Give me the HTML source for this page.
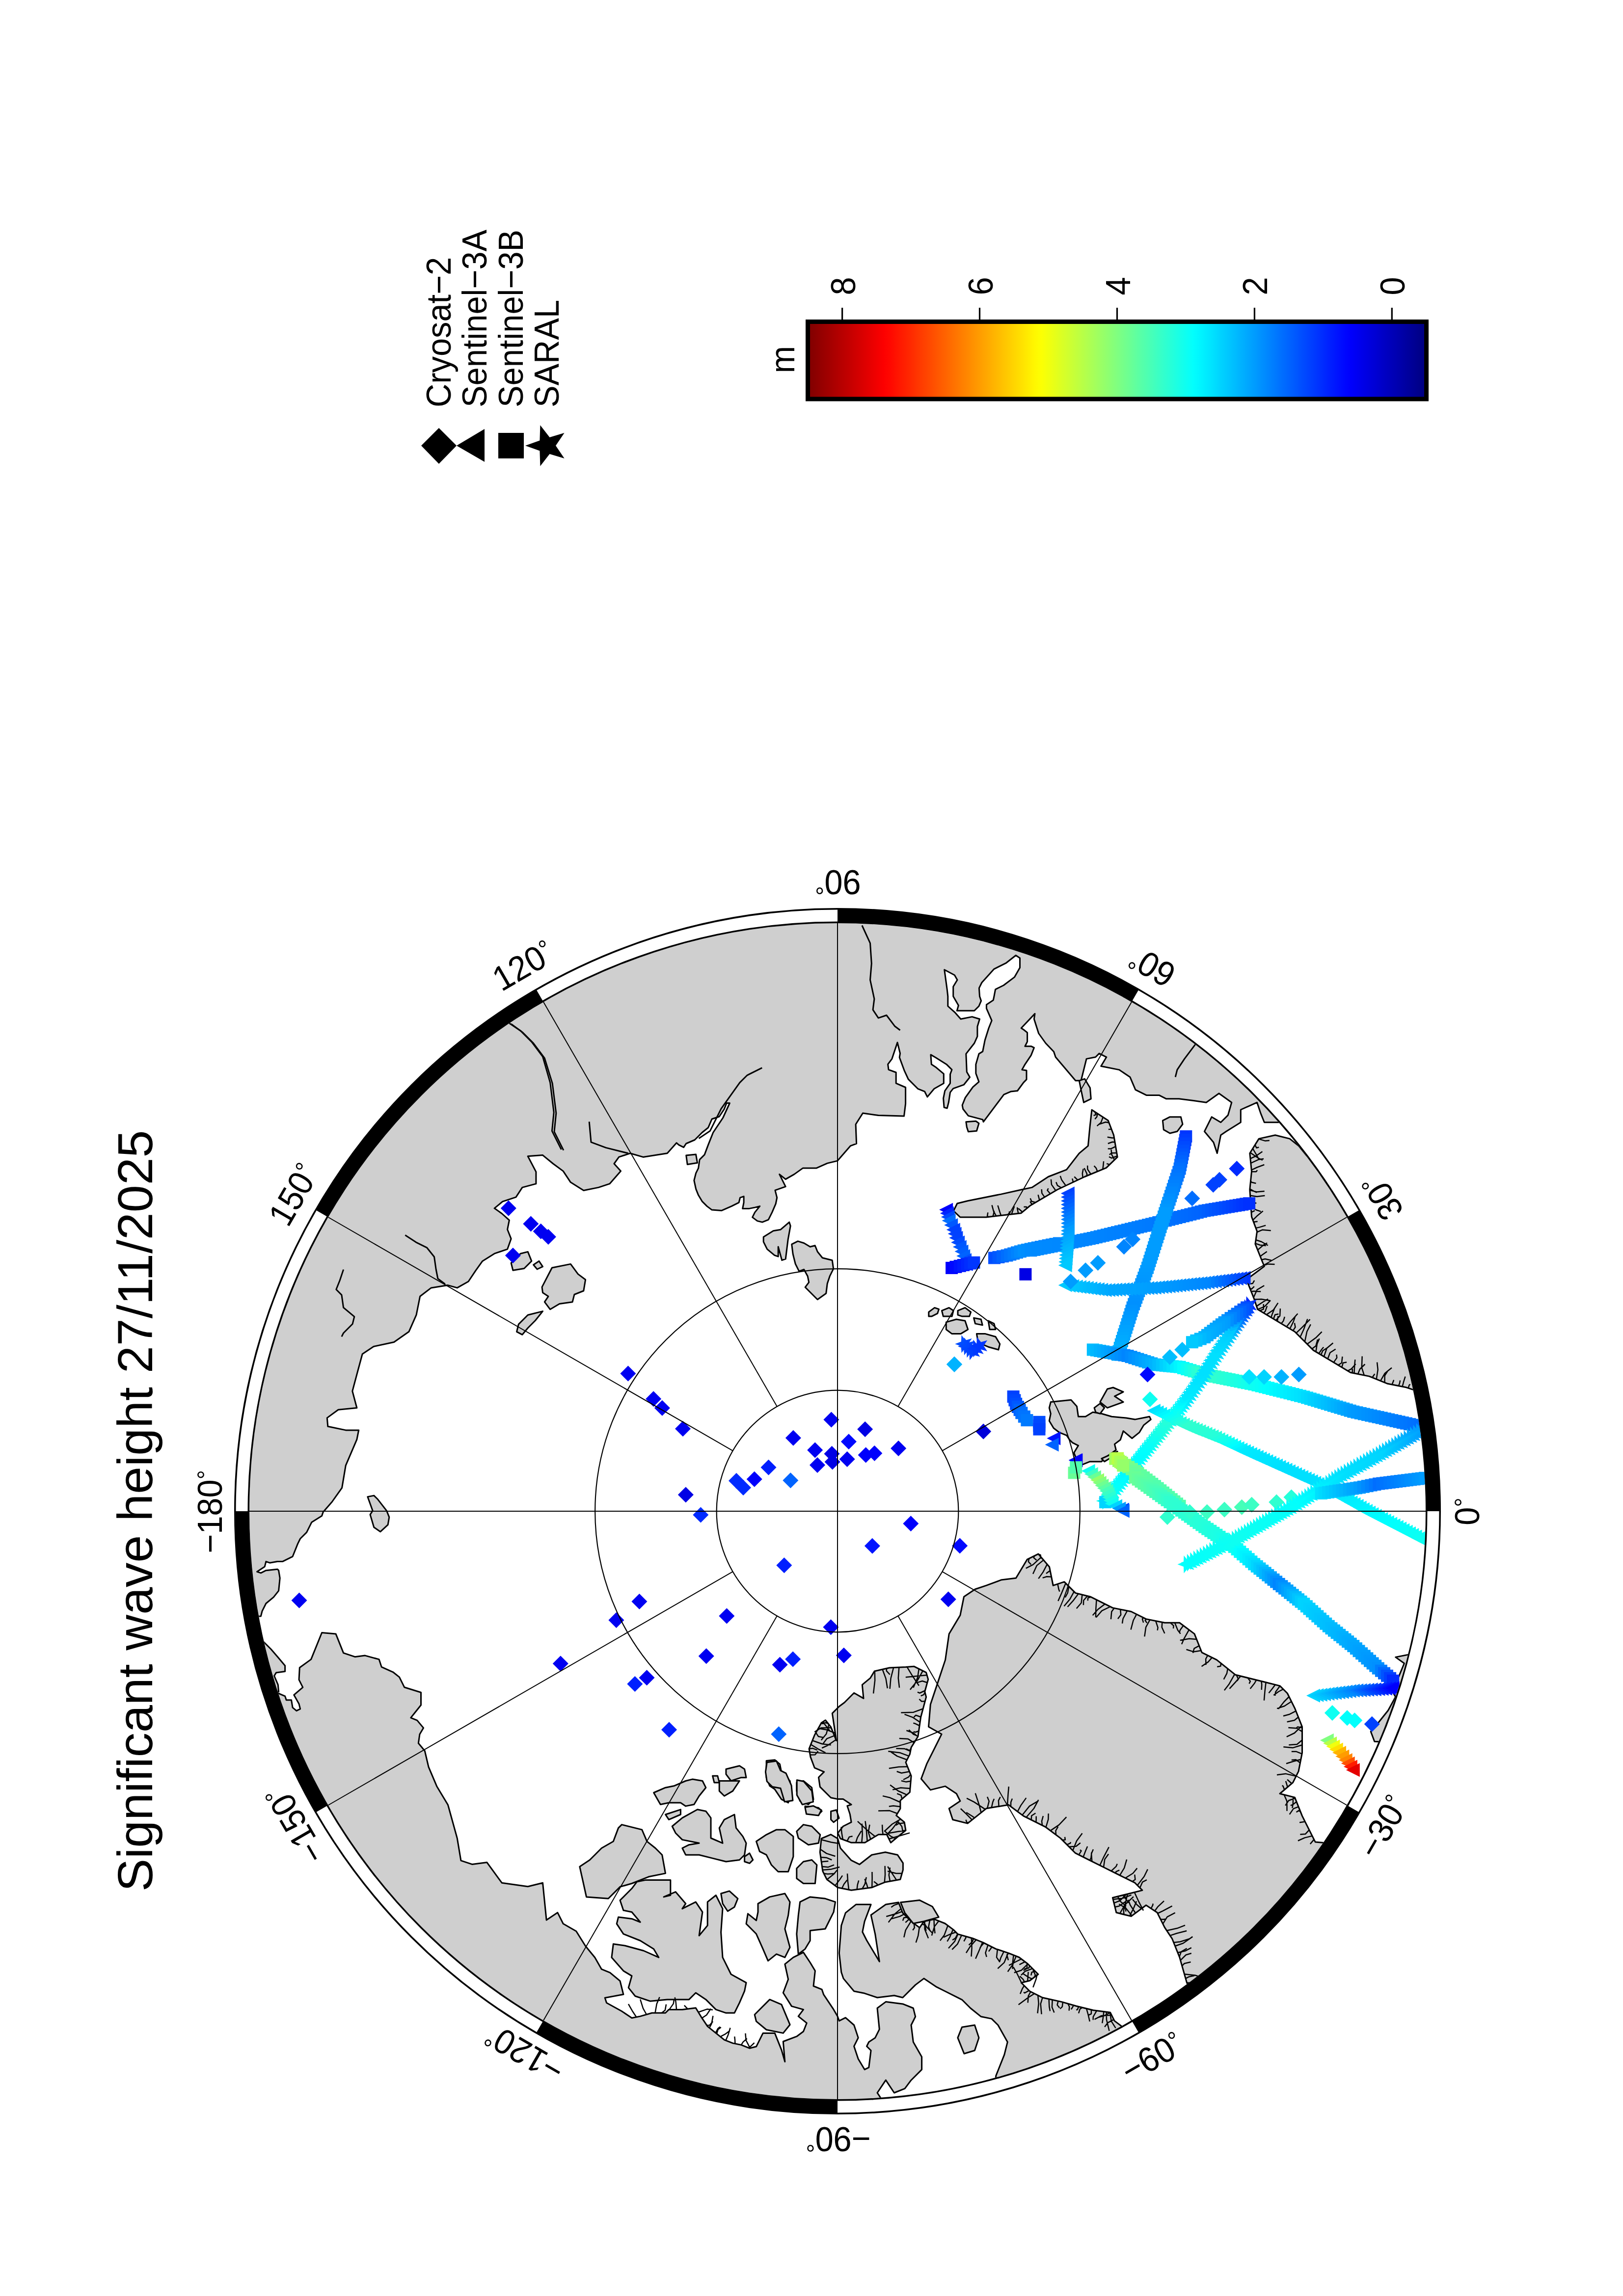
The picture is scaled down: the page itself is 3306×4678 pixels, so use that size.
<!DOCTYPE html><html><head><meta charset="utf-8"><style>html,body{margin:0;padding:0;background:#fff;}svg{display:block}</style></head><body>
<svg xmlns="http://www.w3.org/2000/svg" width="3306" height="4678" viewBox="0 0 3306 4678" font-family='"Liberation Sans", sans-serif'>
<rect width="3306" height="4678" fill="#fff"/>
<defs>
<clipPath id="mapclip"><circle cx="1706.0" cy="3079.0" r="1198.0"/></clipPath>
<linearGradient id="cb" x1="0" y1="0" x2="1" y2="0"><stop offset="0.0000" stop-color="#7f0000"/><stop offset="0.0111" stop-color="#8a0000"/><stop offset="0.0222" stop-color="#960000"/><stop offset="0.0333" stop-color="#a10000"/><stop offset="0.0444" stop-color="#ad0000"/><stop offset="0.0556" stop-color="#b80000"/><stop offset="0.0667" stop-color="#c30000"/><stop offset="0.0778" stop-color="#cf0000"/><stop offset="0.0889" stop-color="#da0000"/><stop offset="0.1000" stop-color="#e50000"/><stop offset="0.1111" stop-color="#f10000"/><stop offset="0.1222" stop-color="#fc0000"/><stop offset="0.1333" stop-color="#ff0800"/><stop offset="0.1444" stop-color="#ff1400"/><stop offset="0.1556" stop-color="#ff1f00"/><stop offset="0.1667" stop-color="#ff2a00"/><stop offset="0.1778" stop-color="#ff3600"/><stop offset="0.1889" stop-color="#ff4100"/><stop offset="0.2000" stop-color="#ff4c00"/><stop offset="0.2111" stop-color="#ff5800"/><stop offset="0.2222" stop-color="#ff6300"/><stop offset="0.2333" stop-color="#ff6e00"/><stop offset="0.2444" stop-color="#ff7a00"/><stop offset="0.2556" stop-color="#ff8500"/><stop offset="0.2667" stop-color="#ff9100"/><stop offset="0.2778" stop-color="#ff9c00"/><stop offset="0.2889" stop-color="#ffa700"/><stop offset="0.3000" stop-color="#ffb300"/><stop offset="0.3111" stop-color="#ffbe00"/><stop offset="0.3222" stop-color="#ffc900"/><stop offset="0.3333" stop-color="#ffd500"/><stop offset="0.3444" stop-color="#ffe000"/><stop offset="0.3556" stop-color="#ffeb00"/><stop offset="0.3667" stop-color="#fff700"/><stop offset="0.3778" stop-color="#fcff03"/><stop offset="0.3889" stop-color="#f1ff0e"/><stop offset="0.4000" stop-color="#e6ff19"/><stop offset="0.4111" stop-color="#daff25"/><stop offset="0.4222" stop-color="#cfff30"/><stop offset="0.4333" stop-color="#c3ff3c"/><stop offset="0.4444" stop-color="#b8ff47"/><stop offset="0.4556" stop-color="#adff52"/><stop offset="0.4667" stop-color="#a2ff5e"/><stop offset="0.4778" stop-color="#96ff69"/><stop offset="0.4889" stop-color="#8bff74"/><stop offset="0.5000" stop-color="#80ff80"/><stop offset="0.5111" stop-color="#74ff8b"/><stop offset="0.5222" stop-color="#69ff96"/><stop offset="0.5333" stop-color="#5dffa2"/><stop offset="0.5444" stop-color="#52ffad"/><stop offset="0.5556" stop-color="#47ffb8"/><stop offset="0.5667" stop-color="#3bffc4"/><stop offset="0.5778" stop-color="#30ffcf"/><stop offset="0.5889" stop-color="#25ffda"/><stop offset="0.6000" stop-color="#19ffe6"/><stop offset="0.6111" stop-color="#0efff1"/><stop offset="0.6222" stop-color="#03fffc"/><stop offset="0.6333" stop-color="#00f6ff"/><stop offset="0.6444" stop-color="#00ebff"/><stop offset="0.6556" stop-color="#00e0ff"/><stop offset="0.6667" stop-color="#00d4ff"/><stop offset="0.6778" stop-color="#00c9ff"/><stop offset="0.6889" stop-color="#00beff"/><stop offset="0.7000" stop-color="#00b2ff"/><stop offset="0.7111" stop-color="#00a7ff"/><stop offset="0.7222" stop-color="#009cff"/><stop offset="0.7333" stop-color="#0090ff"/><stop offset="0.7444" stop-color="#0085ff"/><stop offset="0.7556" stop-color="#007aff"/><stop offset="0.7667" stop-color="#006eff"/><stop offset="0.7778" stop-color="#0063ff"/><stop offset="0.7889" stop-color="#0058ff"/><stop offset="0.8000" stop-color="#004cff"/><stop offset="0.8111" stop-color="#0041ff"/><stop offset="0.8222" stop-color="#0036ff"/><stop offset="0.8333" stop-color="#002aff"/><stop offset="0.8444" stop-color="#001fff"/><stop offset="0.8556" stop-color="#0014ff"/><stop offset="0.8667" stop-color="#0008ff"/><stop offset="0.8778" stop-color="#0000fc"/><stop offset="0.8889" stop-color="#0000f1"/><stop offset="0.9000" stop-color="#0000e5"/><stop offset="0.9111" stop-color="#0000da"/><stop offset="0.9222" stop-color="#0000cf"/><stop offset="0.9333" stop-color="#0000c3"/><stop offset="0.9444" stop-color="#0000b8"/><stop offset="0.9556" stop-color="#0000ad"/><stop offset="0.9667" stop-color="#0000a1"/><stop offset="0.9778" stop-color="#000096"/><stop offset="0.9889" stop-color="#00008a"/><stop offset="1.0000" stop-color="#00007f"/></linearGradient>
</defs>
<g clip-path="url(#mapclip)">
<path d="M531.4,3292.9L534.0,3282.6L541.8,3267.0L557.3,3254.1L567.6,3241.1L570.2,3215.3L567.6,3199.7L565.0,3197.2L541.8,3199.7L531.4,3204.9L523.6,3202.3L539.2,3192.0L541.8,3181.6L549.5,3184.2L565.0,3181.6L575.4,3181.6L596.1,3171.3L606.5,3145.4L611.6,3135.0L624.6,3122.1L634.9,3101.4L655.6,3088.5L658.2,3080.7L676.3,3060.0L696.6,3031.3L704.2,2985.9L726.9,2932.9L730.7,2913.9L704.2,2913.9L667.8,2906.3L666.3,2888.9L689.0,2872.3L726.9,2868.5L717.8,2834.4L726.9,2800.3L738.2,2758.7L761.0,2743.5L802.6,2734.5L832.9,2713.3L848.0,2679.2L855.6,2641.3L878.3,2623.9L912.4,2618.6L931.3,2623.9L954.1,2611.0L969.2,2588.3L982.8,2569.4L1007.1,2554.2L1033.6,2545.1L1041.1,2523.9L1033.6,2505.0L1037.4,2486.1L1022.2,2472.5L1007.1,2461.8L1023.7,2448.2L1051.0,2439.1L1063.9,2419.4L1091.9,2411.9L1091.9,2387.6L1075.2,2355.8L1105.5,2353.6L1126.7,2371.0L1147.2,2386.1L1162.3,2408.8L1188.8,2425.5L1219.1,2419.4L1241.8,2411.9L1264.5,2386.1L1250.9,2371.0L1260.7,2357.4L1283.5,2349.8L1310.0,2357.4L1359.2,2349.8L1378.1,2328.6L1382.6,2332.6L1392.6,2337.6L1397.6,2330.0L1415.1,2322.5L1430.1,2307.5L1442.6,2297.5L1450.1,2280.0L1465.1,2275.0L1475.1,2260.0L1480.1,2247.5L1486.4,2247.5L1472.6,2277.5L1462.6,2292.5L1452.6,2307.5L1442.6,2332.6L1435.1,2352.6L1425.1,2362.6L1422.6,2380.1L1417.6,2390.1L1413.8,2405.1L1417.6,2422.6L1422.6,2435.1L1430.1,2447.6L1440.1,2457.6L1450.1,2465.1L1470.1,2466.4L1490.1,2457.6L1505.1,2450.1L1507.6,2440.1L1515.1,2437.6L1515.1,2450.1L1512.6,2462.6L1525.1,2462.6L1537.6,2460.1L1547.7,2457.6L1537.6,2470.1L1532.6,2480.1L1542.6,2487.6L1552.7,2490.1L1565.2,2485.1L1572.7,2470.1L1580.2,2452.6L1582.7,2440.1L1578.9,2425.1L1600.2,2417.6L1587.7,2392.6L1600.2,2402.6L1617.7,2392.6L1635.2,2380.1L1662.7,2380.1L1685.2,2370.1L1706.0,2365.1L1732.5,2334.6L1744.6,2330.1L1743.1,2290.7L1757.5,2268.0L1789.3,2272.5L1841.5,2274.1L1844.6,2248.8L1844.6,2215.5L1825.2,2207.2L1825.2,2185.0L1810.0,2179.4L1808.6,2168.4L1816.9,2157.3L1822.5,2140.6L1828.0,2124.0L1833.5,2146.2L1832.2,2154.5L1841.9,2180.8L1850.2,2198.9L1869.6,2218.3L1883.4,2223.8L1889.0,2234.9L1902.9,2218.3L1922.3,2207.2L1922.3,2187.8L1905.6,2173.9L1897.3,2168.4L1895.9,2148.9L1905.6,2154.5L1927.8,2168.4L1938.9,2179.4L1935.5,2188.7L1935.5,2207.1L1924.7,2222.5L1921.6,2237.9L1923.1,2256.4L1929.3,2258.0L1932.4,2245.7L1935.5,2225.6L1941.6,2217.9L1963.2,2210.2L1975.5,2194.8L1969.3,2184.0L1967.8,2147.1L1984.7,2125.5L1990.9,2111.6L1990.9,2091.6L1995.5,2076.2L1980.1,2071.6L1957.0,2076.2L1944.7,2062.3L1930.8,2050.0L1930.8,2030.0L1929.2,2015.9L1923.7,1975.7L1944.4,1986.7L1950.0,1996.5L1941.7,2010.3L1941.7,2030.0L1952.4,2048.5L1949.3,2059.3L1984.7,2059.3L1994.0,2050.0L1998.6,2039.2L1995.5,2030.0L1994.4,2013.1L1999.9,2002.0L2024.9,1974.3L2049.8,1961.8L2069.2,1946.5L2077.5,1952.1L2077.5,1971.5L2066.4,1990.9L2044.3,2007.5L2027.6,2015.9L2024.9,2030.0L2023.3,2037.7L2009.4,2046.9L2009.4,2054.6L2020.2,2079.3L2014.0,2094.7L2006.3,2119.3L2001.7,2142.4L1994.0,2147.1L1987.8,2168.6L1987.8,2187.1L1994.0,2204.1L1981.7,2214.8L1966.3,2236.4L1960.1,2251.8L1961.6,2259.5L1972.4,2273.4L2001.7,2281.1L2003.2,2285.7L2044.8,2230.2L2058.7,2224.1L2072.5,2222.5L2084.9,2205.6L2091.0,2199.4L2091.0,2181.0L2081.8,2179.4L2087.9,2168.6L2100.3,2150.1L2106.4,2134.7L2100.3,2131.7L2087.9,2131.7L2092.6,2122.4L2092.6,2103.9L2084.9,2097.8L2080.2,2094.7L2108.0,2065.4L2106.4,2076.2L2115.7,2105.5L2130.0,2125.5L2146.5,2142.7L2150.2,2153.8L2190.9,2201.8L2202.0,2201.8L2213.1,2157.4L2231.6,2153.8L2239.0,2146.4L2253.8,2153.8L2242.7,2172.2L2279.6,2179.6L2301.8,2194.4L2312.9,2220.3L2335.1,2231.4L2361.0,2231.4L2375.7,2238.8L2401.6,2238.8L2431.2,2242.5L2457.1,2246.2L2483.0,2227.7L2508.8,2246.2L2501.4,2272.1L2486.7,2286.8L2468.2,2275.7L2453.4,2305.3L2471.9,2327.5L2479.3,2349.7L2486.7,2312.7L2497.7,2305.3L2527.3,2286.8L2527.3,2261.0L2560.6,2246.2L2568.0,2268.4L2575.4,2286.8L2605.0,2286.8L2745.4,2201.8L2782.4,2349.7L2680.0,2371.9L2660.4,2353.4L2645.6,2334.9L2627.1,2320.1L2597.6,2312.7L2564.3,2320.1L2545.8,2349.7L2549.5,2386.7L2545.8,2423.6L2549.5,2479.1L2560.6,2508.7L2556.9,2534.5L2571.7,2571.5L2575.4,2580.0L2539.0,2607.2L2554.1,2645.1L2561.7,2667.8L2599.5,2690.5L2637.4,2713.3L2675.3,2751.1L2713.1,2773.8L2751.0,2796.5L2788.9,2804.1L2826.7,2819.3L2864.6,2826.8L2887.3,2834.4L3069.0,2910.1L3200.0,2900.0L3200.0,1600.0L300.0,1600.0L300.0,3300.0Z" fill="#cfcfcf" stroke="#000" stroke-width="3" stroke-linejoin="round"/>
<path d="M1555.2,2520.2L1575.2,2507.7L1590.2,2505.2L1607.7,2490.1L1610.2,2497.7L1605.2,2525.2L1602.7,2545.2L1600.2,2565.2L1592.7,2567.7L1585.2,2540.2L1585.2,2560.2L1577.7,2557.7L1562.7,2545.2L1555.2,2530.2Z" fill="#cfcfcf" stroke="#000" stroke-width="3" stroke-linejoin="round"/>
<path d="M1612.7,2535.2L1625.2,2528.9L1637.7,2532.7L1650.2,2540.2L1660.2,2537.7L1665.2,2550.2L1675.2,2562.7L1695.2,2567.7L1697.7,2585.2L1690.2,2600.2L1685.2,2615.2L1682.7,2635.2L1665.2,2647.7L1660.2,2642.7L1640.2,2622.7L1647.7,2612.7L1645.2,2600.2L1637.7,2586.5L1627.7,2590.2L1620.2,2575.2L1615.2,2555.2Z" fill="#cfcfcf" stroke="#000" stroke-width="3" stroke-linejoin="round"/>
<path d="M1104.0,2622.4L1124.4,2583.0L1162.3,2575.4L1177.4,2595.9L1192.6,2607.2L1188.8,2630.0L1169.9,2637.5L1166.1,2652.7L1139.6,2656.5L1120.7,2667.8L1109.3,2652.7L1116.9,2641.3L1105.5,2633.7Z" fill="#cfcfcf" stroke="#000" stroke-width="3" stroke-linejoin="round"/>
<path d="M1056.3,2698.1L1075.2,2679.2L1105.5,2671.6L1090.4,2690.5L1075.2,2705.7L1063.9,2719.3L1052.5,2713.3Z" fill="#cfcfcf" stroke="#000" stroke-width="3" stroke-linejoin="round"/>
<path d="M1041.1,2573.2L1060.1,2554.2L1075.2,2550.4L1082.8,2569.4L1067.6,2584.5L1044.9,2588.3Z" fill="#cfcfcf" stroke="#000" stroke-width="3" stroke-linejoin="round"/>
<path d="M1086.6,2577.0L1097.9,2569.4L1105.5,2580.7L1094.2,2586.0Z" fill="#cfcfcf" stroke="#000" stroke-width="3" stroke-linejoin="round"/>
<path d="M748.8,3049.6L759.1,3078.1L754.0,3085.9L761.7,3111.8L774.7,3120.8L790.2,3106.6L792.8,3091.1L787.6,3078.1L769.5,3054.8L761.7,3047.1Z" fill="#cfcfcf" stroke="#000" stroke-width="3" stroke-linejoin="round"/>
<path d="M2224.0,2261.2L2257.3,2283.1L2268.6,2312.7L2276.2,2357.4L2253.5,2379.3L2209.6,2397.5L2153.5,2424.0L2098.3,2456.5L2080.1,2471.7L2008.9,2480.0L1955.9,2480.0L1942.3,2467.2L1949.8,2452.0L1971.0,2446.7L2039.2,2433.1L2080.1,2424.0L2102.0,2419.4L2135.4,2397.5L2172.5,2383.1L2198.2,2349.8L2216.4,2334.6L2220.2,2294.5Z" fill="#cfcfcf" stroke="#000" stroke-width="3" stroke-linejoin="round"/>
<path d="M2198.3,2201.8L2209.4,2198.1L2220.5,2216.6L2222.3,2238.8L2207.5,2246.2L2202.0,2220.3Z" fill="#cfcfcf" stroke="#000" stroke-width="3" stroke-linejoin="round"/>
<path d="M2368.4,2283.1L2383.1,2275.7L2405.3,2275.7L2409.0,2290.5L2397.9,2305.3L2383.1,2309.0L2370.2,2301.6Z" fill="#cfcfcf" stroke="#000" stroke-width="3" stroke-linejoin="round"/>
<path d="M2140.3,2856.6L2181.7,2852.2L2193.5,2865.5L2196.5,2886.2L2211.2,2886.2L2226.0,2877.3L2243.8,2880.3L2264.5,2886.2L2294.0,2889.1L2311.8,2892.1L2341.4,2886.2L2344.3,2892.1L2329.5,2903.9L2320.7,2918.7L2305.9,2930.5L2288.1,2915.7L2282.2,2933.5L2270.4,2942.4L2273.3,2954.2L2252.6,2969.0L2243.8,2977.9L2220.1,2977.9L2205.3,2983.8L2193.5,2974.9L2187.6,2960.1L2196.5,2945.3L2184.6,2939.4L2178.7,2933.5L2172.8,2924.6L2158.0,2918.7L2146.2,2909.8L2137.3,2895.0L2140.3,2880.3L2137.3,2868.4Z" fill="#cfcfcf" stroke="#000" stroke-width="3" stroke-linejoin="round"/>
<path d="M2255.6,2830.0L2267.4,2827.0L2288.1,2835.9L2270.4,2844.8L2288.1,2856.6L2255.6,2868.4L2240.8,2856.6Z" fill="#cfcfcf" stroke="#000" stroke-width="3" stroke-linejoin="round"/>
<path d="M2229.0,2868.4L2240.8,2859.6L2249.7,2868.4L2240.8,2880.3L2231.9,2877.3Z" fill="#cfcfcf" stroke="#000" stroke-width="3" stroke-linejoin="round"/>
<path d="M2243.8,2971.9L2276.3,2957.2L2264.5,2969.0L2249.7,2977.9Z" fill="#cfcfcf" stroke="#000" stroke-width="3" stroke-linejoin="round"/>
<path d="M1891.8,2673.2L1903.7,2664.4L1912.5,2667.3L1909.6,2676.2L1897.7,2682.1L1891.8,2682.1Z" fill="#cfcfcf" stroke="#000" stroke-width="3" stroke-linejoin="round"/>
<path d="M1918.4,2670.3L1933.2,2664.4L1942.1,2670.3L1939.1,2682.1L1921.4,2682.1Z" fill="#cfcfcf" stroke="#000" stroke-width="3" stroke-linejoin="round"/>
<path d="M1951.0,2670.3L1965.8,2664.4L1977.6,2673.2L1974.6,2682.1L1959.9,2682.1L1951.0,2679.1Z" fill="#cfcfcf" stroke="#000" stroke-width="3" stroke-linejoin="round"/>
<path d="M1927.3,2693.9L1948.0,2688.0L1965.8,2691.0L1971.7,2708.7L1956.9,2717.6L1939.1,2717.6L1927.3,2708.7Z" fill="#cfcfcf" stroke="#000" stroke-width="3" stroke-linejoin="round"/>
<path d="M1989.4,2717.6L2007.2,2717.6L2027.9,2723.5L2036.7,2738.3L2033.8,2750.1L2013.1,2744.2L1992.4,2735.3Z" fill="#cfcfcf" stroke="#000" stroke-width="3" stroke-linejoin="round"/>
<path d="M1983.5,2685.1L1998.3,2688.0L2001.3,2699.9L1986.5,2696.9Z" fill="#cfcfcf" stroke="#000" stroke-width="3" stroke-linejoin="round"/>
<path d="M2013.1,2691.0L2024.9,2696.9L2027.9,2708.7L2016.0,2708.7Z" fill="#cfcfcf" stroke="#000" stroke-width="3" stroke-linejoin="round"/>
<path d="M515.9,3331.7L536.6,3344.7L552.1,3360.2L567.6,3378.3L580.6,3393.8L580.6,3405.5L562.5,3408.1L558.6,3414.5L566.3,3432.6L567.6,3446.9L515.9,3448.2Z" fill="#cfcfcf" stroke="#000" stroke-width="3" stroke-linejoin="round"/>
<path d="M568.9,3450.8L580.6,3455.9L583.2,3463.7L593.5,3463.7L596.1,3479.2L603.9,3485.7L611.6,3481.8L609.0,3471.5L598.7,3453.3L616.8,3437.8L609.0,3422.3L610.3,3397.7L633.6,3380.9L655.6,3326.5L684.1,3329.1L699.6,3367.9L722.9,3375.7L743.6,3373.1L772.1,3380.9L777.2,3396.4L800.5,3406.8L813.5,3417.1L823.8,3437.8L857.5,3448.2L857.5,3474.0L847.1,3487.0L836.8,3499.9L849.7,3505.1L862.6,3520.6L854.9,3533.6L852.3,3551.7L865.2,3567.2L873.0,3600.1L889.7,3639.4L912.4,3677.2L931.3,3745.4L938.9,3790.8L961.6,3798.4L991.9,3794.6L1022.2,3836.2L1075.2,3843.8L1105.5,3836.2L1109.3,3874.1L1113.1,3912.0L1135.8,3896.8L1147.2,3919.5L1173.7,3934.7L1192.6,3965.0L1211.7,3988.2L1225.4,4012.2L1242.5,4019.1L1263.0,4036.2L1269.9,4063.6L1232.2,4070.4L1235.6,4080.7L1266.5,4097.8L1287.0,4111.5L1304.2,4108.1L1328.1,4101.3L1355.5,4101.3L1362.4,4094.4L1389.8,4094.4L1417.2,4091.0L1427.5,4108.1L1441.2,4128.7L1458.3,4142.4L1475.4,4156.1L1492.6,4162.9L1509.7,4166.4L1526.8,4173.2L1540.5,4169.8L1554.2,4142.4L1578.2,4142.4L1591.9,4176.6L1598.8,4200.6L1595.3,4159.5L1622.8,4149.2L1636.5,4139.0L1643.3,4121.8L1626.2,4108.1L1636.5,4094.4L1612.5,4087.6L1595.3,4060.2L1605.6,4032.8L1598.8,4001.9L1615.9,3988.2L1636.5,3977.9L1650.2,3998.5L1660.4,4015.6L1657.0,4046.5L1674.1,4053.3L1677.6,4063.6L1698.1,4094.4L1706.0,4108.1L1709.4,4117.4L1722.3,4110.9L1739.6,4126.0L1748.2,4151.9L1739.6,4169.2L1748.2,4195.0L1761.1,4216.6L1769.8,4212.3L1774.1,4177.8L1765.5,4169.2L1769.8,4160.5L1782.7,4151.9L1791.3,4134.7L1787.0,4091.5L1804.3,4078.6L1838.8,4082.9L1860.3,4091.5L1864.7,4108.8L1856.0,4126.0L1860.3,4160.5L1877.6,4190.7L1877.6,4216.6L1856.0,4238.2L1843.1,4255.4L1821.5,4264.0L1804.3,4238.2L1787.0,4264.0L1795.7,4277.0L1795.7,4410.7L1700.0,4500.0L300.0,4500.0L300.0,3400.0Z" fill="#cfcfcf" stroke="#000" stroke-width="3" stroke-linejoin="round"/>
<path d="M1180.8,3803.2L1201.4,3789.5L1211.7,3779.2L1225.4,3765.5L1249.3,3751.8L1259.6,3724.4L1266.5,3717.6L1307.6,3727.9L1317.9,3751.8L1335.0,3765.5L1348.7,3779.2L1355.5,3816.9L1321.3,3823.8L1287.0,3837.5L1263.0,3844.3L1252.8,3854.6L1239.1,3868.3L1194.5,3864.9L1187.7,3834.1Z" fill="#cfcfcf" stroke="#000" stroke-width="3" stroke-linejoin="round"/>
<path d="M1263.0,3871.7L1273.3,3861.5L1287.0,3847.8L1297.3,3834.1L1314.4,3830.6L1365.8,3830.6L1365.8,3861.5L1352.1,3864.9L1376.1,3854.6L1396.7,3878.6L1389.8,3888.9L1417.2,3875.2L1430.9,3895.7L1424.1,3943.7L1441.2,3923.1L1441.2,3875.2L1458.3,3861.5L1472.0,3888.9L1468.6,3936.8L1472.0,3988.2L1489.1,4022.5L1520.0,4039.6L1516.6,4056.7L1506.3,4080.7L1496.0,4101.3L1478.9,4101.3L1458.3,4094.4L1437.8,4073.9L1417.2,4060.2L1403.5,4073.9L1359.0,4073.9L1324.7,4077.3L1293.9,4067.0L1280.2,4049.9L1287.0,4025.9L1269.9,4015.6L1245.9,3988.2L1249.3,3960.8L1273.3,3964.2L1311.0,3974.5L1341.8,3988.2L1331.6,3971.1L1304.2,3954.0L1269.9,3940.3L1256.2,3919.7L1259.6,3906.0L1287.0,3909.4L1304.2,3916.3L1287.0,3895.7L1269.9,3892.3Z" fill="#cfcfcf" stroke="#000" stroke-width="3" stroke-linejoin="round"/>
<path d="M1331.6,3652.5L1355.5,3642.2L1372.7,3638.8L1396.7,3628.5L1410.4,3625.1L1430.9,3628.5L1437.8,3642.2L1424.1,3659.3L1413.8,3676.5L1396.7,3679.9L1386.4,3673.0L1362.4,3673.0L1345.3,3676.5Z" fill="#cfcfcf" stroke="#000" stroke-width="3" stroke-linejoin="round"/>
<path d="M1355.5,3697.0L1386.4,3686.8L1386.4,3697.0L1362.4,3707.3Z" fill="#cfcfcf" stroke="#000" stroke-width="3" stroke-linejoin="round"/>
<path d="M1369.2,3721.0L1389.8,3703.9L1420.6,3686.8L1437.8,3690.2L1448.0,3703.9L1448.0,3745.0L1472.0,3755.3L1465.2,3724.4L1475.4,3707.3L1496.0,3697.0L1499.4,3724.4L1513.1,3741.6L1520.0,3755.3L1516.6,3779.2L1506.3,3789.5L1478.9,3793.0L1451.5,3786.1L1424.1,3779.2L1396.7,3779.2L1389.8,3765.5L1403.5,3758.7L1424.1,3755.3L1389.8,3748.4L1376.1,3734.7Z" fill="#cfcfcf" stroke="#000" stroke-width="3" stroke-linejoin="round"/>
<path d="M1478.9,3604.5L1506.3,3597.7L1516.6,3604.5L1520.0,3621.7L1509.7,3621.7L1489.1,3628.5L1478.9,3614.8Z" fill="#cfcfcf" stroke="#000" stroke-width="3" stroke-linejoin="round"/>
<path d="M1465.2,3628.5L1506.3,3628.5L1492.6,3649.1L1475.4,3659.3L1465.2,3649.1Z" fill="#cfcfcf" stroke="#000" stroke-width="3" stroke-linejoin="round"/>
<path d="M1451.5,3618.2L1461.7,3618.2L1465.2,3631.9L1454.9,3631.9Z" fill="#cfcfcf" stroke="#000" stroke-width="3" stroke-linejoin="round"/>
<path d="M1516.6,3782.7L1526.8,3775.8L1533.7,3789.5L1526.8,3796.4L1516.6,3793.0Z" fill="#cfcfcf" stroke="#000" stroke-width="3" stroke-linejoin="round"/>
<path d="M1561.1,3587.4L1578.2,3585.7L1588.5,3594.3L1591.9,3611.4L1609.1,3628.5L1612.5,3655.9L1605.6,3673.0L1591.9,3666.2L1578.2,3645.6L1567.9,3638.8L1561.1,3621.7Z" fill="#cfcfcf" stroke="#000" stroke-width="3" stroke-linejoin="round"/>
<path d="M1622.8,3631.9L1636.5,3628.5L1653.6,3642.2L1657.0,3666.2L1646.7,3676.5L1629.6,3669.6L1622.8,3649.1Z" fill="#cfcfcf" stroke="#000" stroke-width="3" stroke-linejoin="round"/>
<path d="M1540.5,3751.8L1561.1,3738.1L1581.6,3727.9L1598.8,3727.9L1615.9,3741.6L1615.9,3782.7L1605.6,3813.5L1585.1,3813.5L1571.4,3799.8L1561.1,3779.2L1547.4,3772.4Z" fill="#cfcfcf" stroke="#000" stroke-width="3" stroke-linejoin="round"/>
<path d="M1622.8,3731.3L1636.5,3717.6L1653.6,3721.0L1670.7,3738.1L1667.3,3755.3L1646.7,3758.7L1626.2,3745.0Z" fill="#cfcfcf" stroke="#000" stroke-width="3" stroke-linejoin="round"/>
<path d="M1622.8,3806.7L1636.5,3793.0L1653.6,3789.5L1663.9,3799.8L1660.4,3837.5L1636.5,3837.5L1622.8,3827.2Z" fill="#cfcfcf" stroke="#000" stroke-width="3" stroke-linejoin="round"/>
<path d="M1639.9,3679.9L1667.3,3683.3L1674.1,3690.2L1667.3,3697.0L1643.3,3693.6Z" fill="#cfcfcf" stroke="#000" stroke-width="3" stroke-linejoin="round"/>
<path d="M1544.0,3878.6L1567.9,3864.9L1598.8,3858.0L1609.1,3875.2L1605.6,3902.6L1598.8,3930.0L1609.1,3967.7L1598.8,3988.2L1581.6,3981.4L1564.5,3995.1L1554.2,3971.1L1540.5,3940.3L1520.0,3919.7L1523.4,3899.1L1540.5,3912.9L1544.0,3895.7Z" fill="#cfcfcf" stroke="#000" stroke-width="3" stroke-linejoin="round"/>
<path d="M1629.6,3875.2L1650.2,3864.9L1681.0,3868.3L1701.5,3875.2L1698.1,3895.7L1681.0,3930.0L1650.2,3933.4L1650.2,3954.0L1639.9,3971.1L1626.2,3981.4L1622.8,3940.3L1626.2,3902.6Z" fill="#cfcfcf" stroke="#000" stroke-width="3" stroke-linejoin="round"/>
<path d="M1468.6,3858.0L1485.7,3852.9L1502.9,3868.3L1496.0,3885.4L1482.3,3894.0L1472.0,3878.6Z" fill="#cfcfcf" stroke="#000" stroke-width="3" stroke-linejoin="round"/>
<path d="M1537.1,4104.7L1567.9,4073.9L1591.9,4084.1L1609.1,4125.2L1595.3,4142.4L1561.1,4135.5L1540.5,4118.4Z" fill="#cfcfcf" stroke="#000" stroke-width="3" stroke-linejoin="round"/>
<path d="M1781.2,3405.0L1811.7,3398.0L1845.0,3396.6L1861.6,3395.2L1886.6,3407.7L1890.7,3421.6L1883.8,3446.5L1886.6,3457.6L1875.5,3499.2L1869.9,3538.0L1856.1,3560.2L1853.3,3574.1L1845.0,3590.7L1856.1,3618.4L1853.3,3651.7L1833.9,3668.4L1833.9,3685.0L1825.6,3698.9L1842.2,3712.7L1845.0,3729.4L1831.1,3740.4L1814.5,3754.3L1806.2,3737.7L1789.5,3737.7L1761.8,3754.3L1734.1,3754.3L1711.9,3746.0L1706.4,3734.9L1717.4,3721.0L1734.1,3712.7L1731.3,3696.1L1725.8,3679.4L1734.1,3676.7L1717.4,3665.6L1706.4,3665.6L1692.5,3662.8L1670.3,3640.6L1667.5,3621.2L1678.6,3610.1L1659.2,3601.8L1650.9,3579.6L1648.1,3563.0L1659.2,3535.3L1673.1,3510.3L1681.4,3504.8L1692.5,3518.6L1703.6,3546.4L1695.3,3490.9L1709.1,3477.0L1720.2,3468.7L1739.6,3449.3L1759.0,3460.4L1756.3,3432.7L1772.9,3418.8Z" fill="#cfcfcf" stroke="#000" stroke-width="3" stroke-linejoin="round"/>
<path d="M1673.1,3746.0L1692.5,3737.7L1706.4,3746.0L1711.9,3765.4L1734.1,3790.4L1750.7,3798.7L1775.7,3779.3L1803.4,3773.7L1828.4,3779.3L1839.4,3795.9L1839.4,3809.8L1833.9,3829.2L1803.4,3834.7L1775.7,3845.8L1734.1,3851.3L1706.4,3845.8L1684.2,3829.2L1675.9,3812.5L1670.3,3773.7Z" fill="#cfcfcf" stroke="#000" stroke-width="3" stroke-linejoin="round"/>
<path d="M1562.2,3590.7L1581.6,3587.9L1589.9,3607.4L1601.0,3612.9L1612.1,3637.9L1614.9,3668.4L1598.2,3671.1L1589.9,3643.4L1573.3,3640.6L1562.2,3629.5L1559.4,3610.1Z" fill="#cfcfcf" stroke="#000" stroke-width="3" stroke-linejoin="round"/>
<path d="M1623.2,3626.8L1637.0,3629.5L1653.7,3648.9L1656.5,3671.1L1634.3,3676.7L1623.2,3657.3Z" fill="#cfcfcf" stroke="#000" stroke-width="3" stroke-linejoin="round"/>
<path d="M1639.8,3682.2L1656.5,3679.4L1673.1,3687.8L1667.5,3698.9L1642.6,3696.1Z" fill="#cfcfcf" stroke="#000" stroke-width="3" stroke-linejoin="round"/>
<path d="M1692.5,3690.5L1703.6,3687.8L1709.1,3704.4L1698.0,3712.7L1692.5,3707.2Z" fill="#cfcfcf" stroke="#000" stroke-width="3" stroke-linejoin="round"/>
<path d="M2092.2,3177.4L2114.9,3166.1L2137.6,3192.6L2145.2,3230.4L2167.9,3222.9L2190.6,3245.6L2220.9,3253.2L2266.4,3275.9L2304.2,3283.5L2334.5,3298.6L2372.4,3306.2L2402.7,3306.2L2433.0,3328.9L2448.1,3366.8L2478.4,3381.9L2516.2,3412.2L2546.5,3419.8L2576.8,3427.3L2607.1,3434.9L2622.3,3450.0L2637.4,3480.3L2652.5,3518.2L2652.5,3571.2L2645.0,3609.1L2633.6,3631.8L2607.1,3654.5L2637.4,3662.1L2652.5,3699.9L2667.7,3730.2L2679.1,3752.9L2766.1,3760.5L2539.0,4139.1L2417.8,4040.7L2402.7,3987.7L2387.5,3949.8L2372.4,3927.1L2357.2,3896.8L2334.5,3881.7L2304.2,3904.4L2273.9,3896.8L2266.4,3866.5L2296.6,3859.0L2326.9,3851.4L2311.8,3836.2L2281.5,3821.1L2251.2,3806.0L2220.9,3790.8L2190.6,3775.7L2160.3,3745.4L2130.1,3722.7L2084.6,3699.9L2054.3,3677.2L2008.9,3684.8L1971.0,3715.1L1940.7,3707.5L1933.2,3684.8L1955.9,3669.6L1948.3,3654.5L1925.6,3639.4L1895.3,3646.9L1876.4,3624.2L1887.7,3593.9L1902.9,3563.6L1918.0,3533.3L1891.5,3518.2L1895.3,3472.8L1910.5,3427.3L1925.6,3381.9L1933.2,3328.9L1955.9,3291.0L1963.5,3253.2L1986.2,3238.0L2008.9,3230.4L2039.2,3219.1L2069.5,3215.3Z" fill="#cfcfcf" stroke="#000" stroke-width="3" stroke-linejoin="round"/>
<path d="M2028.6,4229.5L2045.8,4186.4L2052.3,4160.5L2032.9,4126.0L2019.9,4113.1L1998.4,4108.8L1976.8,4091.5L1959.5,4074.3L1925.0,4057.0L1907.8,4048.4L1881.9,4031.1L1864.7,4044.1L1838.8,4070.0L1821.5,4065.7L1787.0,4070.0L1761.1,4061.3L1739.6,4057.0L1718.0,4031.1L1713.7,4018.2L1709.4,3979.4L1713.7,3923.3L1722.3,3897.4L1743.9,3880.2L1774.1,3880.2L1761.1,3914.7L1756.8,3936.3L1765.5,3953.5L1778.4,3975.1L1791.3,3996.6L1782.7,3940.6L1774.1,3901.8L1804.3,3880.2L1830.2,3875.9L1838.8,3897.4L1856.0,3914.7L1873.3,3927.6L1881.9,3914.7L1903.5,3910.4L1925.0,3919.0L1942.3,3931.9L1950.9,3940.6L1981.1,3949.2L2002.7,3957.8L2028.6,3970.8L2054.4,3979.4L2076.0,3988.0L2093.2,4001.0L2114.8,4022.5L2097.6,4035.5L2080.3,4039.8L2097.6,4057.0L2123.4,4070.0L2162.3,4078.6L2192.4,4087.2L2227.0,4095.8L2261.5,4100.2L2270.1,4117.4L2287.3,4130.3L2287.3,4195.0L2140.7,4238.2L2028.6,4281.3Z" fill="#cfcfcf" stroke="#000" stroke-width="3" stroke-linejoin="round"/>
<path d="M1834.5,3875.9L1873.3,3871.6L1899.2,3884.5L1912.1,3906.1L1881.9,3914.7L1860.3,3919.0L1843.1,3897.4Z" fill="#cfcfcf" stroke="#000" stroke-width="3" stroke-linejoin="round"/>
<path d="M1950.9,4151.9L1959.5,4130.3L1985.4,4126.0L1994.0,4151.9L1985.4,4177.8L1963.9,4184.3Z" fill="#cfcfcf" stroke="#000" stroke-width="3" stroke-linejoin="round"/>
<path d="M2842.7,3376.4L2860.4,3389.0L2847.8,3419.3L2835.1,3444.6L2842.7,3457.2L2827.5,3485.0L2807.3,3510.3L2792.2,3528.0L2799.8,3548.2L2958.9,3555.8L2958.9,3353.7Z" fill="#cfcfcf" stroke="#000" stroke-width="3" stroke-linejoin="round"/>
<path d="M1967.8,2285.7L1987.8,2284.2L1994.0,2288.8L1989.4,2304.2L1972.4,2305.7L1969.3,2296.5Z" fill="#cfcfcf" stroke="#000" stroke-width="3" stroke-linejoin="round"/>
<path d="M1037.4,2084.7L1060.1,2099.9L1082.8,2122.6L1105.5,2152.9L1120.7,2205.9L1128.2,2266.5L1124.4,2304.3L1143.4,2342.2" fill="none" stroke="#000" stroke-width="3" stroke-linejoin="round"/>
<path d="M1041.1,2086.3L1063.9,2102.9L1086.6,2125.6L1109.3,2155.9L1125.2,2207.4L1132.8,2268.0L1129.0,2305.9L1147.9,2343.7" fill="none" stroke="#000" stroke-width="3" stroke-linejoin="round"/>
<path d="M1200.2,2285.4L1204.0,2327.1L1234.2,2338.4L1279.7,2349.8" fill="none" stroke="#000" stroke-width="3" stroke-linejoin="round"/>
<path d="M1423.5,2319.5L1446.3,2304.3L1469.0,2258.9L1506.8,2205.9L1522.0,2190.8L1552.3,2175.6" fill="none" stroke="#000" stroke-width="3" stroke-linejoin="round"/>
<path d="M1755.9,1885.5L1772.5,1921.6L1775.3,1963.2L1772.5,1996.5L1780.9,2035.3L1778.1,2057.4L1789.2,2074.1L1805.8,2068.5L1822.5,2090.7L1833.5,2099.0" fill="none" stroke="#000" stroke-width="3" stroke-linejoin="round"/>
<path d="M2434.9,2127.9L2412.7,2157.4L2397.9,2179.6L2394.2,2194.4" fill="none" stroke="#000" stroke-width="3" stroke-linejoin="round"/>
<path d="M2096.2,3175.4L2094.8,3181.8L2100.2,3187.6M2107.1,3170.0L2105.6,3173.9L2111.4,3178.8M2114.2,3166.4L2119.6,3168.1L2119.8,3175.8M2120.6,3172.8L2104.3,3187.9L2089.7,3195.4M2125.6,3178.6L2112.0,3189.6L2104.1,3206.8M2133.0,3187.2L2124.8,3202.9L2115.3,3216.4M2139.1,3200.1L2132.8,3204.5L2131.1,3206.1M2141.7,3212.8L2132.3,3212.2L2123.7,3214.9M2154.5,3227.4L2156.6,3238.0L2158.4,3242.7M2170.8,3225.7L2162.4,3245.9L2155.3,3261.9M2177.2,3232.2L2174.8,3245.5L2169.7,3254.6M2187.8,3242.8L2179.3,3258.4L2167.5,3272.5M2196.8,3247.1L2185.5,3261.9L2174.6,3274.0M2204.4,3249.0L2202.6,3265.7L2192.8,3277.2M2215.1,3251.7L2207.2,3260.7L2206.9,3270.3M2222.4,3253.9L2216.1,3255.6L2215.8,3261.3M2233.5,3259.5L2232.3,3277.8L2232.0,3295.3M2250.9,3268.1L2236.5,3279.0L2225.7,3291.3M2261.6,3273.5L2244.4,3281.9L2232.7,3295.5M2269.6,3276.5L2264.3,3283.8L2262.9,3299.1M2282.2,3279.0L2283.2,3290.1L2277.0,3298.2M2296.1,3281.8L2287.5,3298.0L2286.0,3307.7M2315.2,3288.9L2308.5,3301.5L2303.5,3320.4M2329.4,3296.0L2326.9,3298.3L2329.1,3306.0M2335.2,3298.7L2332.6,3301.6L2336.4,3306.7M2342.4,3300.2L2334.1,3315.3L2331.4,3334.4M2354.1,3302.5L2358.6,3316.1L2357.6,3321.8M2367.3,3305.2L2366.7,3315.4L2372.4,3328.1M2384.0,3306.2L2390.6,3312.2L2390.0,3317.9M2393.0,3306.2L2399.0,3321.3L2404.6,3328.8M2410.5,3312.0L2403.8,3321.3L2402.5,3326.3M2422.0,3320.7L2412.3,3337.8L2407.0,3350.0M2437.4,3340.0L2422.4,3338.8L2403.7,3342.1M2442.7,3353.2L2432.5,3358.7L2429.9,3367.8M2446.6,3363.1L2431.2,3365.4L2416.5,3360.8M2460.1,3372.7L2456.1,3380.0L2456.5,3392.1M2468.9,3377.1L2461.0,3386.1L2447.6,3395.3M2487.1,3388.9L2486.4,3394.7L2479.2,3396.1M2500.8,3399.8L2499.1,3409.4L2492.7,3421.7M2515.0,3411.2L2503.7,3431.2L2493.9,3444.1M2518.6,3412.8L2522.4,3421.2L2519.8,3424.8M2527.3,3415.0L2517.2,3426.6L2504.5,3440.7M2541.6,3418.5L2546.8,3425.6L2544.5,3430.4M2559.2,3422.9L2555.5,3429.5L2546.6,3440.8M2569.4,3425.5L2570.2,3432.2L2569.7,3442.9M2578.6,3427.8L2576.4,3446.9L2574.9,3464.7M2597.7,3432.5L2591.1,3441.3L2584.5,3449.5M2607.3,3435.1L2598.3,3447.3L2597.3,3454.8M2614.0,3441.7L2604.6,3446.5L2594.3,3454.0M2625.7,3457.0L2615.4,3467.5L2604.1,3482.0M2630.6,3466.7L2616.4,3476.0L2601.2,3481.1M2639.7,3486.1L2627.0,3492.7L2614.0,3496.2M2644.7,3498.5L2636.7,3505.0L2621.6,3508.3M2651.8,3516.4L2636.8,3531.0L2620.8,3538.6M2652.5,3520.1L2643.2,3518.4L2640.7,3520.8M2652.5,3528.1L2641.6,3521.3L2624.3,3519.9M2652.5,3545.2L2642.0,3554.0L2625.3,3555.3M2652.5,3555.2L2633.3,3561.1L2614.3,3559.2M2652.1,3573.4L2640.2,3568.7L2630.8,3568.8M2649.9,3584.7L2635.4,3588.5L2620.0,3593.3M2648.4,3591.8L2639.7,3585.3L2630.8,3585.9M2640.0,3618.9L2618.7,3613.9L2601.0,3616.3M2630.7,3634.2L2629.7,3632.5L2622.1,3625.7M2622.7,3641.2L2621.4,3636.6L2619.0,3628.9M2616.4,3646.5L2613.4,3638.8L2611.5,3638.0M2615.7,3656.7L2621.4,3669.8L2621.5,3689.8M2634.2,3661.3L2633.7,3675.9L2632.3,3683.7M2638.1,3663.8L2625.0,3668.5L2618.2,3678.6M2640.9,3670.9L2633.3,3676.9L2628.8,3678.7M2645.0,3681.2L2634.7,3685.1L2626.7,3696.7M2648.9,3690.9L2645.2,3689.1L2640.5,3692.2M2658.4,3711.6L2652.2,3712.4L2647.1,3713.3M2666.8,3728.4L2659.0,3736.8L2648.3,3737.4M2672.9,3740.6L2657.6,3744.4L2643.9,3750.5M2676.4,3747.6L2674.5,3750.4L2668.8,3757.1" fill="none" stroke="#000" stroke-width="2.5" stroke-linejoin="round"/>
<path d="M2417.5,4039.7L2438.4,4039.8L2456.5,4043.3M2415.1,4031.2L2421.3,4027.8L2433.0,4025.2M2412.6,4022.3L2434.3,4024.5L2455.3,4030.8M2407.7,4005.4L2412.6,4000.5L2425.5,3997.5M2404.5,3994.2L2415.7,3983.0L2426.8,3979.7M2402.3,3986.7L2406.1,3976.6L2417.5,3969.7M2399.0,3978.5L2414.9,3974.7L2426.8,3968.3M2393.6,3965.0L2410.1,3959.3L2429.3,3945.9M2390.7,3957.7L2403.9,3956.3L2424.5,3949.6M2383.3,3943.6L2397.4,3939.0L2417.2,3934.0M2376.7,3933.5L2397.9,3928.8L2414.0,3922.7M2368.7,3919.8L2377.5,3905.6L2393.7,3897.2M2364.1,3910.5L2370.4,3910.8L2375.9,3909.0M2358.0,3898.5L2368.8,3893.3L2387.6,3883.3M2352.2,3893.5L2358.2,3885.2L2371.1,3873.1M2344.7,3888.5L2348.4,3881.1L2348.4,3878.4M2325.1,3888.7L2315.9,3880.7L2307.0,3869.7M2313.0,3897.8L2302.2,3881.5L2298.2,3870.8M2305.7,3903.2L2293.1,3887.5L2279.3,3879.5M2301.1,3903.6L2309.5,3887.0L2315.0,3873.8M2289.3,3900.7L2288.8,3891.5L2294.5,3876.0M2281.1,3898.6L2291.2,3881.1L2308.9,3864.3M2271.1,3885.5L2279.7,3883.5L2293.0,3874.3M2269.0,3877.3L2281.4,3872.5L2293.3,3860.5M2267.2,3869.9L2288.9,3867.0L2304.5,3860.9M2276.8,3863.9L2281.4,3873.6L2293.9,3883.5M2287.9,3861.1L2292.1,3867.6L2298.8,3876.9M2296.7,3859.0L2291.9,3880.2L2293.3,3894.6M2310.8,3855.4L2318.9,3873.1L2329.0,3892.6M2321.9,3846.4L2327.1,3834.7L2335.9,3830.2M2316.8,3841.3L2330.8,3822.9L2337.8,3808.6M2306.3,3833.5L2312.4,3829.5L2311.3,3819.3M2292.2,3826.5L2307.8,3816.8L2316.3,3806.4M2281.0,3820.8L2290.1,3805.9L2295.1,3788.7M2272.5,3816.6L2273.4,3813.3L2280.2,3810.4M2263.5,3812.1L2273.4,3802.9L2275.8,3797.6M2248.0,3804.3L2250.3,3788.2L2258.0,3777.5M2240.4,3800.5L2247.4,3785.2L2258.8,3763.3M2224.3,3792.5L2223.1,3777.0L2226.9,3768.0M2219.9,3790.3L2222.4,3785.2L2223.7,3773.9M2206.5,3783.6L2211.0,3771.8L2215.1,3762.0M2197.5,3779.1L2202.5,3771.1L2200.0,3769.1M2185.3,3770.3L2193.1,3750.8L2204.5,3735.3M2177.7,3762.7L2192.0,3761.7L2200.8,3754.7M2173.2,3758.3L2180.2,3755.5L2180.9,3753.2M2164.0,3749.0L2169.9,3748.5L2169.0,3742.8M2151.0,3738.4L2150.4,3730.2L2155.3,3721.7M2139.7,3729.9L2157.1,3718.1L2172.3,3702.1M2130.5,3723.0L2135.3,3706.9L2135.6,3695.0M2123.1,3719.2L2122.0,3710.7L2124.9,3700.0M2110.3,3712.8L2110.7,3707.3L2110.7,3700.6M2100.7,3708.0L2101.2,3699.5L2109.4,3694.2M2090.4,3702.8L2105.9,3684.8L2115.3,3667.2M2082.2,3698.2L2097.0,3679.9L2114.9,3669.4M2072.7,3691.0L2079.5,3678.4L2090.3,3663.1M2059.0,3680.7L2059.1,3672.0L2061.9,3664.6M2052.0,3677.6L2053.4,3656.6L2054.8,3640.2M2034.6,3680.5L2033.9,3668.6L2037.6,3661.2M2019.7,3683.0L2022.3,3671.4L2025.0,3664.9M2011.1,3684.4L2014.7,3669.9L2011.1,3661.0M2006.9,3686.4L1984.4,3671.6L1969.1,3663.8M1998.5,3693.1L1994.5,3677.3L1986.7,3653.6M1985.1,3703.8L1980.2,3700.2L1968.3,3692.7M1980.1,3707.8L1967.5,3695.1L1956.8,3685.0M1973.9,3712.8L1969.5,3713.9L1967.5,3707.7" fill="none" stroke="#000" stroke-width="2.5" stroke-linejoin="round"/>
<path d="M2542.5,2616.2L2551.5,2615.1L2555.2,2608.9M2546.0,2624.9L2549.4,2626.3L2554.8,2621.1M2548.6,2631.3L2554.7,2630.7L2568.2,2631.6M2553.5,2643.5L2560.6,2627.9L2575.2,2619.2M2554.9,2647.5L2569.5,2646.9L2586.7,2650.0M2559.5,2661.4L2573.0,2652.5L2583.0,2646.6M2561.7,2667.8L2575.9,2662.1L2588.0,2649.3M2566.2,2670.5L2573.7,2667.4L2573.8,2657.1M2573.8,2675.1L2577.4,2671.4L2581.1,2660.8M2579.7,2678.6L2594.1,2668.8L2603.3,2654.6M2589.2,2684.3L2591.3,2677.9L2595.7,2667.0M2594.1,2687.3L2597.2,2678.8L2604.3,2677.2M2598.7,2690.0L2607.1,2681.1L2607.9,2666.1M2601.8,2691.9L2602.5,2688.3L2603.3,2681.3M2609.9,2696.8L2614.3,2691.2L2616.8,2682.9M2620.6,2703.2L2629.0,2692.5L2643.4,2676.5M2627.4,2707.3L2634.6,2692.9L2637.9,2683.3M2633.9,2711.1L2638.5,2704.0L2636.9,2695.6M2640.2,2716.1L2652.2,2704.6L2668.5,2688.1M2648.4,2724.2L2655.7,2708.4L2663.4,2687.4M2657.8,2733.7L2662.2,2713.0L2669.8,2698.4M2662.7,2738.6L2681.1,2724.9L2692.6,2713.3M2672.4,2748.2L2680.4,2742.2L2684.0,2729.1M2680.4,2754.2L2682.9,2737.9L2687.5,2727.3M2686.4,2757.8L2692.5,2749.0L2696.1,2744.8M2690.8,2760.4L2694.4,2752.0L2703.0,2746.5M2696.8,2764.1L2702.6,2747.0L2715.4,2736.2M2704.5,2768.7L2709.3,2756.0L2720.6,2748.7M2716.6,2775.9L2723.2,2766.4L2722.5,2759.9M2725.8,2781.4L2733.0,2776.7L2734.4,2764.0M2733.2,2785.9L2735.8,2776.8L2743.1,2775.6M2745.2,2793.1L2752.6,2789.1L2761.6,2779.0M2752.6,2796.9L2754.8,2796.0L2754.7,2788.7M2758.4,2798.0L2759.3,2781.3L2760.3,2770.2M2766.0,2799.6L2770.1,2789.5L2780.4,2779.5M2778.8,2802.1L2773.8,2786.3L2774.7,2763.4M2793.3,2805.9L2795.9,2805.8L2800.3,2799.2M2803.7,2810.1L2806.7,2790.7L2805.1,2775.7M2812.1,2813.4L2821.0,2797.9L2835.0,2786.8M2820.5,2816.8L2820.7,2802.9L2826.9,2793.1M2835.5,2821.0L2838.8,2812.8L2837.9,2812.0M2848.6,2823.7L2850.8,2819.0L2852.1,2812.4M2856.5,2825.2L2858.9,2816.2L2862.5,2804.6M2868.7,2828.2L2870.5,2822.2L2872.5,2820.3M2880.7,2832.2L2882.7,2816.2L2889.8,2800.5M2886.5,2834.1L2884.7,2827.8L2889.5,2822.4" fill="none" stroke="#000" stroke-width="2.5" stroke-linejoin="round"/>
<path d="M2564.0,2320.6L2576.7,2324.4L2585.8,2323.7M2556.5,2332.6L2559.4,2338.7L2564.3,2337.5M2551.8,2340.2L2560.2,2354.4L2565.0,2363.5M2546.6,2348.4L2562.9,2359.5L2571.8,2363.9M2546.9,2360.7L2558.0,2355.5L2571.4,2346.2M2547.8,2369.8L2563.5,2362.6L2574.1,2361.0M2549.2,2383.8L2560.4,2378.5L2575.3,2373.0M2549.4,2387.2L2558.8,2387.2L2561.1,2384.3M2547.5,2406.6L2549.9,2409.0L2558.4,2411.0M2545.9,2422.4L2553.4,2426.7L2560.1,2429.7M2545.9,2425.1L2559.9,2428.4L2575.7,2427.0M2546.6,2435.8L2560.4,2438.0L2576.4,2436.1M2547.5,2448.9L2549.7,2452.5L2559.2,2451.0M2548.2,2459.5L2559.0,2465.2L2568.4,2468.4M2548.9,2470.8L2549.6,2469.7L2555.9,2466.7M2552.0,2485.8L2560.2,2477.8L2572.7,2467.4M2554.6,2492.6L2555.0,2489.6L2561.6,2488.8M2558.1,2502.1L2565.8,2500.4L2578.2,2496.6M2560.3,2510.5L2571.7,2505.7L2588.7,2507.2M2558.1,2526.3L2569.7,2530.0L2582.8,2537.5M2557.1,2533.4L2566.7,2536.8L2578.8,2537.9M2561.8,2546.7L2574.7,2535.9L2581.2,2532.5M2567.1,2560.1L2570.4,2557.3L2580.7,2550.0M2569.8,2566.8L2577.0,2565.0L2589.9,2568.0M2574.5,2578.0L2582.9,2575.4L2596.5,2575.9" fill="none" stroke="#000" stroke-width="2.5" stroke-linejoin="round"/>
<path d="M1781.8,3404.8L1782.2,3423.6L1779.1,3450.3M1797.5,3401.2L1804.5,3420.1L1807.7,3439.7M1806.0,3399.3L1805.7,3404.3L1812.7,3411.8M1820.1,3397.7L1814.5,3419.7L1812.6,3440.9M1831.3,3397.2L1829.8,3419.1L1832.0,3438.7M1847.6,3396.4L1857.8,3413.4L1871.9,3434.5M1871.8,3400.3L1869.1,3418.0L1860.4,3438.5M1879.7,3404.3L1868.3,3424.8L1853.8,3442.6M1888.2,3413.1L1869.4,3414.7L1844.8,3417.2M1888.9,3428.2L1878.7,3425.0L1866.6,3428.6M1884.4,3444.5L1873.5,3449.5L1868.9,3447.7M1884.2,3448.2L1881.5,3452.9L1875.7,3455.4M1884.3,3466.2L1877.3,3466.5L1872.4,3461.8M1880.2,3481.5L1860.7,3488.7L1835.3,3489.4M1875.8,3498.2L1865.5,3494.7L1861.5,3498.7M1874.1,3508.9L1859.4,3499.2L1842.5,3492.9M1873.1,3516.0L1864.3,3511.8L1860.3,3510.6M1871.5,3527.0L1864.4,3529.2L1860.7,3528.1M1870.1,3537.3L1860.7,3533.6L1851.3,3524.3M1869.7,3538.4L1860.3,3530.8L1846.4,3525.8M1862.1,3550.6L1849.8,3543.1L1831.8,3542.1M1855.7,3562.2L1852.8,3566.6L1845.7,3563.2M1854.5,3568.2L1842.3,3562.9L1825.4,3562.6M1851.4,3577.8L1833.9,3571.3L1809.3,3568.2M1847.6,3585.5L1827.5,3578.1L1813.6,3568.6M1848.5,3599.5L1830.7,3600.1L1810.8,3603.0M1852.5,3609.5L1836.3,3612.5L1826.7,3609.3M1854.9,3615.4L1850.6,3620.7L1840.0,3626.0M1855.2,3629.0L1845.8,3630.6L1835.9,3628.2M1854.0,3644.0L1834.7,3642.5L1818.2,3646.5M1847.3,3656.9L1829.7,3649.0L1813.1,3636.8M1837.4,3665.3L1835.4,3657.7L1827.2,3654.3M1833.9,3672.0L1813.2,3662.8L1798.0,3659.1M1833.9,3680.9L1819.7,3679.3L1810.8,3680.4M1827.9,3695.0L1812.2,3689.1L1789.1,3689.5M1834.7,3706.4L1817.4,3716.5L1801.2,3731.5M1842.4,3714.0L1829.9,3715.7L1824.9,3719.0M1845.0,3729.3L1827.4,3732.1L1807.7,3735.4M1839.3,3733.9L1837.1,3721.4L1828.3,3710.1M1824.2,3746.2L1815.0,3741.6L1802.1,3730.9M1810.7,3746.8L1833.0,3740.2L1853.1,3734.4M1806.4,3738.1L1817.1,3726.9L1829.1,3711.3M1798.6,3737.7L1797.5,3728.7L1797.1,3717.7M1782.6,3741.8L1766.0,3728.6L1746.9,3710.9M1773.4,3747.3L1768.8,3732.9L1771.5,3717.8M1766.6,3751.4L1764.7,3727.7L1762.5,3710.3M1755.3,3754.3L1756.7,3737.6L1755.8,3715.6M1743.1,3754.3L1746.5,3743.9L1754.5,3730.5M1725.5,3751.1L1729.9,3742.6L1736.6,3741.2M1716.8,3747.8L1714.5,3734.3L1713.5,3722.1" fill="none" stroke="#000" stroke-width="2.5" stroke-linejoin="round"/>
<path d="M1650.2,3575.5L1660.3,3575.2L1666.5,3567.8M1648.2,3563.3L1655.5,3562.1L1664.6,3565.6M1651.6,3554.3L1666.3,3563.3L1681.4,3571.2M1654.8,3546.3L1674.9,3553.3L1692.7,3555.3M1662.0,3530.4L1667.0,3538.0L1678.0,3540.3M1666.9,3521.4L1683.0,3524.2L1701.1,3531.0M1672.3,3511.7L1681.9,3510.0L1687.9,3511.8M1676.1,3508.3L1684.7,3519.2L1691.0,3527.6M1688.4,3513.5L1683.2,3532.7L1672.8,3545.5M1693.1,3520.2L1672.3,3520.6L1659.2,3528.8M1699.6,3536.4L1684.4,3542.3L1675.6,3553.9M1702.9,3544.5L1685.8,3556.3L1674.2,3561.5" fill="none" stroke="#000" stroke-width="2.5" stroke-linejoin="round"/>
<path d="M1672.9,3748.3L1693.1,3753.5L1708.8,3755.9M1670.9,3767.7L1683.7,3776.4L1701.4,3782.0M1671.8,3784.0L1683.5,3784.9L1694.3,3789.5M1673.2,3794.2L1676.7,3792.9L1687.3,3792.1M1674.5,3803.1L1687.1,3804.2L1699.0,3799.6M1675.5,3810.1L1693.4,3808.4L1710.2,3804.0M1678.2,3817.2L1686.1,3818.3L1700.8,3817.2M1684.5,3829.4L1698.3,3818.5L1705.3,3810.2M1701.1,3841.9L1711.7,3827.9L1716.0,3821.4M1714.9,3847.5L1719.2,3838.8L1725.6,3830.4M1729.0,3850.3L1727.0,3833.2L1726.0,3817.4M1745.6,3849.8L1746.6,3840.6L1749.2,3831.4M1756.3,3848.4L1761.7,3838.9L1764.7,3824.7M1767.8,3846.9L1765.3,3838.7L1761.4,3828.4M1776.2,3845.6L1776.6,3826.2L1776.4,3813.9M1786.6,3841.4L1786.7,3838.4L1780.1,3833.6M1801.7,3835.4L1803.0,3819.5L1802.6,3801.8M1813.0,3833.0L1810.7,3820.4L1813.0,3805.1M1826.2,3830.6L1814.6,3813.1L1808.2,3803.0M1837.4,3816.9L1825.3,3817.0L1808.1,3812.5" fill="none" stroke="#000" stroke-width="2.5" stroke-linejoin="round"/>
<path d="M1831.1,3878.3L1821.7,3881.6L1815.3,3886.1M1835.4,3888.9L1823.1,3899.1L1809.7,3916.7M1837.7,3894.6L1824.8,3899.3L1805.3,3904.8M1841.5,3900.2L1832.7,3904.6L1816.2,3909.4M1848.0,3906.6L1841.2,3907.2L1838.9,3913.4M1851.6,3910.3L1845.2,3916.3L1844.9,3914.9M1855.8,3914.4L1844.7,3932.6L1841.3,3947.2M1861.9,3919.1L1862.7,3927.7L1859.2,3932.8M1872.7,3927.2L1870.2,3944.2L1865.7,3957.8M1878.5,3919.9L1884.2,3923.0L1886.4,3933.9M1881.3,3915.6L1886.8,3925.4L1899.1,3938.3M1883.5,3914.4L1883.7,3930.7L1891.0,3949.1M1894.1,3912.3L1891.5,3925.7L1894.5,3934.3M1902.5,3910.6L1902.9,3923.9L1904.5,3939.1M1912.2,3913.9L1903.4,3925.3L1897.9,3943.7M1930.7,3923.2L1923.6,3942.4L1914.9,3953.9M1941.3,3931.2L1934.8,3946.6L1929.4,3955.7M1947.1,3936.8L1937.0,3940.2L1921.9,3947.1M1950.7,3940.3L1946.0,3949.1L1940.0,3952.8M1951.3,3940.7L1944.6,3955.7L1932.0,3969.5M1958.8,3942.8L1950.5,3960.8L1939.3,3972.2M1966.9,3945.1L1967.5,3947.8L1963.4,3955.3M1978.9,3948.6L1979.6,3968.9L1978.5,3986.4M1983.0,3950.0L1980.6,3956.2L1973.5,3963.0M1988.5,3952.1L1976.1,3966.2L1968.0,3979.0M2001.5,3957.3L1994.2,3974.8L1987.2,3990.8M2004.4,3958.7L1999.0,3964.6L1995.9,3969.5M2012.5,3962.7L2007.4,3978.9L2009.7,3987.1M2020.3,3966.6L2019.4,3968.6L2013.9,3976.1M2031.8,3971.9L2030.0,3987.9L2035.7,3996.2M2044.8,3976.2L2038.4,3989.3L2035.8,3998.0M2053.6,3979.1L2045.5,3998.7L2032.3,4010.9M2054.8,3979.5L2051.0,3983.1L2053.9,3993.9M2064.6,3983.5L2062.2,4003.6L2052.7,4017.3M2069.8,3985.6L2063.1,4002.3L2062.4,4011.6M2080.5,3991.4L2069.2,3997.0L2055.1,4004.3M2088.1,3997.1L2086.2,3997.8L2076.4,4002.9M2092.4,4000.3L2091.8,4010.7L2084.7,4014.6M2093.6,4001.3L2080.8,4014.2L2065.8,4019.3M2097.5,4005.2L2095.6,4009.8L2086.6,4011.6M2103.2,4010.9L2088.4,4016.2L2079.9,4024.4M2108.5,4016.2L2101.7,4018.4L2100.2,4024.8M2113.1,4020.8L2110.4,4032.5L2104.3,4049.1M2107.4,4028.1L2108.8,4023.8L2104.3,4013.4M2102.3,4031.9L2096.0,4029.1L2083.0,4020.8M2093.2,4036.6L2093.7,4028.2L2094.6,4017.7M2086.9,4038.1L2083.9,4032.7L2077.3,4026.5M2080.7,4039.7L2071.7,4021.0L2064.2,4007.8M2086.2,4045.7L2082.1,4052.7L2078.1,4062.5M2096.2,4055.6L2087.1,4060.6L2085.1,4059.1M2099.4,4058.0L2094.6,4066.9L2093.7,4080.5M2107.2,4061.8L2094.3,4070.0L2074.6,4084.6M2114.2,4065.4L2115.7,4082.0L2113.5,4102.0M2123.6,4070.0L2119.7,4082.9L2121.6,4103.8M2136.6,4072.9L2137.3,4088.6L2139.0,4097.6M2143.6,4074.4L2142.9,4089.6L2147.4,4100.5M2155.4,4077.1L2153.6,4084.9L2158.3,4091.1M2164.9,4079.3L2163.8,4088.6L2159.3,4092.8M2175.3,4082.3L2178.3,4088.7L2177.6,4096.6M2187.0,4085.7L2183.0,4092.5L2181.6,4093.8M2197.2,4088.4L2194.5,4094.8L2192.1,4095.1M2204.7,4090.3L2199.8,4093.4L2197.1,4102.0M2213.1,4092.4L2216.6,4105.0L2219.8,4118.6M2223.0,4094.8L2222.9,4103.1L2217.7,4105.5M2234.0,4096.7L2226.8,4109.1L2226.6,4115.5M2248.4,4098.5L2247.0,4110.6L2245.2,4122.1M2253.6,4099.2L2254.0,4115.2L2259.5,4137.7M2261.0,4100.1L2263.6,4117.8L2272.6,4132.2M2261.5,4100.3L2249.1,4107.1L2236.4,4110.6M2264.2,4105.7L2243.2,4107.1L2229.5,4114.4M2268.7,4114.6L2256.3,4121.4L2250.1,4129.8" fill="none" stroke="#000" stroke-width="2.5" stroke-linejoin="round"/>
<path d="M1296.3,4109.7L1288.7,4098.3L1280.0,4083.1M1316.9,4104.5L1309.9,4091.8L1304.2,4073.7M1334.5,4101.3L1337.7,4083.1L1343.6,4069.1M1347.8,4101.3L1354.8,4095.8L1357.0,4083.8M1363.3,4094.4L1371.6,4082.6L1373.0,4074.7M1378.0,4094.4L1376.6,4078.5L1374.6,4069.6M1397.8,4093.4L1399.6,4091.8L1393.8,4085.8M1422.4,4099.7L1440.2,4093.6L1451.9,4095.0M1429.8,4111.7L1439.2,4105.5L1447.9,4092.5M1439.8,4126.6L1445.5,4126.2L1452.2,4118.6M1445.0,4131.7L1449.5,4123.2L1452.4,4107.3M1457.7,4141.9L1462.5,4132.9L1466.8,4129.6M1460.0,4143.7L1462.6,4135.0L1468.7,4130.4M1467.3,4149.6L1477.8,4144.1L1486.6,4137.6M1478.4,4157.3L1483.4,4145.4L1487.5,4131.7M1497.4,4163.9L1497.0,4155.7L1496.3,4149.4M1509.9,4166.4L1513.7,4160.4L1521.7,4153.5M1524.6,4172.3L1529.0,4169.4L1536.6,4162.2M1527.9,4173.0L1519.6,4157.0L1518.4,4142.9" fill="none" stroke="#000" stroke-width="2.5" stroke-linejoin="round"/>
<path d="M2230.1,2265.2L2232.5,2271.0L2227.6,2272.9M2235.6,2268.8L2234.3,2275.4L2230.3,2280.1M2246.8,2276.3L2242.6,2287.1L2234.6,2294.1M2259.0,2287.6L2252.0,2286.2L2238.3,2290.9M2263.9,2300.4L2261.6,2300.7L2257.8,2301.0M2269.6,2318.3L2265.6,2318.4L2255.7,2316.7M2271.1,2327.0L2265.7,2326.8L2256.8,2330.0M2272.5,2335.8L2263.2,2340.4L2256.7,2340.4M2274.8,2349.1L2264.7,2349.2L2259.7,2352.5M2275.9,2355.4L2264.1,2359.5L2259.0,2356.9M2270.1,2363.2L2264.4,2352.2L2263.5,2342.3M2260.0,2373.0L2257.6,2371.9L2254.2,2370.9M2246.3,2382.3L2247.3,2374.3L2248.1,2366.1M2235.4,2386.8L2232.7,2379.8L2228.6,2375.3M2222.0,2392.3L2215.4,2382.5L2215.2,2374.7M2213.7,2395.8L2214.1,2391.6L2208.5,2380.0M2205.6,2399.4L2204.8,2390.7L2206.6,2381.5M2193.7,2405.0L2194.8,2403.8L2188.3,2397.5M2184.5,2409.3L2185.9,2407.8L2184.2,2401.2M2171.1,2415.7L2162.6,2404.1L2159.7,2395.9M2161.9,2420.0L2154.0,2415.4L2151.2,2408.6M2150.5,2425.8L2142.0,2413.6L2140.9,2402.8M2139.4,2432.3L2133.4,2425.2L2135.4,2421.2M2127.8,2439.1L2122.3,2431.1L2121.7,2423.1M2118.8,2444.5L2116.9,2443.3L2114.6,2434.2M2109.5,2449.9L2101.3,2447.8L2098.6,2441.5M2104.3,2453.0L2101.4,2453.0L2098.3,2447.9M2092.1,2461.7L2090.9,2458.9L2085.4,2459.0M2082.7,2469.5L2075.4,2463.0L2071.8,2462.9M2074.3,2472.4L2072.3,2462.6L2072.2,2459.9M2060.5,2474.0L2062.9,2466.9L2066.2,2457.9M2053.0,2474.9L2056.9,2470.1L2055.2,2468.4M2039.1,2476.5L2036.7,2469.9L2032.5,2456.0M2029.3,2477.6L2024.0,2468.2L2020.5,2455.3M2022.1,2478.5L2023.5,2475.1L2025.1,2467.0M2014.7,2479.3L2011.0,2478.6L2012.3,2470.4" fill="none" stroke="#000" stroke-width="2.5" stroke-linejoin="round"/>
<path d="M825.3,2516.4L847.5,2531.1L869.7,2542.2L884.5,2560.7L888.2,2586.6L891.9,2605.1L906.7,2616.2" fill="none" stroke="#000" stroke-width="3" stroke-linejoin="round"/>
<path d="M699.6,2586.6L692.2,2608.8L684.8,2627.3L695.9,2638.4L699.6,2664.2L721.8,2682.7L718.1,2697.5L699.6,2716.0L695.9,2723.4" fill="none" stroke="#000" stroke-width="3" stroke-linejoin="round"/>
<path d="M1397.7,2354.1L1417.5,2351.9L1420.5,2369.2L1400.2,2372.6Z" fill="#cfcfcf" stroke="#000" stroke-width="3" stroke-linejoin="round"/>
<g><path d="M1913.1,2464.7L1941.1,2450.7L1941.1,2478.7Z" fill="#0000fc"/><path d="M1914.9,2472.1L1942.9,2458.1L1942.9,2486.1Z" fill="#0023ff"/><path d="M1916.8,2479.5L1944.8,2465.5L1944.8,2493.5Z" fill="#0049ff"/><path d="M1918.6,2486.9L1946.6,2472.9L1946.6,2500.9Z" fill="#006eff"/><path d="M1923.2,2496.1L1951.2,2482.1L1951.2,2510.1Z" fill="#0058ff"/><path d="M1927.8,2505.4L1955.8,2491.4L1955.8,2519.4Z" fill="#0041ff"/><path d="M1930.6,2513.7L1958.6,2499.7L1958.6,2527.7Z" fill="#0041ff"/><path d="M1933.4,2522.0L1961.4,2508.0L1961.4,2536.0Z" fill="#0041ff"/><path d="M1937.1,2531.2L1965.1,2517.2L1965.1,2545.2Z" fill="#004cff"/><path d="M1940.8,2540.5L1968.8,2526.5L1968.8,2554.5Z" fill="#0058ff"/><path d="M1944.5,2549.7L1972.5,2535.7L1972.5,2563.7Z" fill="#005eff"/><path d="M1948.2,2559.0L1976.2,2545.0L1976.2,2573.0Z" fill="#0063ff"/><path d="M1951.0,2567.3L1979.0,2553.3L1979.0,2581.3Z" fill="#0052ff"/><path d="M1953.7,2575.6L1981.7,2561.6L1981.7,2589.6Z" fill="#0041ff"/><rect x="1926.1" y="2570.9" width="25.0" height="25.0" fill="#0000fc"/><rect x="1934.4" y="2568.8" width="25.0" height="25.0" fill="#0008ff"/><rect x="1942.7" y="2566.8" width="25.0" height="25.0" fill="#0014ff"/><rect x="1949.9" y="2565.0" width="25.0" height="25.0" fill="#001cff"/><rect x="1957.1" y="2563.3" width="25.0" height="25.0" fill="#0025ff"/><rect x="1964.2" y="2561.5" width="25.0" height="25.0" fill="#002dff"/><rect x="1971.4" y="2559.8" width="25.0" height="25.0" fill="#0036ff"/><rect x="2013.0" y="2550.5" width="25.0" height="25.0" fill="#004dff"/><rect x="2021.5" y="2548.9" width="25.0" height="25.0" fill="#0058ff"/><rect x="2030.0" y="2547.2" width="25.0" height="25.0" fill="#0063ff"/><rect x="2038.5" y="2545.5" width="25.0" height="25.0" fill="#006eff"/><rect x="2045.3" y="2543.5" width="25.0" height="25.0" fill="#0075ff"/><rect x="2052.2" y="2541.5" width="25.0" height="25.0" fill="#007cff"/><rect x="2059.0" y="2539.4" width="25.0" height="25.0" fill="#0083ff"/><rect x="2065.8" y="2537.4" width="25.0" height="25.0" fill="#008aff"/><rect x="2072.7" y="2535.4" width="25.0" height="25.0" fill="#0090ff"/><rect x="2079.7" y="2533.9" width="25.0" height="25.0" fill="#008eff"/><rect x="2086.7" y="2532.4" width="25.0" height="25.0" fill="#008cff"/><rect x="2093.7" y="2530.9" width="25.0" height="25.0" fill="#008aff"/><rect x="2100.8" y="2529.5" width="25.0" height="25.0" fill="#0087ff"/><rect x="2107.8" y="2528.0" width="25.0" height="25.0" fill="#0085ff"/><rect x="2115.2" y="2526.5" width="25.0" height="25.0" fill="#0085ff"/><rect x="2122.6" y="2525.0" width="25.0" height="25.0" fill="#0085ff"/><rect x="2130.0" y="2523.5" width="25.0" height="25.0" fill="#0085ff"/><rect x="2137.4" y="2522.1" width="25.0" height="25.0" fill="#0085ff"/><rect x="2144.8" y="2520.6" width="25.0" height="25.0" fill="#0085ff"/><rect x="2076.4" y="2583.8" width="25.0" height="25.0" fill="#0000e5"/><rect x="2087.5" y="2535.3" width="25.0" height="25.0" fill="#008bff"/><rect x="2094.5" y="2533.9" width="25.0" height="25.0" fill="#008bff"/><rect x="2101.5" y="2532.5" width="25.0" height="25.0" fill="#008aff"/><rect x="2108.6" y="2531.1" width="25.0" height="25.0" fill="#008aff"/><rect x="2115.6" y="2529.7" width="25.0" height="25.0" fill="#008aff"/><rect x="2122.6" y="2528.3" width="25.0" height="25.0" fill="#0089ff"/><rect x="2129.6" y="2526.9" width="25.0" height="25.0" fill="#0089ff"/><rect x="2136.6" y="2525.5" width="25.0" height="25.0" fill="#0089ff"/><rect x="2143.6" y="2524.0" width="25.0" height="25.0" fill="#0088ff"/><rect x="2150.7" y="2522.6" width="25.0" height="25.0" fill="#0088ff"/><rect x="2157.7" y="2521.2" width="25.0" height="25.0" fill="#0088ff"/><rect x="2164.7" y="2519.8" width="25.0" height="25.0" fill="#0087ff"/><rect x="2171.7" y="2518.4" width="25.0" height="25.0" fill="#0087ff"/><rect x="2178.7" y="2517.0" width="25.0" height="25.0" fill="#0087ff"/><rect x="2185.7" y="2515.6" width="25.0" height="25.0" fill="#0086ff"/><rect x="2192.8" y="2514.2" width="25.0" height="25.0" fill="#0086ff"/><rect x="2199.8" y="2512.8" width="25.0" height="25.0" fill="#0086ff"/><rect x="2206.8" y="2511.4" width="25.0" height="25.0" fill="#0085ff"/><rect x="2213.8" y="2510.0" width="25.0" height="25.0" fill="#0085ff"/><rect x="2220.8" y="2508.3" width="25.0" height="25.0" fill="#0085ff"/><rect x="2227.8" y="2506.6" width="25.0" height="25.0" fill="#0084ff"/><rect x="2234.9" y="2505.0" width="25.0" height="25.0" fill="#0083ff"/><rect x="2241.9" y="2503.3" width="25.0" height="25.0" fill="#0083ff"/><rect x="2248.9" y="2501.6" width="25.0" height="25.0" fill="#0082ff"/><rect x="2255.9" y="2499.9" width="25.0" height="25.0" fill="#0081ff"/><rect x="2262.9" y="2498.2" width="25.0" height="25.0" fill="#0081ff"/><rect x="2269.9" y="2496.5" width="25.0" height="25.0" fill="#0080ff"/><rect x="2277.0" y="2494.9" width="25.0" height="25.0" fill="#0080ff"/><rect x="2284.0" y="2493.2" width="25.0" height="25.0" fill="#007fff"/><rect x="2291.0" y="2491.5" width="25.0" height="25.0" fill="#007eff"/><rect x="2298.0" y="2489.8" width="25.0" height="25.0" fill="#007eff"/><rect x="2305.0" y="2488.1" width="25.0" height="25.0" fill="#007dff"/><rect x="2312.0" y="2486.4" width="25.0" height="25.0" fill="#007cff"/><rect x="2319.1" y="2484.8" width="25.0" height="25.0" fill="#007cff"/><rect x="2326.1" y="2483.1" width="25.0" height="25.0" fill="#007bff"/><rect x="2333.1" y="2481.4" width="25.0" height="25.0" fill="#007aff"/><rect x="2340.1" y="2479.7" width="25.0" height="25.0" fill="#007aff"/><rect x="2347.3" y="2477.9" width="25.0" height="25.0" fill="#0078ff"/><rect x="2354.6" y="2476.1" width="25.0" height="25.0" fill="#0077ff"/><rect x="2361.8" y="2474.3" width="25.0" height="25.0" fill="#0075ff"/><rect x="2369.0" y="2472.5" width="25.0" height="25.0" fill="#0073ff"/><rect x="2376.2" y="2470.7" width="25.0" height="25.0" fill="#0072ff"/><rect x="2383.4" y="2468.9" width="25.0" height="25.0" fill="#0070ff"/><rect x="2390.6" y="2467.1" width="25.0" height="25.0" fill="#006eff"/><rect x="2397.9" y="2465.3" width="25.0" height="25.0" fill="#006dff"/><rect x="2405.1" y="2463.5" width="25.0" height="25.0" fill="#006bff"/><rect x="2412.3" y="2461.7" width="25.0" height="25.0" fill="#006aff"/><rect x="2419.5" y="2459.9" width="25.0" height="25.0" fill="#0068ff"/><rect x="2426.7" y="2458.0" width="25.0" height="25.0" fill="#0066ff"/><rect x="2433.9" y="2456.2" width="25.0" height="25.0" fill="#0065ff"/><rect x="2441.2" y="2454.4" width="25.0" height="25.0" fill="#0063ff"/><rect x="2448.2" y="2453.3" width="25.0" height="25.0" fill="#005fff"/><rect x="2455.2" y="2452.1" width="25.0" height="25.0" fill="#005bff"/><rect x="2462.2" y="2450.9" width="25.0" height="25.0" fill="#0057ff"/><rect x="2469.1" y="2449.8" width="25.0" height="25.0" fill="#0053ff"/><rect x="2476.1" y="2448.6" width="25.0" height="25.0" fill="#0050ff"/><rect x="2483.1" y="2447.4" width="25.0" height="25.0" fill="#004cff"/><rect x="2490.1" y="2446.3" width="25.0" height="25.0" fill="#0048ff"/><rect x="2497.1" y="2445.1" width="25.0" height="25.0" fill="#0044ff"/><rect x="2504.1" y="2443.9" width="25.0" height="25.0" fill="#0040ff"/><rect x="2511.1" y="2442.8" width="25.0" height="25.0" fill="#003cff"/><rect x="2518.1" y="2441.6" width="25.0" height="25.0" fill="#0038ff"/><rect x="2525.1" y="2440.4" width="25.0" height="25.0" fill="#0034ff"/><rect x="2532.1" y="2439.3" width="25.0" height="25.0" fill="#0030ff"/><rect x="2403.3" y="2302.9" width="25.0" height="25.0" fill="#0036ff"/><rect x="2401.9" y="2310.2" width="25.0" height="25.0" fill="#003cff"/><rect x="2400.5" y="2317.5" width="25.0" height="25.0" fill="#0042ff"/><rect x="2399.1" y="2324.8" width="25.0" height="25.0" fill="#0049ff"/><rect x="2397.7" y="2332.1" width="25.0" height="25.0" fill="#004fff"/><rect x="2396.3" y="2339.4" width="25.0" height="25.0" fill="#0055ff"/><rect x="2394.9" y="2346.7" width="25.0" height="25.0" fill="#005cff"/><rect x="2393.4" y="2354.0" width="25.0" height="25.0" fill="#0062ff"/><rect x="2392.0" y="2361.2" width="25.0" height="25.0" fill="#0068ff"/><rect x="2390.6" y="2368.5" width="25.0" height="25.0" fill="#006eff"/><rect x="2388.3" y="2375.5" width="25.0" height="25.0" fill="#0072ff"/><rect x="2386.0" y="2382.5" width="25.0" height="25.0" fill="#0075ff"/><rect x="2383.6" y="2389.5" width="25.0" height="25.0" fill="#0079ff"/><rect x="2381.3" y="2396.5" width="25.0" height="25.0" fill="#007cff"/><rect x="2379.0" y="2403.5" width="25.0" height="25.0" fill="#0080ff"/><rect x="2376.7" y="2410.5" width="25.0" height="25.0" fill="#0083ff"/><rect x="2374.3" y="2417.5" width="25.0" height="25.0" fill="#0087ff"/><rect x="2372.0" y="2424.5" width="25.0" height="25.0" fill="#008aff"/><rect x="2369.7" y="2431.5" width="25.0" height="25.0" fill="#008eff"/><rect x="2367.3" y="2438.5" width="25.0" height="25.0" fill="#0091ff"/><rect x="2365.0" y="2445.5" width="25.0" height="25.0" fill="#0095ff"/><rect x="2362.7" y="2452.5" width="25.0" height="25.0" fill="#0098ff"/><rect x="2360.3" y="2459.5" width="25.0" height="25.0" fill="#009cff"/><rect x="2358.1" y="2466.4" width="25.0" height="25.0" fill="#009cff"/><rect x="2355.9" y="2473.4" width="25.0" height="25.0" fill="#009cff"/><rect x="2353.7" y="2480.3" width="25.0" height="25.0" fill="#009cff"/><rect x="2351.5" y="2487.3" width="25.0" height="25.0" fill="#009cff"/><rect x="2349.3" y="2494.2" width="25.0" height="25.0" fill="#009cff"/><rect x="2347.1" y="2501.2" width="25.0" height="25.0" fill="#009cff"/><rect x="2344.9" y="2508.1" width="25.0" height="25.0" fill="#009cff"/><rect x="2342.6" y="2515.1" width="25.0" height="25.0" fill="#009cff"/><rect x="2340.4" y="2522.0" width="25.0" height="25.0" fill="#009cff"/><rect x="2338.2" y="2529.0" width="25.0" height="25.0" fill="#009cff"/><rect x="2336.0" y="2535.9" width="25.0" height="25.0" fill="#009cff"/><rect x="2333.8" y="2542.9" width="25.0" height="25.0" fill="#009cff"/><rect x="2331.6" y="2549.8" width="25.0" height="25.0" fill="#009cff"/><rect x="2329.4" y="2556.7" width="25.0" height="25.0" fill="#009cff"/><rect x="2327.2" y="2563.7" width="25.0" height="25.0" fill="#009cff"/><rect x="2325.0" y="2570.6" width="25.0" height="25.0" fill="#009cff"/><rect x="2322.4" y="2577.4" width="25.0" height="25.0" fill="#009bff"/><rect x="2319.9" y="2584.1" width="25.0" height="25.0" fill="#009aff"/><rect x="2317.4" y="2590.9" width="25.0" height="25.0" fill="#0099ff"/><rect x="2314.9" y="2597.6" width="25.0" height="25.0" fill="#0098ff"/><rect x="2312.3" y="2604.3" width="25.0" height="25.0" fill="#0097ff"/><rect x="2309.8" y="2611.1" width="25.0" height="25.0" fill="#0096ff"/><rect x="2307.3" y="2617.8" width="25.0" height="25.0" fill="#0095ff"/><rect x="2304.8" y="2624.5" width="25.0" height="25.0" fill="#0094ff"/><rect x="2302.2" y="2631.3" width="25.0" height="25.0" fill="#0093ff"/><rect x="2299.7" y="2638.0" width="25.0" height="25.0" fill="#0092ff"/><rect x="2297.2" y="2644.7" width="25.0" height="25.0" fill="#0091ff"/><rect x="2294.6" y="2651.5" width="25.0" height="25.0" fill="#0090ff"/><rect x="2292.5" y="2658.3" width="25.0" height="25.0" fill="#0093ff"/><rect x="2290.3" y="2665.2" width="25.0" height="25.0" fill="#0095ff"/><rect x="2288.2" y="2672.1" width="25.0" height="25.0" fill="#0098ff"/><rect x="2286.0" y="2678.9" width="25.0" height="25.0" fill="#009aff"/><rect x="2283.8" y="2685.8" width="25.0" height="25.0" fill="#009dff"/><rect x="2281.7" y="2692.6" width="25.0" height="25.0" fill="#009fff"/><rect x="2279.5" y="2699.5" width="25.0" height="25.0" fill="#00a2ff"/><rect x="2277.3" y="2706.3" width="25.0" height="25.0" fill="#00a4ff"/><rect x="2275.2" y="2713.2" width="25.0" height="25.0" fill="#00a6ff"/><rect x="2273.0" y="2720.0" width="25.0" height="25.0" fill="#00a9ff"/><rect x="2270.8" y="2726.9" width="25.0" height="25.0" fill="#00abff"/><rect x="2268.7" y="2733.8" width="25.0" height="25.0" fill="#00aeff"/><rect x="2266.5" y="2740.6" width="25.0" height="25.0" fill="#00b0ff"/><rect x="2264.3" y="2747.5" width="25.0" height="25.0" fill="#00b3ff"/><path d="M2519.5,2603.4L2547.5,2589.4L2547.5,2617.4Z" fill="#0036ff"/><path d="M2512.2,2604.3L2540.2,2590.3L2540.2,2618.3Z" fill="#003dff"/><path d="M2504.8,2605.2L2532.8,2591.2L2532.8,2619.2Z" fill="#0044ff"/><path d="M2497.5,2606.1L2525.5,2592.1L2525.5,2620.1Z" fill="#004bff"/><path d="M2490.1,2607.0L2518.1,2593.0L2518.1,2621.0Z" fill="#0053ff"/><path d="M2482.8,2607.9L2510.8,2593.9L2510.8,2621.9Z" fill="#005aff"/><path d="M2475.4,2608.9L2503.4,2594.9L2503.4,2622.9Z" fill="#0061ff"/><path d="M2468.1,2609.8L2496.1,2595.8L2496.1,2623.8Z" fill="#0068ff"/><path d="M2460.7,2610.7L2488.7,2596.7L2488.7,2624.7Z" fill="#0070ff"/><path d="M2453.4,2611.6L2481.4,2597.6L2481.4,2625.6Z" fill="#0077ff"/><path d="M2446.0,2612.5L2474.0,2598.5L2474.0,2626.5Z" fill="#007eff"/><path d="M2438.7,2613.5L2466.7,2599.5L2466.7,2627.5Z" fill="#0085ff"/><path d="M2431.4,2614.2L2459.4,2600.2L2459.4,2628.2Z" fill="#0087ff"/><path d="M2424.2,2614.9L2452.2,2600.9L2452.2,2628.9Z" fill="#0088ff"/><path d="M2417.0,2615.6L2445.0,2601.6L2445.0,2629.6Z" fill="#008aff"/><path d="M2409.8,2616.3L2437.8,2602.3L2437.8,2630.3Z" fill="#008cff"/><path d="M2402.6,2617.1L2430.6,2603.1L2430.6,2631.1Z" fill="#008dff"/><path d="M2395.4,2617.8L2423.4,2603.8L2423.4,2631.8Z" fill="#008fff"/><path d="M2388.1,2618.5L2416.1,2604.5L2416.1,2632.5Z" fill="#0090ff"/><path d="M2380.9,2619.2L2408.9,2605.2L2408.9,2633.2Z" fill="#0092ff"/><path d="M2373.7,2620.0L2401.7,2606.0L2401.7,2634.0Z" fill="#0094ff"/><path d="M2366.5,2620.7L2394.5,2606.7L2394.5,2634.7Z" fill="#0095ff"/><path d="M2359.3,2621.4L2387.3,2607.4L2387.3,2635.4Z" fill="#0097ff"/><path d="M2352.1,2622.1L2380.1,2608.1L2380.1,2636.1Z" fill="#0099ff"/><path d="M2344.8,2622.8L2372.8,2608.8L2372.8,2636.8Z" fill="#009aff"/><path d="M2337.6,2623.6L2365.6,2609.6L2365.6,2637.6Z" fill="#009cff"/><path d="M2330.4,2623.9L2358.4,2609.9L2358.4,2637.9Z" fill="#009dff"/><path d="M2323.2,2624.3L2351.2,2610.3L2351.2,2638.3Z" fill="#009dff"/><path d="M2316.0,2624.6L2344.0,2610.6L2344.0,2638.6Z" fill="#009eff"/><path d="M2308.7,2625.0L2336.7,2611.0L2336.7,2639.0Z" fill="#009fff"/><path d="M2301.5,2625.4L2329.5,2611.4L2329.5,2639.4Z" fill="#00a0ff"/><path d="M2294.3,2625.7L2322.3,2611.7L2322.3,2639.7Z" fill="#00a1ff"/><path d="M2287.1,2626.1L2315.1,2612.1L2315.1,2640.1Z" fill="#00a2ff"/><path d="M2279.9,2626.4L2307.9,2612.4L2307.9,2640.4Z" fill="#00a2ff"/><path d="M2272.7,2626.8L2300.7,2612.8L2300.7,2640.8Z" fill="#00a3ff"/><path d="M2265.4,2627.2L2293.4,2613.2L2293.4,2641.2Z" fill="#00a4ff"/><path d="M2258.2,2627.5L2286.2,2613.5L2286.2,2641.5Z" fill="#00a5ff"/><path d="M2251.0,2627.9L2279.0,2613.9L2279.0,2641.9Z" fill="#00a6ff"/><path d="M2243.8,2628.3L2271.8,2614.3L2271.8,2642.3Z" fill="#00a6ff"/><path d="M2236.6,2628.6L2264.6,2614.6L2264.6,2642.6Z" fill="#00a7ff"/><path d="M2229.2,2627.7L2257.2,2613.7L2257.2,2641.7Z" fill="#00aaff"/><path d="M2221.9,2626.8L2249.9,2612.8L2249.9,2640.8Z" fill="#00adff"/><path d="M2214.5,2625.9L2242.5,2611.9L2242.5,2639.9Z" fill="#00b0ff"/><path d="M2207.2,2624.9L2235.2,2610.9L2235.2,2638.9Z" fill="#00b4ff"/><path d="M2199.8,2624.0L2227.8,2610.0L2227.8,2638.0Z" fill="#00b7ff"/><path d="M2192.5,2623.1L2220.5,2609.1L2220.5,2637.1Z" fill="#00baff"/><path d="M2185.1,2622.2L2213.1,2608.2L2213.1,2636.2Z" fill="#00bdff"/><path d="M2177.8,2621.3L2205.8,2607.3L2205.8,2635.3Z" fill="#00c0ff"/><path d="M2170.4,2620.3L2198.4,2606.3L2198.4,2634.3Z" fill="#00c3ff"/><path d="M2163.1,2619.4L2191.1,2605.4L2191.1,2633.4Z" fill="#00c6ff"/><path d="M2155.7,2618.5L2183.7,2604.5L2183.7,2632.5Z" fill="#00c9ff"/><path d="M2160.8,2431.6L2188.8,2417.6L2188.8,2445.6Z" fill="#0041ff"/><path d="M2160.8,2439.1L2188.8,2425.1L2188.8,2453.1Z" fill="#004aff"/><path d="M2160.8,2446.7L2188.8,2432.7L2188.8,2460.7Z" fill="#0053ff"/><path d="M2160.8,2454.3L2188.8,2440.3L2188.8,2468.3Z" fill="#005cff"/><path d="M2160.8,2461.9L2188.8,2447.9L2188.8,2475.9Z" fill="#0065ff"/><path d="M2160.8,2469.5L2188.8,2455.5L2188.8,2483.5Z" fill="#006eff"/><path d="M2160.8,2477.0L2188.8,2463.0L2188.8,2491.0Z" fill="#0078ff"/><path d="M2160.8,2484.6L2188.8,2470.6L2188.8,2498.6Z" fill="#0081ff"/><path d="M2160.8,2492.2L2188.8,2478.2L2188.8,2506.2Z" fill="#008aff"/><path d="M2160.8,2499.8L2188.8,2485.8L2188.8,2513.8Z" fill="#0093ff"/><path d="M2160.8,2507.4L2188.8,2493.4L2188.8,2521.4Z" fill="#009cff"/><path d="M2160.3,2514.4L2188.3,2500.4L2188.3,2528.4Z" fill="#00a0ff"/><path d="M2159.8,2521.5L2187.8,2507.5L2187.8,2535.5Z" fill="#00a5ff"/><path d="M2159.3,2528.6L2187.3,2514.6L2187.3,2542.6Z" fill="#00a9ff"/><path d="M2158.8,2535.7L2186.8,2521.7L2186.8,2549.7Z" fill="#00aeff"/><path d="M2158.3,2542.7L2186.3,2528.7L2186.3,2556.7Z" fill="#00b3ff"/><path d="M2157.8,2549.8L2185.8,2535.8L2185.8,2563.8Z" fill="#00b7ff"/><path d="M2157.2,2556.9L2185.2,2542.9L2185.2,2570.9Z" fill="#00bcff"/><path d="M2156.7,2563.9L2184.7,2549.9L2184.7,2577.9Z" fill="#00c0ff"/><path d="M2156.2,2571.0L2184.2,2557.0L2184.2,2585.0Z" fill="#00c5ff"/><path d="M2155.7,2578.1L2183.7,2564.1L2183.7,2592.1Z" fill="#00c9ff"/><path d="M2503.3,2381.0L2519.3,2365.0L2535.3,2381.0L2519.3,2397.0Z" fill="#002aff"/><path d="M2468.0,2403.8L2484.0,2387.8L2500.0,2403.8L2484.0,2419.8Z" fill="#0041ff"/><path d="M2455.3,2413.9L2471.3,2397.9L2487.3,2413.9L2471.3,2429.9Z" fill="#0041ff"/><path d="M2412.4,2441.7L2428.4,2425.7L2444.4,2441.7L2428.4,2457.7Z" fill="#006eff"/><path d="M2291.1,2525.0L2307.1,2509.0L2323.1,2525.0L2307.1,2541.0Z" fill="#0085ff"/><path d="M2273.5,2540.2L2289.5,2524.2L2305.5,2540.2L2289.5,2556.2Z" fill="#0085ff"/><path d="M2220.4,2573.0L2236.4,2557.0L2252.4,2573.0L2236.4,2589.0Z" fill="#009cff"/><path d="M2195.2,2588.2L2211.2,2572.2L2227.2,2588.2L2211.2,2604.2Z" fill="#009cff"/><path d="M2164.8,2610.9L2180.8,2594.9L2196.8,2610.9L2180.8,2626.9Z" fill="#009cff"/><rect x="2213.8" y="2737.4" width="25.0" height="25.0" fill="#00beff"/><rect x="2220.9" y="2738.6" width="25.0" height="25.0" fill="#00b8ff"/><rect x="2228.0" y="2739.9" width="25.0" height="25.0" fill="#00b2ff"/><rect x="2235.0" y="2741.2" width="25.0" height="25.0" fill="#00adff"/><rect x="2242.1" y="2742.4" width="25.0" height="25.0" fill="#00a7ff"/><rect x="2249.2" y="2743.7" width="25.0" height="25.0" fill="#00a2ff"/><rect x="2256.2" y="2744.9" width="25.0" height="25.0" fill="#009cff"/><rect x="2263.3" y="2746.2" width="25.0" height="25.0" fill="#0096ff"/><rect x="2270.4" y="2747.5" width="25.0" height="25.0" fill="#0090ff"/><rect x="2277.5" y="2748.7" width="25.0" height="25.0" fill="#008bff"/><rect x="2284.5" y="2750.0" width="25.0" height="25.0" fill="#0085ff"/><rect x="2291.5" y="2752.2" width="25.0" height="25.0" fill="#008bff"/><rect x="2298.4" y="2754.4" width="25.0" height="25.0" fill="#0091ff"/><rect x="2305.4" y="2756.6" width="25.0" height="25.0" fill="#0096ff"/><rect x="2312.3" y="2758.8" width="25.0" height="25.0" fill="#009cff"/><rect x="2319.3" y="2761.1" width="25.0" height="25.0" fill="#00a2ff"/><rect x="2326.2" y="2763.3" width="25.0" height="25.0" fill="#00a7ff"/><rect x="2333.2" y="2765.5" width="25.0" height="25.0" fill="#00adff"/><rect x="2340.1" y="2767.7" width="25.0" height="25.0" fill="#00b3ff"/><rect x="2347.3" y="2768.4" width="25.0" height="25.0" fill="#00bcff"/><rect x="2354.6" y="2769.1" width="25.0" height="25.0" fill="#00c6ff"/><rect x="2361.8" y="2769.9" width="25.0" height="25.0" fill="#00d0ff"/><rect x="2369.0" y="2770.6" width="25.0" height="25.0" fill="#00d9ff"/><rect x="2376.2" y="2771.3" width="25.0" height="25.0" fill="#00e3ff"/><rect x="2383.4" y="2772.0" width="25.0" height="25.0" fill="#00edff"/><rect x="2390.6" y="2772.7" width="25.0" height="25.0" fill="#00f6ff"/><rect x="2397.9" y="2774.9" width="25.0" height="25.0" fill="#01fffe"/><rect x="2405.1" y="2777.1" width="25.0" height="25.0" fill="#0bfff4"/><rect x="2412.3" y="2779.2" width="25.0" height="25.0" fill="#15ffea"/><rect x="2419.5" y="2781.4" width="25.0" height="25.0" fill="#1effe1"/><rect x="2426.7" y="2783.6" width="25.0" height="25.0" fill="#28ffd7"/><rect x="2433.9" y="2785.7" width="25.0" height="25.0" fill="#32ffcd"/><rect x="2441.2" y="2787.9" width="25.0" height="25.0" fill="#3cffc4"/><rect x="2448.4" y="2789.3" width="25.0" height="25.0" fill="#38ffc7"/><rect x="2455.6" y="2790.8" width="25.0" height="25.0" fill="#35ffca"/><rect x="2462.8" y="2792.2" width="25.0" height="25.0" fill="#32ffcd"/><rect x="2470.0" y="2793.7" width="25.0" height="25.0" fill="#2fffd0"/><rect x="2477.3" y="2795.1" width="25.0" height="25.0" fill="#2bffd4"/><rect x="2484.5" y="2796.6" width="25.0" height="25.0" fill="#28ffd7"/><rect x="2491.7" y="2798.0" width="25.0" height="25.0" fill="#25ffda"/><rect x="2498.9" y="2799.4" width="25.0" height="25.0" fill="#22ffdd"/><rect x="2506.1" y="2800.9" width="25.0" height="25.0" fill="#1effe1"/><rect x="2513.3" y="2802.3" width="25.0" height="25.0" fill="#1bffe4"/><rect x="2520.6" y="2803.8" width="25.0" height="25.0" fill="#18ffe7"/><rect x="2527.8" y="2805.2" width="25.0" height="25.0" fill="#15ffea"/><rect x="2535.0" y="2806.7" width="25.0" height="25.0" fill="#11ffee"/><rect x="2542.2" y="2808.1" width="25.0" height="25.0" fill="#0efff1"/><rect x="2549.4" y="2809.9" width="25.0" height="25.0" fill="#0bfff4"/><rect x="2556.6" y="2811.7" width="25.0" height="25.0" fill="#08fff7"/><rect x="2563.9" y="2813.5" width="25.0" height="25.0" fill="#04fffb"/><rect x="2571.1" y="2815.3" width="25.0" height="25.0" fill="#01fffe"/><rect x="2578.3" y="2817.1" width="25.0" height="25.0" fill="#00fdff"/><rect x="2585.5" y="2818.9" width="25.0" height="25.0" fill="#00faff"/><rect x="2592.7" y="2820.7" width="25.0" height="25.0" fill="#00f6ff"/><rect x="2600.0" y="2822.5" width="25.0" height="25.0" fill="#00f3ff"/><rect x="2607.2" y="2824.3" width="25.0" height="25.0" fill="#00f0ff"/><rect x="2614.4" y="2826.1" width="25.0" height="25.0" fill="#00edff"/><rect x="2621.6" y="2828.0" width="25.0" height="25.0" fill="#00eaff"/><rect x="2628.8" y="2829.8" width="25.0" height="25.0" fill="#00e6ff"/><rect x="2636.0" y="2831.6" width="25.0" height="25.0" fill="#00e3ff"/><rect x="2643.3" y="2833.4" width="25.0" height="25.0" fill="#00e0ff"/><rect x="2650.0" y="2835.4" width="25.0" height="25.0" fill="#00dbff"/><rect x="2656.7" y="2837.4" width="25.0" height="25.0" fill="#00d7ff"/><rect x="2663.5" y="2839.4" width="25.0" height="25.0" fill="#00d2ff"/><rect x="2670.2" y="2841.4" width="25.0" height="25.0" fill="#00ceff"/><rect x="2676.9" y="2843.5" width="25.0" height="25.0" fill="#00c9ff"/><rect x="2683.7" y="2845.5" width="25.0" height="25.0" fill="#00c5ff"/><rect x="2690.4" y="2847.5" width="25.0" height="25.0" fill="#00c0ff"/><rect x="2697.2" y="2849.5" width="25.0" height="25.0" fill="#00bcff"/><rect x="2703.9" y="2851.6" width="25.0" height="25.0" fill="#00b7ff"/><rect x="2710.6" y="2853.6" width="25.0" height="25.0" fill="#00b3ff"/><rect x="2717.4" y="2855.6" width="25.0" height="25.0" fill="#00aeff"/><rect x="2724.1" y="2857.6" width="25.0" height="25.0" fill="#00a9ff"/><rect x="2730.8" y="2859.6" width="25.0" height="25.0" fill="#00a5ff"/><rect x="2737.6" y="2861.7" width="25.0" height="25.0" fill="#00a0ff"/><rect x="2744.3" y="2863.7" width="25.0" height="25.0" fill="#009cff"/><rect x="2751.5" y="2865.3" width="25.0" height="25.0" fill="#0099ff"/><rect x="2758.7" y="2866.9" width="25.0" height="25.0" fill="#0097ff"/><rect x="2765.8" y="2868.5" width="25.0" height="25.0" fill="#0095ff"/><rect x="2773.0" y="2870.1" width="25.0" height="25.0" fill="#0092ff"/><rect x="2780.2" y="2871.7" width="25.0" height="25.0" fill="#0090ff"/><rect x="2787.4" y="2873.3" width="25.0" height="25.0" fill="#008eff"/><rect x="2794.6" y="2874.8" width="25.0" height="25.0" fill="#008bff"/><rect x="2801.7" y="2876.4" width="25.0" height="25.0" fill="#0089ff"/><rect x="2808.9" y="2878.0" width="25.0" height="25.0" fill="#0086ff"/><rect x="2816.1" y="2879.6" width="25.0" height="25.0" fill="#0084ff"/><rect x="2823.3" y="2881.2" width="25.0" height="25.0" fill="#0082ff"/><rect x="2830.5" y="2882.8" width="25.0" height="25.0" fill="#007fff"/><rect x="2837.6" y="2884.4" width="25.0" height="25.0" fill="#007dff"/><rect x="2844.8" y="2886.0" width="25.0" height="25.0" fill="#007aff"/><rect x="2852.0" y="2887.6" width="25.0" height="25.0" fill="#0078ff"/><rect x="2859.2" y="2889.2" width="25.0" height="25.0" fill="#0076ff"/><rect x="2866.4" y="2890.8" width="25.0" height="25.0" fill="#0073ff"/><rect x="2873.5" y="2892.4" width="25.0" height="25.0" fill="#0071ff"/><rect x="2880.7" y="2894.0" width="25.0" height="25.0" fill="#006eff"/><path d="M2525.6,2658.9L2538.1,2654.2L2538.7,2640.9L2547.1,2651.3L2560.0,2647.8L2552.6,2658.9L2560.0,2670.1L2547.1,2666.5L2538.7,2677.0L2538.1,2663.6Z" fill="#002aff"/><path d="M2521.6,2665.0L2534.1,2660.3L2534.7,2646.9L2543.0,2657.4L2555.9,2653.8L2548.6,2665.0L2555.9,2676.2L2543.0,2672.6L2534.7,2683.1L2534.1,2669.7Z" fill="#003aff"/><path d="M2517.5,2671.1L2530.1,2666.4L2530.7,2653.0L2539.0,2663.4L2551.9,2659.9L2544.5,2671.1L2551.9,2682.2L2539.0,2678.7L2530.7,2689.1L2530.1,2675.8Z" fill="#004aff"/><path d="M2513.5,2677.1L2526.0,2672.4L2526.6,2659.0L2535.0,2669.5L2547.9,2665.9L2540.5,2677.1L2547.9,2688.3L2535.0,2684.7L2526.6,2695.2L2526.0,2681.8Z" fill="#005aff"/><path d="M2509.4,2683.2L2522.0,2678.5L2522.6,2665.1L2530.9,2675.6L2543.8,2672.0L2536.4,2683.2L2543.8,2694.3L2530.9,2690.8L2522.6,2701.2L2522.0,2687.9Z" fill="#006aff"/><path d="M2505.4,2689.2L2517.9,2684.5L2518.5,2671.2L2526.9,2681.6L2539.8,2678.1L2532.4,2689.2L2539.8,2700.4L2526.9,2696.9L2518.5,2707.3L2517.9,2693.9Z" fill="#007aff"/><path d="M2501.4,2695.3L2513.9,2690.6L2514.5,2677.2L2522.8,2687.7L2535.7,2684.1L2528.4,2695.3L2535.7,2706.5L2522.8,2702.9L2514.5,2713.4L2513.9,2700.0Z" fill="#008aff"/><path d="M2497.3,2701.4L2509.8,2696.7L2510.4,2683.3L2518.8,2693.8L2531.7,2690.2L2524.3,2701.4L2531.7,2712.5L2518.8,2709.0L2510.4,2719.4L2509.8,2706.1Z" fill="#009aff"/><path d="M2493.3,2707.4L2505.8,2702.7L2506.4,2689.4L2514.7,2699.8L2527.6,2696.3L2520.3,2707.4L2527.6,2718.6L2514.7,2715.0L2506.4,2725.5L2505.8,2712.1Z" fill="#00a9ff"/><path d="M2489.2,2713.5L2501.8,2708.8L2502.4,2695.4L2510.7,2705.9L2523.6,2702.3L2516.2,2713.5L2523.6,2724.7L2510.7,2721.1L2502.4,2731.6L2501.8,2718.2Z" fill="#00b9ff"/><path d="M2485.2,2719.6L2497.7,2714.9L2498.3,2701.5L2506.7,2711.9L2519.6,2708.4L2512.2,2719.6L2519.6,2730.7L2506.7,2727.2L2498.3,2737.6L2497.7,2724.3Z" fill="#00c9ff"/><path d="M2480.9,2726.1L2493.4,2721.4L2494.0,2708.0L2502.3,2718.4L2515.2,2714.9L2507.9,2726.1L2515.2,2737.2L2502.3,2733.7L2494.0,2744.1L2493.4,2730.8Z" fill="#00ccff"/><path d="M2476.5,2732.5L2489.1,2727.8L2489.7,2714.5L2498.0,2724.9L2510.9,2721.4L2503.5,2732.5L2510.9,2743.7L2498.0,2740.2L2489.7,2750.6L2489.1,2737.3Z" fill="#00d0ff"/><path d="M2472.2,2739.0L2484.7,2734.3L2485.3,2721.0L2493.7,2731.4L2506.6,2727.9L2499.2,2739.0L2506.6,2750.2L2493.7,2746.7L2485.3,2757.1L2484.7,2743.7Z" fill="#00d3ff"/><path d="M2467.9,2745.5L2480.4,2740.8L2481.0,2727.5L2489.3,2737.9L2502.2,2734.4L2494.9,2745.5L2502.2,2756.7L2489.3,2753.1L2481.0,2763.6L2480.4,2750.2Z" fill="#00d6ff"/><path d="M2463.5,2752.0L2476.1,2747.3L2476.7,2734.0L2485.0,2744.4L2497.9,2740.9L2490.5,2752.0L2497.9,2763.2L2485.0,2759.6L2476.7,2770.1L2476.1,2756.7Z" fill="#00d9ff"/><path d="M2459.2,2758.5L2471.7,2753.8L2472.3,2740.5L2480.7,2750.9L2493.6,2747.4L2486.2,2758.5L2493.6,2769.7L2480.7,2766.1L2472.3,2776.6L2471.7,2763.2Z" fill="#00ddff"/><path d="M2454.9,2765.0L2467.4,2760.3L2468.0,2747.0L2476.3,2757.4L2489.2,2753.9L2481.9,2765.0L2489.2,2776.2L2476.3,2772.6L2468.0,2783.1L2467.4,2769.7Z" fill="#00e0ff"/><path d="M2450.7,2771.8L2463.2,2767.1L2463.8,2753.7L2472.1,2764.2L2485.0,2760.6L2477.7,2771.8L2485.0,2782.9L2472.1,2779.4L2463.8,2789.8L2463.2,2776.5Z" fill="#00e0ff"/><path d="M2446.5,2778.5L2459.0,2773.8L2459.6,2760.4L2467.9,2770.9L2480.8,2767.3L2473.5,2778.5L2480.8,2789.7L2467.9,2786.1L2459.6,2796.6L2459.0,2783.2Z" fill="#00e0ff"/><path d="M2442.2,2785.2L2454.8,2780.5L2455.4,2767.2L2463.7,2777.6L2476.6,2774.1L2469.2,2785.2L2476.6,2796.4L2463.7,2792.8L2455.4,2803.3L2454.8,2789.9Z" fill="#00e0ff"/><path d="M2438.0,2792.0L2450.6,2787.3L2451.2,2773.9L2459.5,2784.4L2472.4,2780.8L2465.0,2792.0L2472.4,2803.1L2459.5,2799.6L2451.2,2810.0L2450.6,2796.7Z" fill="#00e0ff"/><path d="M2433.8,2798.7L2446.4,2794.0L2447.0,2780.6L2455.3,2791.1L2468.2,2787.5L2460.8,2798.7L2468.2,2809.9L2455.3,2806.3L2447.0,2816.8L2446.4,2803.4Z" fill="#00e0ff"/><path d="M2429.6,2805.4L2442.1,2800.7L2442.7,2787.4L2451.1,2797.8L2464.0,2794.3L2456.6,2805.4L2464.0,2816.6L2451.1,2813.1L2442.7,2823.5L2442.1,2810.1Z" fill="#00e0ff"/><path d="M2425.2,2811.8L2437.7,2807.1L2438.3,2793.7L2446.7,2804.2L2459.6,2800.6L2452.2,2811.8L2459.6,2822.9L2446.7,2819.4L2438.3,2829.8L2437.7,2816.5Z" fill="#00e1ff"/><path d="M2420.8,2818.1L2433.3,2813.4L2433.9,2800.0L2442.2,2810.5L2455.1,2806.9L2447.8,2818.1L2455.1,2829.2L2442.2,2825.7L2433.9,2836.1L2433.3,2822.8Z" fill="#00e3ff"/><path d="M2416.4,2824.4L2428.9,2819.7L2429.5,2806.3L2437.8,2816.8L2450.7,2813.2L2443.4,2824.4L2450.7,2835.6L2437.8,2832.0L2429.5,2842.5L2428.9,2829.1Z" fill="#00e4ff"/><path d="M2411.9,2830.7L2424.5,2826.0L2425.1,2812.6L2433.4,2823.1L2446.3,2819.5L2438.9,2830.7L2446.3,2841.9L2433.4,2838.3L2425.1,2848.8L2424.5,2835.4Z" fill="#00e6ff"/><path d="M2407.5,2837.0L2420.0,2832.3L2420.6,2819.0L2429.0,2829.4L2441.9,2825.9L2434.5,2837.0L2441.9,2848.2L2429.0,2844.6L2420.6,2855.1L2420.0,2841.7Z" fill="#00e7ff"/><path d="M2403.1,2843.3L2415.6,2838.6L2416.2,2825.3L2424.6,2835.7L2437.5,2832.2L2430.1,2843.3L2437.5,2854.5L2424.6,2850.9L2416.2,2861.4L2415.6,2848.0Z" fill="#00e8ff"/><path d="M2398.7,2849.7L2411.2,2845.0L2411.8,2831.6L2420.1,2842.0L2433.0,2838.5L2425.7,2849.7L2433.0,2860.8L2420.1,2857.3L2411.8,2867.7L2411.2,2854.4Z" fill="#00eaff"/><path d="M2394.2,2856.0L2406.8,2851.3L2407.4,2837.9L2415.7,2848.4L2428.6,2844.8L2421.2,2856.0L2428.6,2867.1L2415.7,2863.6L2407.4,2874.0L2406.8,2860.7Z" fill="#00ebff"/><path d="M2389.8,2861.6L2402.3,2856.9L2402.9,2843.5L2411.2,2854.0L2424.1,2850.4L2416.8,2861.6L2424.1,2872.8L2411.2,2869.2L2402.9,2879.7L2402.3,2866.3Z" fill="#00f1ff"/><path d="M2385.3,2867.2L2397.8,2862.5L2398.4,2849.1L2406.7,2859.6L2419.6,2856.0L2412.3,2867.2L2419.6,2878.4L2406.7,2874.8L2398.4,2885.3L2397.8,2871.9Z" fill="#00f8ff"/><path d="M2380.8,2872.8L2393.3,2868.1L2393.9,2854.7L2402.2,2865.2L2415.1,2861.6L2407.8,2872.8L2415.1,2884.0L2402.2,2880.4L2393.9,2890.9L2393.3,2877.5Z" fill="#00feff"/><path d="M2376.3,2878.4L2388.8,2873.7L2389.4,2860.4L2397.8,2870.8L2410.7,2867.3L2403.3,2878.4L2410.7,2889.6L2397.8,2886.0L2389.4,2896.5L2388.8,2883.1Z" fill="#05fffa"/><path d="M2371.8,2884.0L2384.3,2879.3L2384.9,2866.0L2393.3,2876.4L2406.2,2872.9L2398.8,2884.0L2406.2,2895.2L2393.3,2891.6L2384.9,2902.1L2384.3,2888.7Z" fill="#0cfff3"/><path d="M2367.3,2889.7L2379.8,2885.0L2380.4,2871.6L2388.8,2882.0L2401.7,2878.5L2394.3,2889.7L2401.7,2900.8L2388.8,2897.3L2380.4,2907.7L2379.8,2894.4Z" fill="#12ffed"/><path d="M2362.8,2895.3L2375.3,2890.6L2375.9,2877.2L2384.3,2887.7L2397.2,2884.1L2389.8,2895.3L2397.2,2906.4L2384.3,2902.9L2375.9,2913.3L2375.3,2900.0Z" fill="#18ffe7"/><path d="M2358.3,2900.9L2370.8,2896.2L2371.4,2882.8L2379.8,2893.3L2392.7,2889.7L2385.3,2900.9L2392.7,2912.0L2379.8,2908.5L2371.4,2919.0L2370.8,2905.6Z" fill="#1fffe0"/><path d="M2353.8,2906.5L2366.4,2901.8L2367.0,2888.4L2375.3,2898.9L2388.2,2895.3L2380.8,2906.5L2388.2,2917.7L2375.3,2914.1L2367.0,2924.6L2366.4,2911.2Z" fill="#25ffda"/><path d="M2349.3,2912.1L2361.9,2907.4L2362.5,2894.0L2370.8,2904.5L2383.7,2900.9L2376.3,2912.1L2383.7,2923.3L2370.8,2919.7L2362.5,2930.2L2361.9,2916.8Z" fill="#21ffde"/><path d="M2344.8,2917.7L2357.4,2913.0L2358.0,2899.7L2366.3,2910.1L2379.2,2906.6L2371.8,2917.7L2379.2,2928.9L2366.3,2925.3L2358.0,2935.8L2357.4,2922.4Z" fill="#1dffe2"/><path d="M2340.4,2923.3L2352.9,2918.6L2353.5,2905.3L2361.8,2915.7L2374.7,2912.2L2367.4,2923.3L2374.7,2934.5L2361.8,2930.9L2353.5,2941.4L2352.9,2928.0Z" fill="#1affe5"/><path d="M2335.9,2928.9L2348.4,2924.2L2349.0,2910.9L2357.3,2921.3L2370.2,2917.8L2362.9,2928.9L2370.2,2940.1L2357.3,2936.6L2349.0,2947.0L2348.4,2933.7Z" fill="#16ffe9"/><path d="M2331.4,2934.6L2343.9,2929.9L2344.5,2916.5L2352.8,2927.0L2365.7,2923.4L2358.4,2934.6L2365.7,2945.7L2352.8,2942.2L2344.5,2952.6L2343.9,2939.3Z" fill="#12ffed"/><path d="M2326.9,2940.2L2339.4,2935.5L2340.0,2922.1L2348.4,2932.6L2361.3,2929.0L2353.9,2940.2L2361.3,2951.3L2348.4,2947.8L2340.0,2958.2L2339.4,2944.9Z" fill="#0efff1"/><path d="M2322.4,2945.8L2334.9,2941.1L2335.5,2927.7L2343.9,2938.2L2356.8,2934.6L2349.4,2945.8L2356.8,2957.0L2343.9,2953.4L2335.5,2963.9L2334.9,2950.5Z" fill="#0afff5"/><path d="M2317.9,2951.4L2330.4,2946.7L2331.0,2933.3L2339.4,2943.8L2352.3,2940.2L2344.9,2951.4L2352.3,2962.6L2339.4,2959.0L2331.0,2969.5L2330.4,2956.1Z" fill="#07fff8"/><path d="M2313.4,2957.0L2325.9,2952.3L2326.5,2938.9L2334.9,2949.4L2347.8,2945.8L2340.4,2957.0L2347.8,2968.2L2334.9,2964.6L2326.5,2975.1L2325.9,2961.7Z" fill="#03fffc"/><path d="M2308.9,2962.6L2321.4,2957.9L2322.0,2944.6L2330.4,2955.0L2343.3,2951.5L2335.9,2962.6L2343.3,2973.8L2330.4,2970.2L2322.0,2980.7L2321.4,2967.3Z" fill="#02fffd"/><path d="M2304.4,2968.2L2317.0,2963.5L2317.6,2950.2L2325.9,2960.6L2338.8,2957.1L2331.4,2968.2L2338.8,2979.4L2325.9,2975.9L2317.6,2986.3L2317.0,2972.9Z" fill="#00ffff"/><path d="M2299.9,2973.9L2312.5,2969.2L2313.1,2955.8L2321.4,2966.3L2334.3,2962.7L2326.9,2973.9L2334.3,2985.0L2321.4,2981.5L2313.1,2991.9L2312.5,2978.6Z" fill="#00feff"/><path d="M2295.4,2979.5L2308.0,2974.8L2308.6,2961.4L2316.9,2971.9L2329.8,2968.3L2322.4,2979.5L2329.8,2990.6L2316.9,2987.1L2308.6,2997.5L2308.0,2984.2Z" fill="#00fdff"/><path d="M2291.0,2985.1L2303.5,2980.4L2304.1,2967.0L2312.4,2977.5L2325.3,2973.9L2318.0,2985.1L2325.3,2996.3L2312.4,2992.7L2304.1,3003.2L2303.5,2989.8Z" fill="#00fcff"/><path d="M2286.5,2990.7L2299.0,2986.0L2299.6,2972.6L2307.9,2983.1L2320.8,2979.5L2313.5,2990.7L2320.8,3001.9L2307.9,2998.3L2299.6,3008.8L2299.0,2995.4Z" fill="#00faff"/><path d="M2282.0,2996.3L2294.5,2991.6L2295.1,2978.2L2303.4,2988.7L2316.3,2985.1L2309.0,2996.3L2316.3,3007.5L2303.4,3003.9L2295.1,3014.4L2294.5,3001.0Z" fill="#00f9ff"/><path d="M2277.5,3001.9L2290.0,2997.2L2290.6,2983.9L2299.0,2994.3L2311.9,2990.8L2304.5,3001.9L2311.9,3013.1L2299.0,3009.5L2290.6,3020.0L2290.0,3006.6Z" fill="#00f8ff"/><path d="M2273.0,3007.5L2285.5,3002.8L2286.1,2989.5L2294.5,2999.9L2307.4,2996.4L2300.0,3007.5L2307.4,3018.7L2294.5,3015.2L2286.1,3025.6L2285.5,3012.2Z" fill="#00f6ff"/><path d="M2268.5,3013.2L2281.0,3008.5L2281.6,2995.1L2290.0,3005.5L2302.9,3002.0L2295.5,3013.2L2302.9,3024.3L2290.0,3020.8L2281.6,3031.2L2281.0,3017.9Z" fill="#00f9ff"/><path d="M2264.0,3018.8L2276.5,3014.1L2277.1,3000.7L2285.5,3011.2L2298.4,3007.6L2291.0,3018.8L2298.4,3029.9L2285.5,3026.4L2277.1,3036.8L2276.5,3023.5Z" fill="#00fcff"/><path d="M2259.5,3024.4L2272.0,3019.7L2272.6,3006.3L2281.0,3016.8L2293.9,3013.2L2286.5,3024.4L2293.9,3035.6L2281.0,3032.0L2272.6,3042.5L2272.0,3029.1Z" fill="#00feff"/><path d="M2255.0,3030.0L2267.6,3025.3L2268.2,3011.9L2276.5,3022.4L2289.4,3018.8L2282.0,3030.0L2289.4,3041.2L2276.5,3037.6L2268.2,3048.1L2267.6,3034.7Z" fill="#02fffd"/><path d="M2250.5,3035.6L2263.1,3030.9L2263.7,3017.5L2272.0,3028.0L2284.9,3024.4L2277.5,3035.6L2284.9,3046.8L2272.0,3043.2L2263.7,3053.7L2263.1,3040.3Z" fill="#04fffb"/><path d="M2246.0,3041.2L2258.6,3036.5L2259.2,3023.2L2267.5,3033.6L2280.4,3030.1L2273.0,3041.2L2280.4,3052.4L2267.5,3048.8L2259.2,3059.3L2258.6,3045.9Z" fill="#07fff8"/><path d="M2241.6,3046.8L2254.1,3042.1L2254.7,3028.8L2263.0,3039.2L2275.9,3035.7L2268.6,3046.8L2275.9,3058.0L2263.0,3054.4L2254.7,3064.9L2254.1,3051.5Z" fill="#09fff6"/><path d="M2237.1,3052.5L2249.6,3047.7L2250.2,3034.4L2258.5,3044.8L2271.4,3041.3L2264.1,3052.5L2271.4,3063.6L2258.5,3060.1L2250.2,3070.5L2249.6,3057.2Z" fill="#0cfff3"/><path d="M2232.6,3058.1L2245.1,3053.4L2245.7,3040.0L2254.0,3050.5L2266.9,3046.9L2259.6,3058.1L2266.9,3069.2L2254.0,3065.7L2245.7,3076.1L2245.1,3062.8Z" fill="#0efff1"/><rect x="2527.1" y="2651.5" width="25.0" height="25.0" fill="#004dff"/><rect x="2520.6" y="2655.8" width="25.0" height="25.0" fill="#0058ff"/><rect x="2514.1" y="2660.1" width="25.0" height="25.0" fill="#0063ff"/><rect x="2507.6" y="2664.5" width="25.0" height="25.0" fill="#006eff"/><rect x="2501.1" y="2668.8" width="25.0" height="25.0" fill="#007aff"/><rect x="2494.6" y="2673.1" width="25.0" height="25.0" fill="#0085ff"/><rect x="2488.1" y="2677.5" width="25.0" height="25.0" fill="#0090ff"/><rect x="2481.6" y="2681.8" width="25.0" height="25.0" fill="#009cff"/><rect x="2475.8" y="2686.1" width="25.0" height="25.0" fill="#009fff"/><rect x="2470.0" y="2690.5" width="25.0" height="25.0" fill="#00a2ff"/><rect x="2464.3" y="2694.8" width="25.0" height="25.0" fill="#00a6ff"/><rect x="2458.5" y="2699.1" width="25.0" height="25.0" fill="#00a9ff"/><rect x="2452.7" y="2703.4" width="25.0" height="25.0" fill="#00acff"/><rect x="2446.9" y="2707.8" width="25.0" height="25.0" fill="#00afff"/><rect x="2441.2" y="2712.1" width="25.0" height="25.0" fill="#00b3ff"/><rect x="2432.7" y="2715.5" width="25.0" height="25.0" fill="#00baff"/><rect x="2424.3" y="2718.8" width="25.0" height="25.0" fill="#00c2ff"/><rect x="2415.9" y="2722.2" width="25.0" height="25.0" fill="#00c9ff"/><path d="M2392.2,2749.9L2408.2,2733.9L2424.2,2749.9L2408.2,2765.9Z" fill="#00beff"/><path d="M2366.9,2765.0L2382.9,2749.0L2398.9,2765.0L2382.9,2781.0Z" fill="#00beff"/><path d="M2326.5,2850.9L2342.5,2834.9L2358.5,2850.9L2342.5,2866.9Z" fill="#0efff1"/><path d="M2321.5,2800.4L2337.5,2784.4L2353.5,2800.4L2337.5,2816.4Z" fill="#0008ff"/><path d="M2528.6,2805.4L2544.6,2789.4L2560.6,2805.4L2544.6,2821.4Z" fill="#00e0ff"/><path d="M2558.9,2805.4L2574.9,2789.4L2590.9,2805.4L2574.9,2821.4Z" fill="#00d4ff"/><path d="M2594.3,2805.4L2610.3,2789.4L2626.3,2805.4L2610.3,2821.4Z" fill="#00b3ff"/><path d="M2629.7,2800.4L2645.7,2784.4L2661.7,2800.4L2645.7,2816.4Z" fill="#009cff"/><rect x="2259.3" y="2959.7" width="25.0" height="25.0" fill="#a2ff5e"/><rect x="2266.0" y="2963.9" width="25.0" height="25.0" fill="#98ff67"/><rect x="2272.8" y="2968.1" width="25.0" height="25.0" fill="#8fff70"/><rect x="2279.5" y="2972.3" width="25.0" height="25.0" fill="#85ff7a"/><rect x="2286.2" y="2976.5" width="25.0" height="25.0" fill="#7cff83"/><rect x="2293.0" y="2980.7" width="25.0" height="25.0" fill="#72ff8d"/><rect x="2299.7" y="2984.9" width="25.0" height="25.0" fill="#69ff96"/><rect x="2305.5" y="2989.3" width="25.0" height="25.0" fill="#66ff99"/><rect x="2311.2" y="2993.6" width="25.0" height="25.0" fill="#62ff9d"/><rect x="2317.0" y="2997.9" width="25.0" height="25.0" fill="#5fffa0"/><rect x="2322.8" y="3002.3" width="25.0" height="25.0" fill="#5cffa3"/><rect x="2328.6" y="3006.6" width="25.0" height="25.0" fill="#59ffa6"/><rect x="2334.3" y="3010.9" width="25.0" height="25.0" fill="#55ffaa"/><rect x="2340.1" y="3015.3" width="25.0" height="25.0" fill="#52ffad"/><rect x="2345.7" y="3019.7" width="25.0" height="25.0" fill="#52ffad"/><rect x="2351.3" y="3024.2" width="25.0" height="25.0" fill="#52ffad"/><rect x="2357.0" y="3028.7" width="25.0" height="25.0" fill="#52ffad"/><rect x="2362.6" y="3033.2" width="25.0" height="25.0" fill="#52ffad"/><rect x="2368.2" y="3037.7" width="25.0" height="25.0" fill="#52ffad"/><rect x="2373.8" y="3042.2" width="25.0" height="25.0" fill="#52ffad"/><rect x="2379.4" y="3046.7" width="25.0" height="25.0" fill="#52ffad"/><rect x="2385.0" y="3051.2" width="25.0" height="25.0" fill="#52ffad"/><rect x="2390.6" y="3055.7" width="25.0" height="25.0" fill="#52ffad"/><rect x="2299.7" y="2997.6" width="25.0" height="25.0" fill="#69ff96"/><rect x="2305.6" y="3001.8" width="25.0" height="25.0" fill="#64ff9b"/><rect x="2311.5" y="3006.0" width="25.0" height="25.0" fill="#5fffa0"/><rect x="2317.4" y="3010.2" width="25.0" height="25.0" fill="#5bffa4"/><rect x="2323.3" y="3014.4" width="25.0" height="25.0" fill="#56ffa9"/><rect x="2329.2" y="3018.7" width="25.0" height="25.0" fill="#51ffae"/><rect x="2335.1" y="3022.9" width="25.0" height="25.0" fill="#4cffb3"/><rect x="2341.0" y="3027.1" width="25.0" height="25.0" fill="#48ffb7"/><rect x="2346.9" y="3031.3" width="25.0" height="25.0" fill="#43ffbc"/><rect x="2352.7" y="3035.5" width="25.0" height="25.0" fill="#3effc1"/><rect x="2358.6" y="3039.7" width="25.0" height="25.0" fill="#3affc5"/><rect x="2364.5" y="3043.9" width="25.0" height="25.0" fill="#35ffca"/><rect x="2370.4" y="3048.1" width="25.0" height="25.0" fill="#30ffcf"/><rect x="2376.3" y="3052.3" width="25.0" height="25.0" fill="#2fffd0"/><rect x="2382.2" y="3056.5" width="25.0" height="25.0" fill="#2effd1"/><rect x="2388.1" y="3060.8" width="25.0" height="25.0" fill="#2dffd2"/><rect x="2394.0" y="3065.0" width="25.0" height="25.0" fill="#2cffd3"/><rect x="2399.9" y="3069.2" width="25.0" height="25.0" fill="#2bffd4"/><rect x="2405.8" y="3073.4" width="25.0" height="25.0" fill="#2bffd4"/><rect x="2411.7" y="3077.6" width="25.0" height="25.0" fill="#2affd5"/><rect x="2417.6" y="3081.8" width="25.0" height="25.0" fill="#29ffd6"/><rect x="2423.5" y="3086.0" width="25.0" height="25.0" fill="#28ffd7"/><rect x="2429.4" y="3090.2" width="25.0" height="25.0" fill="#27ffd8"/><rect x="2435.3" y="3094.4" width="25.0" height="25.0" fill="#26ffd9"/><rect x="2441.2" y="3098.7" width="25.0" height="25.0" fill="#25ffda"/><rect x="2447.2" y="3102.7" width="25.0" height="25.0" fill="#23ffdc"/><rect x="2453.3" y="3106.7" width="25.0" height="25.0" fill="#20ffdf"/><rect x="2459.4" y="3110.8" width="25.0" height="25.0" fill="#1effe1"/><rect x="2465.4" y="3114.8" width="25.0" height="25.0" fill="#1cffe3"/><rect x="2471.5" y="3118.9" width="25.0" height="25.0" fill="#1affe5"/><rect x="2477.5" y="3122.9" width="25.0" height="25.0" fill="#17ffe8"/><rect x="2483.6" y="3126.9" width="25.0" height="25.0" fill="#15ffea"/><rect x="2489.7" y="3131.0" width="25.0" height="25.0" fill="#13ffec"/><rect x="2495.7" y="3135.0" width="25.0" height="25.0" fill="#10ffef"/><rect x="2501.8" y="3139.1" width="25.0" height="25.0" fill="#0efff1"/><rect x="2507.6" y="3144.1" width="25.0" height="25.0" fill="#08fff7"/><rect x="2513.3" y="3149.2" width="25.0" height="25.0" fill="#01fffe"/><rect x="2519.1" y="3154.2" width="25.0" height="25.0" fill="#00faff"/><rect x="2524.9" y="3159.3" width="25.0" height="25.0" fill="#00f3ff"/><rect x="2530.7" y="3164.3" width="25.0" height="25.0" fill="#00edff"/><rect x="2536.4" y="3169.4" width="25.0" height="25.0" fill="#00e6ff"/><rect x="2542.2" y="3174.4" width="25.0" height="25.0" fill="#00e0ff"/><rect x="2547.8" y="3178.9" width="25.0" height="25.0" fill="#00d6ff"/><rect x="2553.4" y="3183.4" width="25.0" height="25.0" fill="#00ccff"/><rect x="2559.1" y="3187.9" width="25.0" height="25.0" fill="#00c2ff"/><rect x="2564.7" y="3192.4" width="25.0" height="25.0" fill="#00b8ff"/><rect x="2570.3" y="3196.9" width="25.0" height="25.0" fill="#00adff"/><rect x="2575.9" y="3201.4" width="25.0" height="25.0" fill="#00a3ff"/><rect x="2581.5" y="3205.9" width="25.0" height="25.0" fill="#0099ff"/><rect x="2587.1" y="3210.4" width="25.0" height="25.0" fill="#008fff"/><rect x="2592.7" y="3214.9" width="25.0" height="25.0" fill="#0085ff"/><rect x="2598.4" y="3219.3" width="25.0" height="25.0" fill="#008eff"/><rect x="2604.0" y="3223.8" width="25.0" height="25.0" fill="#0097ff"/><rect x="2609.6" y="3228.3" width="25.0" height="25.0" fill="#00a0ff"/><rect x="2615.2" y="3232.8" width="25.0" height="25.0" fill="#00a8ff"/><rect x="2620.8" y="3237.3" width="25.0" height="25.0" fill="#00b1ff"/><rect x="2626.4" y="3241.8" width="25.0" height="25.0" fill="#00baff"/><rect x="2632.0" y="3246.3" width="25.0" height="25.0" fill="#00c3ff"/><rect x="2637.6" y="3250.8" width="25.0" height="25.0" fill="#00ccff"/><rect x="2643.3" y="3255.3" width="25.0" height="25.0" fill="#00d4ff"/><rect x="2648.9" y="3260.3" width="25.0" height="25.0" fill="#00d2ff"/><rect x="2654.5" y="3265.4" width="25.0" height="25.0" fill="#00cfff"/><rect x="2660.1" y="3270.4" width="25.0" height="25.0" fill="#00cdff"/><rect x="2665.7" y="3275.5" width="25.0" height="25.0" fill="#00caff"/><rect x="2671.3" y="3280.5" width="25.0" height="25.0" fill="#00c8ff"/><rect x="2676.9" y="3285.6" width="25.0" height="25.0" fill="#00c5ff"/><rect x="2682.6" y="3290.6" width="25.0" height="25.0" fill="#00c3ff"/><rect x="2688.2" y="3295.7" width="25.0" height="25.0" fill="#00c0ff"/><rect x="2693.8" y="3300.7" width="25.0" height="25.0" fill="#00beff"/><rect x="2699.4" y="3305.2" width="25.0" height="25.0" fill="#00bbff"/><rect x="2705.0" y="3309.7" width="25.0" height="25.0" fill="#00b9ff"/><rect x="2710.6" y="3314.2" width="25.0" height="25.0" fill="#00b6ff"/><rect x="2716.2" y="3318.7" width="25.0" height="25.0" fill="#00b4ff"/><rect x="2721.9" y="3323.2" width="25.0" height="25.0" fill="#00b1ff"/><rect x="2727.5" y="3327.7" width="25.0" height="25.0" fill="#00afff"/><rect x="2733.1" y="3332.2" width="25.0" height="25.0" fill="#00acff"/><rect x="2738.7" y="3336.7" width="25.0" height="25.0" fill="#00aaff"/><rect x="2744.3" y="3341.2" width="25.0" height="25.0" fill="#00a7ff"/><rect x="2749.9" y="3346.2" width="25.0" height="25.0" fill="#00a5ff"/><rect x="2755.5" y="3351.3" width="25.0" height="25.0" fill="#00a2ff"/><rect x="2761.1" y="3356.3" width="25.0" height="25.0" fill="#00a0ff"/><rect x="2766.8" y="3361.4" width="25.0" height="25.0" fill="#009dff"/><rect x="2772.4" y="3366.4" width="25.0" height="25.0" fill="#009bff"/><rect x="2778.0" y="3371.5" width="25.0" height="25.0" fill="#0098ff"/><rect x="2783.6" y="3376.5" width="25.0" height="25.0" fill="#0096ff"/><rect x="2789.2" y="3381.6" width="25.0" height="25.0" fill="#0093ff"/><rect x="2794.8" y="3386.6" width="25.0" height="25.0" fill="#0090ff"/><rect x="2800.9" y="3391.7" width="25.0" height="25.0" fill="#007cff"/><rect x="2807.0" y="3396.7" width="25.0" height="25.0" fill="#0068ff"/><rect x="2813.0" y="3401.8" width="25.0" height="25.0" fill="#0053ff"/><rect x="2819.1" y="3406.8" width="25.0" height="25.0" fill="#003fff"/><rect x="2825.1" y="3411.9" width="25.0" height="25.0" fill="#002aff"/><path d="M2661.0,3454.7L2689.0,3440.7L2689.0,3468.7Z" fill="#00d4ff"/><path d="M2668.3,3453.8L2696.3,3439.8L2696.3,3467.8Z" fill="#00cdff"/><path d="M2675.7,3452.9L2703.7,3438.9L2703.7,3466.9Z" fill="#00c6ff"/><path d="M2683.0,3452.0L2711.0,3438.0L2711.0,3466.0Z" fill="#00bfff"/><path d="M2690.4,3451.0L2718.4,3437.0L2718.4,3465.0Z" fill="#00b8ff"/><path d="M2697.7,3450.1L2725.7,3436.1L2725.7,3464.1Z" fill="#00b0ff"/><path d="M2705.1,3449.2L2733.1,3435.2L2733.1,3463.2Z" fill="#00a9ff"/><path d="M2712.4,3448.3L2740.4,3434.3L2740.4,3462.3Z" fill="#00a2ff"/><path d="M2719.8,3447.4L2747.8,3433.4L2747.8,3461.4Z" fill="#009bff"/><path d="M2727.1,3446.4L2755.1,3432.4L2755.1,3460.4Z" fill="#0094ff"/><path d="M2734.5,3445.5L2762.5,3431.5L2762.5,3459.5Z" fill="#008cff"/><path d="M2741.8,3444.6L2769.8,3430.6L2769.8,3458.6Z" fill="#0085ff"/><path d="M2749.2,3444.1L2777.2,3430.1L2777.2,3458.1Z" fill="#0079ff"/><path d="M2756.5,3443.7L2784.5,3429.7L2784.5,3457.7Z" fill="#006cff"/><path d="M2763.9,3443.2L2791.9,3429.2L2791.9,3457.2Z" fill="#0060ff"/><path d="M2771.2,3442.8L2799.2,3428.8L2799.2,3456.8Z" fill="#0054ff"/><path d="M2778.6,3442.3L2806.6,3428.3L2806.6,3456.3Z" fill="#0047ff"/><path d="M2785.9,3441.9L2813.9,3427.9L2813.9,3455.9Z" fill="#003bff"/><path d="M2793.3,3441.4L2821.3,3427.4L2821.3,3455.4Z" fill="#002fff"/><path d="M2800.6,3440.9L2828.6,3426.9L2828.6,3454.9Z" fill="#0022ff"/><path d="M2807.9,3440.5L2835.9,3426.5L2835.9,3454.5Z" fill="#0016ff"/><path d="M2815.3,3440.0L2843.3,3426.0L2843.3,3454.0Z" fill="#000aff"/><path d="M2822.6,3439.6L2850.6,3425.6L2850.6,3453.6Z" fill="#0000fc"/><path d="M2697.9,3490.1L2713.9,3474.1L2729.9,3490.1L2713.9,3506.1Z" fill="#0efff1"/><path d="M2728.2,3500.2L2744.2,3484.2L2760.2,3500.2L2744.2,3516.2Z" fill="#03fffc"/><path d="M2743.3,3505.2L2759.3,3489.2L2775.3,3505.2L2759.3,3521.2Z" fill="#03fffc"/><path d="M2778.7,3512.8L2794.7,3496.8L2810.7,3512.8L2794.7,3528.8Z" fill="#0041ff"/><path d="M2688.8,3545.7L2716.8,3531.7L2716.8,3559.7Z" fill="#80ff80"/><path d="M2695.1,3552.0L2723.1,3538.0L2723.1,3566.0Z" fill="#b8ff47"/><path d="M2701.4,3558.3L2729.4,3544.3L2729.4,3572.3Z" fill="#f1ff0e"/><path d="M2707.7,3564.6L2735.7,3550.6L2735.7,3578.6Z" fill="#ffe000"/><path d="M2714.0,3570.9L2742.0,3556.9L2742.0,3584.9Z" fill="#ffb300"/><path d="M2720.3,3578.5L2748.3,3564.5L2748.3,3592.5Z" fill="#ff9c00"/><path d="M2726.7,3586.1L2754.7,3572.1L2754.7,3600.1Z" fill="#ff8500"/><path d="M2731.7,3592.8L2759.7,3578.8L2759.7,3606.8Z" fill="#ff5000"/><path d="M2736.8,3599.5L2764.8,3585.5L2764.8,3613.5Z" fill="#ff1b00"/><path d="M2741.8,3606.3L2769.8,3592.3L2769.8,3620.3Z" fill="#e50000"/><path d="M2361.9,3090.9L2377.9,3074.9L2393.9,3090.9L2377.9,3106.9Z" fill="#30ffcf"/><path d="M2407.4,3080.8L2423.4,3064.8L2439.4,3080.8L2423.4,3096.8Z" fill="#30ffcf"/><path d="M2442.7,3080.8L2458.7,3064.8L2474.7,3080.8L2458.7,3096.8Z" fill="#3cffc4"/><path d="M2478.1,3075.8L2494.1,3059.8L2510.1,3075.8L2494.1,3091.8Z" fill="#3cffc4"/><path d="M2513.5,3070.7L2529.5,3054.7L2545.5,3070.7L2529.5,3086.7Z" fill="#47ffb8"/><path d="M2533.7,3065.7L2549.7,3049.7L2565.7,3065.7L2549.7,3081.7Z" fill="#3cffc4"/><path d="M2584.2,3060.6L2600.2,3044.6L2616.2,3060.6L2600.2,3076.6Z" fill="#30ffcf"/><path d="M2614.5,3050.5L2630.5,3034.5L2646.5,3050.5L2630.5,3066.5Z" fill="#25ffda"/><rect x="2239.1" y="3048.1" width="25.0" height="25.0" fill="#00d4ff"/><path d="M2271.9,3075.8L2299.9,3061.8L2299.9,3089.8Z" fill="#0041ff"/><path d="M2271.9,3076.8L2299.9,3062.8L2299.9,3090.8Z" fill="#0041ff"/><path d="M1945.3,2738.3L1957.9,2733.6L1958.5,2720.2L1966.8,2730.7L1979.7,2727.1L1972.3,2738.3L1979.7,2749.5L1966.8,2745.9L1958.5,2756.4L1957.9,2743.0Z" fill="#004dff"/><path d="M1950.9,2743.2L1963.4,2738.5L1964.0,2725.2L1972.3,2735.6L1985.2,2732.1L1977.9,2743.2L1985.2,2754.4L1972.3,2750.8L1964.0,2761.3L1963.4,2747.9Z" fill="#0049ff"/><path d="M1956.4,2748.2L1968.9,2743.5L1969.5,2730.1L1977.9,2740.5L1990.8,2737.0L1983.4,2748.2L1990.8,2759.3L1977.9,2755.8L1969.5,2766.2L1968.9,2752.9Z" fill="#0045ff"/><path d="M1962.0,2753.1L1974.5,2748.4L1975.1,2735.0L1983.4,2745.5L1996.3,2741.9L1989.0,2753.1L1996.3,2764.3L1983.4,2760.7L1975.1,2771.2L1974.5,2757.8Z" fill="#0041ff"/><path d="M1969.4,2747.5L1981.9,2742.8L1982.5,2729.5L1990.8,2739.9L2003.7,2736.4L1996.4,2747.5L2003.7,2758.7L1990.8,2755.2L1982.5,2765.6L1981.9,2752.2Z" fill="#003bff"/><path d="M1976.7,2742.0L1989.3,2737.3L1989.9,2723.9L1998.2,2734.4L2011.1,2730.8L2003.7,2742.0L2011.1,2753.2L1998.2,2749.6L1989.9,2760.1L1989.3,2746.7Z" fill="#0036ff"/><path d="M1928.0,2779.7L1944.0,2763.7L1960.0,2779.7L1944.0,2795.7Z" fill="#00b3ff"/><rect x="2051.6" y="2833.0" width="25.0" height="25.0" fill="#0041ff"/><rect x="2054.4" y="2840.4" width="25.0" height="25.0" fill="#0047ff"/><rect x="2057.2" y="2847.8" width="25.0" height="25.0" fill="#004dff"/><rect x="2060.9" y="2854.0" width="25.0" height="25.0" fill="#0058ff"/><rect x="2064.6" y="2860.1" width="25.0" height="25.0" fill="#0063ff"/><rect x="2068.3" y="2866.3" width="25.0" height="25.0" fill="#006eff"/><rect x="2073.8" y="2873.7" width="25.0" height="25.0" fill="#0074ff"/><rect x="2079.4" y="2881.1" width="25.0" height="25.0" fill="#007aff"/><rect x="2104.5" y="2884.8" width="25.0" height="25.0" fill="#004dff"/><rect x="2104.5" y="2892.2" width="25.0" height="25.0" fill="#0047ff"/><rect x="2104.5" y="2899.6" width="25.0" height="25.0" fill="#0041ff"/><path d="M2132.3,2930.5L2160.3,2916.5L2160.3,2944.5Z" fill="#0014ff"/><path d="M2128.6,2943.5L2156.6,2929.5L2156.6,2957.5Z" fill="#0063ff"/><path d="M2176.7,2974.9L2204.7,2960.9L2204.7,2988.9Z" fill="#0000fc"/><path d="M2177.4,2975.6L2205.4,2961.6L2205.4,2989.6Z" fill="#0000fc"/><rect x="2175.5" y="2988.3" width="25.0" height="25.0" fill="#69ff96"/><rect x="2179.2" y="2977.2" width="25.0" height="25.0" fill="#52ffad"/><rect x="2264.2" y="2958.7" width="25.0" height="25.0" fill="#b8ff47"/><rect x="2269.8" y="2966.1" width="25.0" height="25.0" fill="#a7ff58"/><rect x="2275.3" y="2973.5" width="25.0" height="25.0" fill="#96ff69"/><path d="M2202.6,2997.1L2230.6,2983.1L2230.6,3011.1Z" fill="#0efff1"/><path d="M2208.7,3003.2L2236.7,2989.2L2236.7,3017.2Z" fill="#3cffc4"/><path d="M2214.9,3009.4L2242.9,2995.4L2242.9,3023.4Z" fill="#69ff96"/><path d="M2221.0,3015.6L2249.0,3001.6L2249.0,3029.6Z" fill="#96ff69"/><path d="M2225.7,3021.1L2253.7,3007.1L2253.7,3035.1Z" fill="#82ff7d"/><path d="M2230.3,3026.7L2258.3,3012.7L2258.3,3040.7Z" fill="#6eff91"/><path d="M2234.9,3032.2L2262.9,3018.2L2262.9,3046.2Z" fill="#5bffa4"/><path d="M2239.5,3037.7L2267.5,3023.7L2267.5,3051.7Z" fill="#47ffb8"/><path d="M2242.3,3044.2L2270.3,3030.2L2270.3,3058.2Z" fill="#39ffc6"/><path d="M2245.1,3050.7L2273.1,3036.7L2273.1,3064.7Z" fill="#2bffd4"/><path d="M2247.8,3057.2L2275.8,3043.2L2275.8,3071.2Z" fill="#1cffe3"/><path d="M2250.6,3063.6L2278.6,3049.6L2278.6,3077.6Z" fill="#0efff1"/><path d="M2258.0,3068.6L2286.0,3054.6L2286.0,3082.6Z" fill="#00d4ff"/><path d="M2265.4,3073.5L2293.4,3059.5L2293.4,3087.5Z" fill="#009cff"/><path d="M2272.8,3078.4L2300.8,3064.4L2300.8,3092.4Z" fill="#0063ff"/><path d="M1263.4,2798.6L1279.4,2782.6L1295.4,2798.6L1279.4,2814.6Z" fill="#0000f1"/><path d="M1315.1,2850.3L1331.1,2834.3L1347.1,2850.3L1331.1,2866.3Z" fill="#0000f1"/><path d="M1332.9,2868.8L1348.9,2852.8L1364.9,2868.8L1348.9,2884.8Z" fill="#0000f1"/><path d="M1375.0,2911.0L1391.0,2895.0L1407.0,2911.0L1391.0,2927.0Z" fill="#0000f1"/><path d="M1380.9,3045.5L1396.9,3029.5L1412.9,3045.5L1396.9,3061.5Z" fill="#0000e5"/><path d="M1411.3,3086.5L1427.3,3070.5L1443.3,3086.5L1427.3,3102.5Z" fill="#002aff"/><path d="M1484.0,3017.0L1500.0,3001.0L1516.0,3017.0L1500.0,3033.0Z" fill="#002aff"/><path d="M1498.0,3031.0L1514.0,3015.0L1530.0,3031.0L1514.0,3047.0Z" fill="#002aff"/><path d="M1520.7,3013.7L1536.7,2997.7L1552.7,3013.7L1536.7,3029.7Z" fill="#0000fc"/><path d="M1549.5,2989.7L1565.5,2973.7L1581.5,2989.7L1565.5,3005.7Z" fill="#001fff"/><path d="M1594.3,3016.3L1610.3,3000.3L1626.3,3016.3L1610.3,3032.3Z" fill="#0063ff"/><path d="M1599.9,2929.8L1615.9,2913.8L1631.9,2929.8L1615.9,2945.8Z" fill="#0000f1"/><path d="M1644.2,2954.6L1660.2,2938.6L1676.2,2954.6L1660.2,2970.6Z" fill="#0000f1"/><path d="M1649.0,2984.9L1665.0,2968.9L1681.0,2984.9L1665.0,3000.9Z" fill="#0000f1"/><path d="M1677.4,2892.5L1693.4,2876.5L1709.4,2892.5L1693.4,2908.5Z" fill="#0000f1"/><path d="M1678.5,2962.0L1694.5,2946.0L1710.5,2962.0L1694.5,2978.0Z" fill="#0000e5"/><path d="M1679.6,2978.6L1695.6,2962.6L1711.6,2978.6L1695.6,2994.6Z" fill="#0000e5"/><path d="M1709.6,2973.0L1725.6,2957.0L1741.6,2973.0L1725.6,2989.0Z" fill="#0000f1"/><path d="M1712.9,2937.2L1728.9,2921.2L1744.9,2937.2L1728.9,2953.2Z" fill="#0008ff"/><path d="M1581.3,3189.3L1597.3,3173.3L1613.3,3189.3L1597.3,3205.3Z" fill="#001fff"/><path d="M1746.1,2912.0L1762.1,2896.0L1778.1,2912.0L1762.1,2928.0Z" fill="#0000e5"/><path d="M1747.6,2964.5L1763.6,2948.5L1779.6,2964.5L1763.6,2980.5Z" fill="#0000fc"/><path d="M1765.3,2960.9L1781.3,2944.9L1797.3,2960.9L1781.3,2976.9Z" fill="#0000fc"/><path d="M1814.1,2950.9L1830.1,2934.9L1846.1,2950.9L1830.1,2966.9Z" fill="#0000f1"/><path d="M1987.1,2916.5L2003.1,2900.5L2019.1,2916.5L2003.1,2932.5Z" fill="#0000da"/><path d="M1839.3,3104.3L1855.3,3088.3L1871.3,3104.3L1855.3,3120.3Z" fill="#0000fc"/><path d="M1760.9,3149.8L1776.9,3133.8L1792.9,3149.8L1776.9,3165.8Z" fill="#0014ff"/><path d="M1939.1,3149.4L1955.1,3133.4L1971.1,3149.4L1955.1,3165.4Z" fill="#0008ff"/><path d="M1928.0,2779.7L1944.0,2763.7L1960.0,2779.7L1944.0,2795.7Z" fill="#00b3ff"/><path d="M1019.8,2461.8L1035.8,2445.8L1051.8,2461.8L1035.8,2477.8Z" fill="#0000f1"/><path d="M1065.3,2493.6L1081.3,2477.6L1097.3,2493.6L1081.3,2509.6Z" fill="#0000f1"/><path d="M1085.7,2508.8L1101.7,2492.8L1117.7,2508.8L1101.7,2524.8Z" fill="#0000f1"/><path d="M1100.9,2520.1L1116.9,2504.1L1132.9,2520.1L1116.9,2536.1Z" fill="#0000f1"/><path d="M1028.9,2558.0L1044.9,2542.0L1060.9,2558.0L1044.9,2574.0Z" fill="#0000f1"/><path d="M593.5,3260.7L609.5,3244.7L625.5,3260.7L609.5,3276.7Z" fill="#0000f1"/><path d="M1125.8,3389.5L1141.8,3373.5L1157.8,3389.5L1141.8,3405.5Z" fill="#0000f1"/><path d="M1239.4,3300.9L1255.4,3284.9L1271.4,3300.9L1255.4,3316.9Z" fill="#0000f1"/><path d="M1286.4,3263.0L1302.4,3247.0L1318.4,3263.0L1302.4,3279.0Z" fill="#0000f1"/><path d="M1464.3,3292.5L1480.3,3276.5L1496.3,3292.5L1480.3,3308.5Z" fill="#0000f1"/><path d="M1422.7,3374.3L1438.7,3358.3L1454.7,3374.3L1438.7,3390.3Z" fill="#0000f1"/><path d="M1572.6,3391.7L1588.6,3375.7L1604.6,3391.7L1588.6,3407.7Z" fill="#0000f1"/><path d="M1599.1,3380.4L1615.1,3364.4L1631.1,3380.4L1615.1,3396.4Z" fill="#001fff"/><path d="M1277.3,3431.1L1293.3,3415.1L1309.3,3431.1L1293.3,3447.1Z" fill="#001fff"/><path d="M1301.5,3418.2L1317.5,3402.2L1333.5,3418.2L1317.5,3434.2Z" fill="#0000f1"/><path d="M1347.0,3524.2L1363.0,3508.2L1379.0,3524.2L1363.0,3540.2Z" fill="#001fff"/><path d="M1570.3,3533.3L1586.3,3517.3L1602.3,3533.3L1586.3,3549.3Z" fill="#0063ff"/><path d="M1676.4,3315.3L1692.4,3299.3L1708.4,3315.3L1692.4,3331.3Z" fill="#0000f1"/><path d="M1915.7,3258.5L1931.7,3242.5L1947.7,3258.5L1931.7,3274.5Z" fill="#0000f1"/><path d="M1702.9,3372.8L1718.9,3356.8L1734.9,3372.8L1718.9,3388.8Z" fill="#0000f1"/><path d="M2335.9,2874.3L2363.9,2860.3L2363.9,2888.3Z" fill="#00e0ff"/><path d="M2342.5,2877.5L2370.5,2863.5L2370.5,2891.5Z" fill="#00e8ff"/><path d="M2349.2,2880.6L2377.2,2866.6L2377.2,2894.6Z" fill="#00f0ff"/><path d="M2355.8,2883.7L2383.8,2869.7L2383.8,2897.7Z" fill="#00f8ff"/><path d="M2362.5,2886.9L2390.5,2872.9L2390.5,2900.9Z" fill="#01fffe"/><path d="M2369.1,2890.0L2397.1,2876.0L2397.1,2904.0Z" fill="#09fff6"/><path d="M2375.8,2893.1L2403.8,2879.1L2403.8,2907.1Z" fill="#10ffef"/><path d="M2382.4,2896.2L2410.4,2882.2L2410.4,2910.2Z" fill="#18ffe7"/><path d="M2389.1,2899.4L2417.1,2885.4L2417.1,2913.4Z" fill="#20ffdf"/><path d="M2395.7,2902.5L2423.7,2888.5L2423.7,2916.5Z" fill="#28ffd7"/><path d="M2402.4,2905.6L2430.4,2891.6L2430.4,2919.6Z" fill="#30ffcf"/><path d="M2408.9,2908.2L2436.9,2894.2L2436.9,2922.2Z" fill="#2fffd0"/><path d="M2415.4,2910.9L2443.4,2896.9L2443.4,2924.9Z" fill="#2effd1"/><path d="M2421.9,2913.5L2449.9,2899.5L2449.9,2927.5Z" fill="#2cffd3"/><path d="M2428.5,2916.1L2456.5,2902.1L2456.5,2930.1Z" fill="#2bffd4"/><path d="M2435.0,2918.7L2463.0,2904.7L2463.0,2932.7Z" fill="#2affd5"/><path d="M2441.5,2921.3L2469.5,2907.3L2469.5,2935.3Z" fill="#29ffd6"/><path d="M2448.0,2923.9L2476.0,2909.9L2476.0,2937.9Z" fill="#27ffd8"/><path d="M2454.5,2926.5L2482.5,2912.5L2482.5,2940.5Z" fill="#26ffd9"/><path d="M2461.1,2929.1L2489.1,2915.1L2489.1,2943.1Z" fill="#25ffda"/><path d="M2467.6,2932.2L2495.6,2918.2L2495.6,2946.2Z" fill="#1fffe0"/><path d="M2474.1,2935.2L2502.1,2921.2L2502.1,2949.2Z" fill="#18ffe7"/><path d="M2480.6,2938.2L2508.6,2924.2L2508.6,2952.2Z" fill="#12ffed"/><path d="M2487.1,2941.3L2515.1,2927.3L2515.1,2955.3Z" fill="#0cfff3"/><path d="M2493.7,2944.3L2521.7,2930.3L2521.7,2958.3Z" fill="#05fffa"/><path d="M2500.2,2947.4L2528.2,2933.4L2528.2,2961.4Z" fill="#00feff"/><path d="M2506.7,2950.4L2534.7,2936.4L2534.7,2964.4Z" fill="#00f8ff"/><path d="M2513.2,2953.5L2541.2,2939.5L2541.2,2967.5Z" fill="#00f1ff"/><path d="M2519.8,2956.5L2547.8,2942.5L2547.8,2970.5Z" fill="#00ebff"/><path d="M2526.3,2959.4L2554.3,2945.4L2554.3,2973.4Z" fill="#00eaff"/><path d="M2532.8,2962.4L2560.8,2948.4L2560.8,2976.4Z" fill="#00e9ff"/><path d="M2539.3,2965.3L2567.3,2951.3L2567.3,2979.3Z" fill="#00e8ff"/><path d="M2545.8,2968.2L2573.8,2954.2L2573.8,2982.2Z" fill="#00e7ff"/><path d="M2552.4,2971.2L2580.4,2957.2L2580.4,2985.2Z" fill="#00e6ff"/><path d="M2558.9,2974.1L2586.9,2960.1L2586.9,2988.1Z" fill="#00e6ff"/><path d="M2565.4,2977.0L2593.4,2963.0L2593.4,2991.0Z" fill="#00e5ff"/><path d="M2571.9,2980.0L2599.9,2966.0L2599.9,2994.0Z" fill="#00e4ff"/><path d="M2578.4,2982.9L2606.4,2968.9L2606.4,2996.9Z" fill="#00e3ff"/><path d="M2585.0,2985.8L2613.0,2971.8L2613.0,2999.8Z" fill="#00e2ff"/><path d="M2591.5,2988.8L2619.5,2974.8L2619.5,3002.8Z" fill="#00e1ff"/><path d="M2598.0,2991.7L2626.0,2977.7L2626.0,3005.7Z" fill="#00e0ff"/><path d="M2604.5,2994.6L2632.5,2980.6L2632.5,3008.6Z" fill="#00e0ff"/><path d="M2611.0,2997.6L2639.0,2983.6L2639.0,3011.6Z" fill="#00e0ff"/><path d="M2617.6,3000.5L2645.6,2986.5L2645.6,3014.5Z" fill="#00e0ff"/><path d="M2624.1,3003.5L2652.1,2989.5L2652.1,3017.5Z" fill="#00e0ff"/><path d="M2630.6,3006.4L2658.6,2992.4L2658.6,3020.4Z" fill="#00e0ff"/><path d="M2637.1,3009.3L2665.1,2995.3L2665.1,3023.3Z" fill="#00e0ff"/><path d="M2643.6,3012.3L2671.6,2998.3L2671.6,3026.3Z" fill="#00e0ff"/><path d="M2650.2,3015.2L2678.2,3001.2L2678.2,3029.2Z" fill="#00e0ff"/><path d="M2656.7,3018.1L2684.7,3004.1L2684.7,3032.1Z" fill="#00e0ff"/><path d="M2663.2,3021.1L2691.2,3007.1L2691.2,3035.1Z" fill="#00e0ff"/><path d="M2669.7,3024.0L2697.7,3010.0L2697.7,3038.0Z" fill="#00e0ff"/><path d="M2676.3,3026.9L2704.3,3012.9L2704.3,3040.9Z" fill="#00e0ff"/><path d="M2682.4,3030.3L2710.4,3016.3L2710.4,3044.3Z" fill="#00e1ff"/><path d="M2688.5,3033.8L2716.5,3019.8L2716.5,3047.8Z" fill="#00e3ff"/><path d="M2694.6,3037.2L2722.6,3023.2L2722.6,3051.2Z" fill="#00e4ff"/><path d="M2700.7,3040.6L2728.7,3026.6L2728.7,3054.6Z" fill="#00e5ff"/><path d="M2706.8,3044.0L2734.8,3030.0L2734.8,3058.0Z" fill="#00e7ff"/><path d="M2712.9,3047.5L2740.9,3033.5L2740.9,3061.5Z" fill="#00e8ff"/><path d="M2719.0,3050.9L2747.0,3036.9L2747.0,3064.9Z" fill="#00eaff"/><path d="M2725.2,3054.3L2753.2,3040.3L2753.2,3068.3Z" fill="#00ebff"/><path d="M2731.3,3057.7L2759.3,3043.7L2759.3,3071.7Z" fill="#00edff"/><path d="M2737.4,3061.2L2765.4,3047.2L2765.4,3075.2Z" fill="#00eeff"/><path d="M2743.5,3064.6L2771.5,3050.6L2771.5,3078.6Z" fill="#00efff"/><path d="M2749.6,3068.0L2777.6,3054.0L2777.6,3082.0Z" fill="#00f1ff"/><path d="M2755.7,3071.4L2783.7,3057.4L2783.7,3085.4Z" fill="#00f2ff"/><path d="M2761.8,3074.9L2789.8,3060.9L2789.8,3088.9Z" fill="#00f4ff"/><path d="M2768.0,3078.3L2796.0,3064.3L2796.0,3092.3Z" fill="#00f5ff"/><path d="M2774.1,3081.7L2802.1,3067.7L2802.1,3095.7Z" fill="#00f6ff"/><path d="M2780.4,3085.0L2808.4,3071.0L2808.4,3099.0Z" fill="#00f8ff"/><path d="M2786.7,3088.2L2814.7,3074.2L2814.7,3102.2Z" fill="#00f9ff"/><path d="M2793.0,3091.5L2821.0,3077.5L2821.0,3105.5Z" fill="#00faff"/><path d="M2799.3,3094.7L2827.3,3080.7L2827.3,3108.7Z" fill="#00fcff"/><path d="M2805.6,3098.0L2833.6,3084.0L2833.6,3112.0Z" fill="#00fdff"/><path d="M2811.9,3101.3L2839.9,3087.3L2839.9,3115.3Z" fill="#00feff"/><path d="M2818.2,3104.5L2846.2,3090.5L2846.2,3118.5Z" fill="#00ffff"/><path d="M2824.5,3107.8L2852.5,3093.8L2852.5,3121.8Z" fill="#02fffd"/><path d="M2830.8,3111.0L2858.8,3097.0L2858.8,3125.0Z" fill="#03fffc"/><path d="M2837.1,3114.3L2865.1,3100.3L2865.1,3128.3Z" fill="#04fffb"/><path d="M2843.4,3117.6L2871.4,3103.6L2871.4,3131.6Z" fill="#05fffa"/><path d="M2849.7,3120.8L2877.7,3106.8L2877.7,3134.8Z" fill="#07fff8"/><path d="M2856.0,3124.1L2884.0,3110.1L2884.0,3138.1Z" fill="#08fff7"/><path d="M2862.3,3127.3L2890.3,3113.3L2890.3,3141.3Z" fill="#09fff6"/><path d="M2868.6,3130.6L2896.6,3116.6L2896.6,3144.6Z" fill="#0afff5"/><path d="M2874.9,3133.9L2902.9,3119.9L2902.9,3147.9Z" fill="#0cfff3"/><path d="M2881.2,3137.1L2909.2,3123.1L2909.2,3151.1Z" fill="#0dfff2"/><path d="M2887.5,3140.4L2915.5,3126.4L2915.5,3154.4Z" fill="#0efff1"/><path d="M2871.8,2917.4L2884.3,2912.7L2884.9,2899.3L2893.3,2909.8L2906.2,2906.2L2898.8,2917.4L2906.2,2928.5L2893.3,2925.0L2884.9,2935.4L2884.3,2922.1Z" fill="#009cff"/><path d="M2865.5,2921.0L2878.0,2916.3L2878.6,2902.9L2886.9,2913.4L2899.8,2909.8L2892.5,2921.0L2899.8,2932.2L2886.9,2928.6L2878.6,2939.1L2878.0,2925.7Z" fill="#00a0ff"/><path d="M2859.1,2924.6L2871.7,2919.9L2872.3,2906.5L2880.6,2917.0L2893.5,2913.4L2886.1,2924.6L2893.5,2935.8L2880.6,2932.2L2872.3,2942.7L2871.7,2929.3Z" fill="#00a5ff"/><path d="M2852.8,2928.2L2865.4,2923.5L2866.0,2910.1L2874.3,2920.6L2887.2,2917.0L2879.8,2928.2L2887.2,2939.4L2874.3,2935.8L2866.0,2946.3L2865.4,2932.9Z" fill="#00a9ff"/><path d="M2846.5,2931.8L2859.0,2927.1L2859.6,2913.8L2868.0,2924.2L2880.9,2920.7L2873.5,2931.8L2880.9,2943.0L2868.0,2939.4L2859.6,2949.9L2859.0,2936.5Z" fill="#00adff"/><path d="M2840.2,2935.4L2852.7,2930.7L2853.3,2917.4L2861.7,2927.8L2874.6,2924.3L2867.2,2935.4L2874.6,2946.6L2861.7,2943.0L2853.3,2953.5L2852.7,2940.1Z" fill="#00b2ff"/><path d="M2833.9,2939.0L2846.4,2934.3L2847.0,2921.0L2855.3,2931.4L2868.2,2927.9L2860.9,2939.0L2868.2,2950.2L2855.3,2946.7L2847.0,2957.1L2846.4,2943.7Z" fill="#00b6ff"/><path d="M2827.5,2942.7L2840.1,2938.0L2840.7,2924.6L2849.0,2935.0L2861.9,2931.5L2854.5,2942.7L2861.9,2953.8L2849.0,2950.3L2840.7,2960.7L2840.1,2947.4Z" fill="#00baff"/><path d="M2821.2,2946.3L2833.8,2941.6L2834.4,2928.2L2842.7,2938.7L2855.6,2935.1L2848.2,2946.3L2855.6,2957.4L2842.7,2953.9L2834.4,2964.3L2833.8,2951.0Z" fill="#00bfff"/><path d="M2814.9,2949.9L2827.4,2945.2L2828.0,2931.8L2836.4,2942.3L2849.3,2938.7L2841.9,2949.9L2849.3,2961.0L2836.4,2957.5L2828.0,2967.9L2827.4,2954.6Z" fill="#00c3ff"/><path d="M2808.6,2953.5L2821.1,2948.8L2821.7,2935.4L2830.1,2945.9L2843.0,2942.3L2835.6,2953.5L2843.0,2964.7L2830.1,2961.1L2821.7,2971.6L2821.1,2958.2Z" fill="#00c7ff"/><path d="M2802.3,2957.1L2814.8,2952.4L2815.4,2939.0L2823.7,2949.5L2836.6,2945.9L2829.3,2957.1L2836.6,2968.3L2823.7,2964.7L2815.4,2975.2L2814.8,2961.8Z" fill="#00ccff"/><path d="M2795.9,2960.7L2808.5,2956.0L2809.1,2942.6L2817.4,2953.1L2830.3,2949.5L2822.9,2960.7L2830.3,2971.9L2817.4,2968.3L2809.1,2978.8L2808.5,2965.4Z" fill="#00d0ff"/><path d="M2789.6,2964.3L2802.2,2959.6L2802.8,2946.3L2811.1,2956.7L2824.0,2953.2L2816.6,2964.3L2824.0,2975.5L2811.1,2971.9L2802.8,2982.4L2802.2,2969.0Z" fill="#00d4ff"/><path d="M2783.1,2967.9L2795.6,2963.2L2796.2,2949.8L2804.6,2960.3L2817.5,2956.7L2810.1,2967.9L2817.5,2979.1L2804.6,2975.5L2796.2,2986.0L2795.6,2972.6Z" fill="#00d5ff"/><path d="M2776.6,2971.5L2789.1,2966.8L2789.7,2953.4L2798.1,2963.9L2811.0,2960.3L2803.6,2971.5L2811.0,2982.7L2798.1,2979.1L2789.7,2989.6L2789.1,2976.2Z" fill="#00d6ff"/><path d="M2770.1,2975.1L2782.6,2970.4L2783.2,2957.0L2791.5,2967.5L2804.4,2963.9L2797.1,2975.1L2804.4,2986.3L2791.5,2982.7L2783.2,2993.2L2782.6,2979.8Z" fill="#00d7ff"/><path d="M2763.5,2978.7L2776.1,2974.0L2776.7,2960.6L2785.0,2971.1L2797.9,2967.5L2790.5,2978.7L2797.9,2989.8L2785.0,2986.3L2776.7,2996.7L2776.1,2983.4Z" fill="#00d8ff"/><path d="M2757.0,2982.3L2769.5,2977.6L2770.2,2964.2L2778.5,2974.6L2791.4,2971.1L2784.0,2982.3L2791.4,2993.4L2778.5,2989.9L2770.2,3000.3L2769.5,2987.0Z" fill="#00d9ff"/><path d="M2750.5,2985.8L2763.0,2981.1L2763.6,2967.8L2772.0,2978.2L2784.9,2974.7L2777.5,2985.8L2784.9,2997.0L2772.0,2993.5L2763.6,3003.9L2763.0,2990.5Z" fill="#00daff"/><path d="M2744.0,2989.4L2756.5,2984.7L2757.1,2971.4L2765.5,2981.8L2778.4,2978.3L2771.0,2989.4L2778.4,3000.6L2765.5,2997.0L2757.1,3007.5L2756.5,2994.1Z" fill="#00dbff"/><path d="M2737.5,2993.0L2750.0,2988.3L2750.6,2974.9L2758.9,2985.4L2771.8,2981.8L2764.5,2993.0L2771.8,3004.2L2758.9,3000.6L2750.6,3011.1L2750.0,2997.7Z" fill="#00dcff"/><path d="M2730.9,2996.6L2743.5,2991.9L2744.1,2978.5L2752.4,2989.0L2765.3,2985.4L2757.9,2996.6L2765.3,3007.8L2752.4,3004.2L2744.1,3014.7L2743.5,3001.3Z" fill="#00ddff"/><path d="M2724.4,3000.2L2736.9,2995.5L2737.5,2982.1L2745.9,2992.6L2758.8,2989.0L2751.4,3000.2L2758.8,3011.4L2745.9,3007.8L2737.5,3018.3L2736.9,3004.9Z" fill="#00deff"/><path d="M2717.9,3003.8L2730.4,2999.1L2731.0,2985.7L2739.4,2996.2L2752.3,2992.6L2744.9,3003.8L2752.3,3014.9L2739.4,3011.4L2731.0,3021.8L2730.4,3008.5Z" fill="#00dfff"/><path d="M2711.4,3007.4L2723.9,3002.7L2724.5,2989.3L2732.8,2999.8L2745.7,2996.2L2738.4,3007.4L2745.7,3018.5L2732.8,3015.0L2724.5,3025.4L2723.9,3012.1Z" fill="#00e0ff"/><path d="M2705.3,3011.3L2717.8,3006.6L2718.4,2993.2L2726.7,3003.7L2739.6,3000.1L2732.3,3011.3L2739.6,3022.4L2726.7,3018.9L2718.4,3029.3L2717.8,3016.0Z" fill="#00e2ff"/><path d="M2699.1,3015.2L2711.7,3010.5L2712.3,2997.1L2720.6,3007.6L2733.5,3004.0L2726.1,3015.2L2733.5,3026.4L2720.6,3022.8L2712.3,3033.3L2711.7,3019.9Z" fill="#00e4ff"/><path d="M2693.0,3019.1L2705.6,3014.4L2706.2,3001.0L2714.5,3011.5L2727.4,3007.9L2720.0,3019.1L2727.4,3030.3L2714.5,3026.7L2706.2,3037.2L2705.6,3023.8Z" fill="#00e6ff"/><path d="M2686.9,3023.0L2699.5,3018.3L2700.1,3004.9L2708.4,3015.4L2721.3,3011.8L2713.9,3023.0L2721.3,3034.2L2708.4,3030.6L2700.1,3041.1L2699.5,3027.7Z" fill="#00e8ff"/><path d="M2680.8,3026.9L2693.3,3022.2L2693.9,3008.9L2702.3,3019.3L2715.2,3015.8L2707.8,3026.9L2715.2,3038.1L2702.3,3034.5L2693.9,3045.0L2693.3,3031.6Z" fill="#00eaff"/><path d="M2674.7,3030.8L2687.2,3026.1L2687.8,3012.8L2696.2,3023.2L2709.1,3019.7L2701.7,3030.8L2709.1,3042.0L2696.2,3038.4L2687.8,3048.9L2687.2,3035.5Z" fill="#00edff"/><path d="M2668.6,3034.8L2681.1,3030.0L2681.7,3016.7L2690.1,3027.1L2703.0,3023.6L2695.6,3034.8L2703.0,3045.9L2690.1,3042.4L2681.7,3052.8L2681.1,3039.5Z" fill="#00efff"/><path d="M2662.5,3038.7L2675.0,3034.0L2675.6,3020.6L2683.9,3031.1L2696.8,3027.5L2689.5,3038.7L2696.8,3049.8L2683.9,3046.3L2675.6,3056.7L2675.0,3043.4Z" fill="#00f1ff"/><path d="M2656.4,3042.6L2668.9,3037.9L2669.5,3024.5L2677.8,3035.0L2690.7,3031.4L2683.4,3042.6L2690.7,3053.7L2677.8,3050.2L2669.5,3060.6L2668.9,3047.3Z" fill="#00f3ff"/><path d="M2650.2,3046.5L2662.8,3041.8L2663.4,3028.4L2671.7,3038.9L2684.6,3035.3L2677.2,3046.5L2684.6,3057.7L2671.7,3054.1L2663.4,3064.6L2662.8,3051.2Z" fill="#00f5ff"/><path d="M2644.1,3050.4L2656.7,3045.7L2657.3,3032.3L2665.6,3042.8L2678.5,3039.2L2671.1,3050.4L2678.5,3061.6L2665.6,3058.0L2657.3,3068.5L2656.7,3055.1Z" fill="#00f7ff"/><path d="M2638.0,3054.3L2650.5,3049.6L2651.1,3036.2L2659.5,3046.7L2672.4,3043.1L2665.0,3054.3L2672.4,3065.5L2659.5,3061.9L2651.1,3072.4L2650.5,3059.0Z" fill="#00f9ff"/><path d="M2631.9,3058.2L2644.4,3053.5L2645.0,3040.2L2653.4,3050.6L2666.3,3047.1L2658.9,3058.2L2666.3,3069.4L2653.4,3065.8L2645.0,3076.3L2644.4,3062.9Z" fill="#00fbff"/><path d="M2625.8,3062.1L2638.3,3057.4L2638.9,3044.1L2647.3,3054.5L2660.2,3051.0L2652.8,3062.1L2660.2,3073.3L2647.3,3069.7L2638.9,3080.2L2638.3,3066.8Z" fill="#00feff"/><path d="M2619.7,3066.1L2632.2,3061.3L2632.8,3048.0L2641.1,3058.4L2654.0,3054.9L2646.7,3066.1L2654.0,3077.2L2641.1,3073.7L2632.8,3084.1L2632.2,3070.8Z" fill="#01fffe"/><path d="M2613.6,3070.0L2626.1,3065.3L2626.7,3051.9L2635.0,3062.4L2647.9,3058.8L2640.6,3070.0L2647.9,3081.1L2635.0,3077.6L2626.7,3088.0L2626.1,3074.7Z" fill="#03fffc"/><path d="M2607.4,3073.5L2619.9,3068.8L2620.5,3055.4L2628.9,3065.9L2641.8,3062.3L2634.4,3073.5L2641.8,3084.6L2628.9,3081.1L2620.5,3091.5L2619.9,3078.2Z" fill="#03fffc"/><path d="M2601.2,3077.0L2613.7,3072.3L2614.3,3058.9L2622.7,3069.4L2635.6,3065.8L2628.2,3077.0L2635.6,3088.1L2622.7,3084.6L2614.3,3095.0L2613.7,3081.7Z" fill="#04fffb"/><path d="M2595.0,3080.5L2607.6,3075.8L2608.2,3062.4L2616.5,3072.9L2629.4,3069.3L2622.0,3080.5L2629.4,3091.6L2616.5,3088.1L2608.2,3098.5L2607.6,3085.2Z" fill="#05fffa"/><path d="M2588.9,3084.0L2601.4,3079.3L2602.0,3065.9L2610.3,3076.4L2623.2,3072.8L2615.9,3084.0L2623.2,3095.1L2610.3,3091.6L2602.0,3102.0L2601.4,3088.7Z" fill="#05fffa"/><path d="M2582.7,3087.5L2595.2,3082.8L2595.8,3069.4L2604.1,3079.9L2617.0,3076.3L2609.7,3087.5L2617.0,3098.6L2604.1,3095.1L2595.8,3105.5L2595.2,3092.2Z" fill="#06fff9"/><path d="M2576.5,3091.0L2589.0,3086.3L2589.6,3072.9L2598.0,3083.4L2610.9,3079.8L2603.5,3091.0L2610.9,3102.1L2598.0,3098.6L2589.6,3109.0L2589.0,3095.7Z" fill="#06fff9"/><path d="M2570.3,3094.5L2582.8,3089.8L2583.4,3076.4L2591.8,3086.9L2604.7,3083.3L2597.3,3094.5L2604.7,3105.6L2591.8,3102.1L2583.4,3112.5L2582.8,3099.2Z" fill="#07fff8"/><path d="M2564.1,3098.0L2576.7,3093.3L2577.3,3079.9L2585.6,3090.4L2598.5,3086.8L2591.1,3098.0L2598.5,3109.1L2585.6,3105.6L2577.3,3116.0L2576.7,3102.7Z" fill="#08fff7"/><path d="M2558.0,3101.5L2570.5,3096.8L2571.1,3083.4L2579.4,3093.9L2592.3,3090.3L2585.0,3101.5L2592.3,3112.6L2579.4,3109.1L2571.1,3119.5L2570.5,3106.2Z" fill="#08fff7"/><path d="M2551.8,3105.0L2564.3,3100.3L2564.9,3086.9L2573.3,3097.4L2586.2,3093.8L2578.8,3105.0L2586.2,3116.1L2573.3,3112.6L2564.9,3123.0L2564.3,3109.7Z" fill="#09fff6"/><path d="M2545.6,3108.5L2558.1,3103.8L2558.7,3090.4L2567.1,3100.9L2580.0,3097.3L2572.6,3108.5L2580.0,3119.6L2567.1,3116.1L2558.7,3126.5L2558.1,3113.2Z" fill="#09fff6"/><path d="M2539.4,3112.0L2552.0,3107.3L2552.6,3093.9L2560.9,3104.4L2573.8,3100.8L2566.4,3112.0L2573.8,3123.1L2560.9,3119.6L2552.6,3130.0L2552.0,3116.7Z" fill="#0afff5"/><path d="M2533.3,3115.5L2545.8,3110.8L2546.4,3097.4L2554.7,3107.9L2567.6,3104.3L2560.3,3115.5L2567.6,3126.6L2554.7,3123.1L2546.4,3133.5L2545.8,3120.2Z" fill="#0bfff4"/><path d="M2527.1,3119.0L2539.6,3114.3L2540.2,3100.9L2548.5,3111.4L2561.4,3107.8L2554.1,3119.0L2561.4,3130.1L2548.5,3126.6L2540.2,3137.0L2539.6,3123.7Z" fill="#0bfff4"/><path d="M2520.9,3122.5L2533.4,3117.8L2534.0,3104.4L2542.4,3114.9L2555.3,3111.3L2547.9,3122.5L2555.3,3133.6L2542.4,3130.1L2534.0,3140.5L2533.4,3127.2Z" fill="#0cfff3"/><path d="M2514.7,3126.0L2527.2,3121.3L2527.8,3107.9L2536.2,3118.4L2549.1,3114.8L2541.7,3126.0L2549.1,3137.1L2536.2,3133.6L2527.8,3144.0L2527.2,3130.7Z" fill="#0cfff3"/><path d="M2508.5,3129.5L2521.1,3124.8L2521.7,3111.4L2530.0,3121.9L2542.9,3118.3L2535.5,3129.5L2542.9,3140.6L2530.0,3137.1L2521.7,3147.5L2521.1,3134.2Z" fill="#0dfff2"/><path d="M2502.4,3133.0L2514.9,3128.3L2515.5,3114.9L2523.8,3125.4L2536.7,3121.8L2529.4,3133.0L2536.7,3144.1L2523.8,3140.6L2515.5,3151.0L2514.9,3137.7Z" fill="#0efff1"/><path d="M2496.2,3136.5L2508.7,3131.8L2509.3,3118.4L2517.7,3128.9L2530.6,3125.3L2523.2,3136.5L2530.6,3147.6L2517.7,3144.1L2509.3,3154.5L2508.7,3141.2Z" fill="#0efff1"/><path d="M2489.7,3139.9L2502.2,3135.2L2502.8,3121.8L2511.1,3132.3L2524.0,3128.7L2516.7,3139.9L2524.0,3151.0L2511.1,3147.5L2502.8,3157.9L2502.2,3144.6Z" fill="#0dfff2"/><path d="M2483.1,3143.3L2495.7,3138.6L2496.3,3125.2L2504.6,3135.6L2517.5,3132.1L2510.1,3143.3L2517.5,3154.4L2504.6,3150.9L2496.3,3161.3L2495.7,3148.0Z" fill="#0dfff2"/><path d="M2476.6,3146.6L2489.2,3141.9L2489.8,3128.6L2498.1,3139.0L2511.0,3135.5L2503.6,3146.6L2511.0,3157.8L2498.1,3154.3L2489.8,3164.7L2489.2,3151.4Z" fill="#0cfff3"/><path d="M2470.1,3150.0L2482.6,3145.3L2483.2,3132.0L2491.6,3142.4L2504.5,3138.9L2497.1,3150.0L2504.5,3161.2L2491.6,3157.6L2483.2,3168.1L2482.6,3154.7Z" fill="#0bfff4"/><path d="M2463.6,3153.4L2476.1,3148.7L2476.7,3135.4L2485.1,3145.8L2498.0,3142.3L2490.6,3153.4L2498.0,3164.6L2485.1,3161.0L2476.7,3171.5L2476.1,3158.1Z" fill="#0afff5"/><path d="M2457.1,3156.8L2469.6,3152.1L2470.2,3138.8L2478.5,3149.2L2491.4,3145.7L2484.1,3156.8L2491.4,3168.0L2478.5,3164.4L2470.2,3174.9L2469.6,3161.5Z" fill="#0afff5"/><path d="M2450.5,3160.2L2463.1,3155.5L2463.7,3142.1L2472.0,3152.6L2484.9,3149.0L2477.5,3160.2L2484.9,3171.4L2472.0,3167.8L2463.7,3178.3L2463.1,3164.9Z" fill="#09fff6"/><path d="M2444.0,3163.6L2456.5,3158.9L2457.1,3145.5L2465.5,3156.0L2478.4,3152.4L2471.0,3163.6L2478.4,3174.8L2465.5,3171.2L2457.1,3181.7L2456.5,3168.3Z" fill="#08fff7"/><path d="M2437.5,3167.0L2450.0,3162.3L2450.6,3148.9L2459.0,3159.4L2471.9,3155.8L2464.5,3167.0L2471.9,3178.2L2459.0,3174.6L2450.6,3185.1L2450.0,3171.7Z" fill="#07fff8"/><path d="M2431.0,3170.4L2443.5,3165.7L2444.1,3152.3L2452.5,3162.8L2465.4,3159.2L2458.0,3170.4L2465.4,3181.6L2452.5,3178.0L2444.1,3188.5L2443.5,3175.1Z" fill="#07fff8"/><path d="M2424.5,3173.8L2437.0,3169.1L2437.6,3155.7L2445.9,3166.2L2458.8,3162.6L2451.5,3173.8L2458.8,3184.9L2445.9,3181.4L2437.6,3191.8L2437.0,3178.5Z" fill="#06fff9"/><path d="M2417.9,3177.2L2430.5,3172.5L2431.1,3159.1L2439.4,3169.6L2452.3,3166.0L2444.9,3177.2L2452.3,3188.3L2439.4,3184.8L2431.1,3195.2L2430.5,3181.9Z" fill="#05fffa"/><path d="M2411.4,3180.6L2423.9,3175.9L2424.5,3162.5L2432.9,3172.9L2445.8,3169.4L2438.4,3180.6L2445.8,3191.7L2432.9,3188.2L2424.5,3198.6L2423.9,3185.3Z" fill="#04fffb"/><path d="M2404.9,3183.9L2417.4,3179.2L2418.0,3165.9L2426.4,3176.3L2439.3,3172.8L2431.9,3183.9L2439.3,3195.1L2426.4,3191.6L2418.0,3202.0L2417.4,3188.6Z" fill="#04fffb"/><path d="M2398.4,3187.3L2410.9,3182.6L2411.5,3169.3L2419.8,3179.7L2432.7,3176.2L2425.4,3187.3L2432.7,3198.5L2419.8,3194.9L2411.5,3205.4L2410.9,3192.0Z" fill="#03fffc"/><rect x="2678.8" y="3030.1" width="25.0" height="25.0" fill="#00e0ff"/><rect x="2685.9" y="3029.0" width="25.0" height="25.0" fill="#00daff"/><rect x="2693.0" y="3027.9" width="25.0" height="25.0" fill="#00d3ff"/><rect x="2700.1" y="3026.9" width="25.0" height="25.0" fill="#00cdff"/><rect x="2707.2" y="3025.8" width="25.0" height="25.0" fill="#00c7ff"/><rect x="2714.3" y="3024.7" width="25.0" height="25.0" fill="#00c1ff"/><rect x="2721.4" y="3023.7" width="25.0" height="25.0" fill="#00bbff"/><rect x="2728.5" y="3022.6" width="25.0" height="25.0" fill="#00b5ff"/><rect x="2735.7" y="3021.5" width="25.0" height="25.0" fill="#00aeff"/><rect x="2742.8" y="3020.5" width="25.0" height="25.0" fill="#00a8ff"/><rect x="2749.9" y="3019.4" width="25.0" height="25.0" fill="#00a2ff"/><rect x="2757.0" y="3018.3" width="25.0" height="25.0" fill="#009cff"/><rect x="2764.8" y="3016.8" width="25.0" height="25.0" fill="#0093ff"/><rect x="2772.7" y="3015.2" width="25.0" height="25.0" fill="#008aff"/><rect x="2780.5" y="3013.6" width="25.0" height="25.0" fill="#0081ff"/><rect x="2788.3" y="3012.1" width="25.0" height="25.0" fill="#0078ff"/><rect x="2796.1" y="3010.5" width="25.0" height="25.0" fill="#006eff"/><rect x="2803.3" y="3009.6" width="25.0" height="25.0" fill="#0072ff"/><rect x="2810.6" y="3008.7" width="25.0" height="25.0" fill="#0075ff"/><rect x="2817.8" y="3007.8" width="25.0" height="25.0" fill="#0079ff"/><rect x="2825.0" y="3006.9" width="25.0" height="25.0" fill="#007cff"/><rect x="2832.2" y="3006.0" width="25.0" height="25.0" fill="#0080ff"/><rect x="2839.5" y="3005.1" width="25.0" height="25.0" fill="#0083ff"/><rect x="2846.7" y="3004.2" width="25.0" height="25.0" fill="#0087ff"/><rect x="2853.9" y="3003.3" width="25.0" height="25.0" fill="#008aff"/><rect x="2861.1" y="3002.4" width="25.0" height="25.0" fill="#008eff"/><rect x="2868.4" y="3001.5" width="25.0" height="25.0" fill="#0091ff"/><rect x="2875.6" y="3000.6" width="25.0" height="25.0" fill="#0095ff"/><rect x="2882.8" y="2999.7" width="25.0" height="25.0" fill="#0098ff"/><rect x="2890.0" y="2998.8" width="25.0" height="25.0" fill="#009cff"/></g>
<path d="M2904.0,3079.0L508.0,3079.0M1706.0,1881.0L1706.0,4277.0M1919.3,2955.8L2743.5,2480.0M1829.2,2865.7L2305.0,2041.5M1582.8,2865.7L1107.0,2041.5M1492.7,2955.8L668.5,2480.0M1492.7,3202.2L668.5,3678.0M1582.8,3292.3L1107.0,4116.5M1829.2,3292.3L2305.0,4116.5M1919.3,3202.2L2743.5,3678.0" stroke="#000" stroke-width="2" fill="none"/>
<circle cx="1706.0" cy="3079.0" r="246.35" stroke="#000" stroke-width="2.2" fill="none"/>
<circle cx="1706.0" cy="3079.0" r="493.85" stroke="#000" stroke-width="2.2" fill="none"/>
</g>
<circle cx="1706.0" cy="3079.0" r="1213.5" stroke="#000" stroke-width="31.0" fill="none"/>
<path d="M2312.75,2028.08A1213.5,1213.5 0 0 1 2756.92,2472.25M2919.50,3079.00A1213.5,1213.5 0 0 1 2756.92,3685.75M2312.75,4129.92A1213.5,1213.5 0 0 1 1706.00,4292.50M1099.25,4129.92A1213.5,1213.5 0 0 1 655.08,3685.75M492.50,3079.00A1213.5,1213.5 0 0 1 655.08,2472.25M1099.25,2028.08A1213.5,1213.5 0 0 1 1706.00,1865.50" stroke="#fff" stroke-width="24.0" fill="none"/>
<text transform="translate(1706.9,1772.6) rotate(180) scale(1,1.06)" font-size="66.8" text-anchor="middle">90<tspan font-size="48" dy="-14">°</tspan></text>
<text transform="translate(1707.6,4333.7) rotate(180) scale(1,1.06)" font-size="66.8" text-anchor="middle">−90<tspan font-size="48" dy="-14">°</tspan></text>
<text transform="translate(451.8,3080.0) rotate(-90) scale(1,1.06)" font-size="66.8" text-anchor="middle">−180<tspan font-size="48" dy="-14">°</tspan></text>
<text transform="translate(3012.7,3079.5) rotate(-90) scale(1,1.06)" font-size="66.8" text-anchor="middle">0<tspan font-size="48" dy="-14">°</tspan></text>
<text transform="translate(1078.0,1988.5) rotate(-30) scale(1,1.06)" font-size="66.8" text-anchor="middle">120<tspan font-size="48" dy="-14">°</tspan></text>
<text transform="translate(619.3,2446.2) rotate(-60) scale(1,1.06)" font-size="66.8" text-anchor="middle">150<tspan font-size="48" dy="-14">°</tspan></text>
<text transform="translate(2359.6,1948.5) rotate(-150) scale(1,1.06)" font-size="66.8" text-anchor="middle">60<tspan font-size="48" dy="-14">°</tspan></text>
<text transform="translate(2837.4,2427.2) rotate(-120) scale(1,1.06)" font-size="66.8" text-anchor="middle">30<tspan font-size="48" dy="-14">°</tspan></text>
<text transform="translate(2838.4,3734.2) rotate(-60) scale(1,1.06)" font-size="66.8" text-anchor="middle">−30<tspan font-size="48" dy="-14">°</tspan></text>
<text transform="translate(2359.2,4212.9) rotate(-30) scale(1,1.06)" font-size="66.8" text-anchor="middle">−60<tspan font-size="48" dy="-14">°</tspan></text>
<text transform="translate(1080.8,4162.4) rotate(-150) scale(1,1.06)" font-size="66.8" text-anchor="middle">−120<tspan font-size="48" dy="-14">°</tspan></text>
<text transform="translate(622.8,3705.8) rotate(-120) scale(1,1.06)" font-size="66.8" text-anchor="middle">−150<tspan font-size="48" dy="-14">°</tspan></text>
<text transform="translate(310.0,3854.0) rotate(-90) scale(1,1.0)" font-size="100.5" text-anchor="start">Significant wave height 27/11/2025</text>
<text transform="translate(918.0,830.0) rotate(-90) scale(1,1.06)" font-size="66.8" text-anchor="start">Cryosat−2</text>
<text transform="translate(991.0,830.0) rotate(-90) scale(1,1.06)" font-size="66.8" text-anchor="start">Sentinel−3A</text>
<text transform="translate(1065.0,830.0) rotate(-90) scale(1,1.06)" font-size="66.8" text-anchor="start">Sentinel−3B</text>
<text transform="translate(1138.0,830.0) rotate(-90) scale(1,1.06)" font-size="66.8" text-anchor="start">SARAL</text>
<path d="M894,872L930,908L894,945L858,908Z" fill="#000"/>
<path d="M930,908L987,874L987,941Z" fill="#000"/>
<rect x="1015" y="882" width="52" height="52" fill="#000"/>
<path d="M1070.0,908.0L1099.4,897.4L1100.4,866.2L1119.6,890.9L1149.6,882.1L1132.0,908.0L1149.6,933.9L1119.6,925.1L1100.4,949.8L1099.4,918.6Z" fill="#000"/>
<rect x="1645.5" y="655.5" width="1260" height="157.5" fill="url(#cb)" stroke="#000" stroke-width="9"/>
<text transform="translate(1741.6,583.0) rotate(-90) scale(1,1.06)" font-size="66.8" text-anchor="middle">8</text>
<text transform="translate(2021.6,583.0) rotate(-90) scale(1,1.06)" font-size="66.8" text-anchor="middle">6</text>
<text transform="translate(2301.5,583.0) rotate(-90) scale(1,1.06)" font-size="66.8" text-anchor="middle">4</text>
<text transform="translate(2581.4,583.0) rotate(-90) scale(1,1.06)" font-size="66.8" text-anchor="middle">2</text>
<text transform="translate(2861.3,583.0) rotate(-90) scale(1,1.06)" font-size="66.8" text-anchor="middle">0</text>
<path d="M1715.6,627L1715.6,651M1995.5,627L1995.5,651M2275.5,627L2275.5,651M2555.4,627L2555.4,651M2835.3,627L2835.3,651" stroke="#000" stroke-width="3.2"/>
<text transform="translate(1618.0,760.5) rotate(-90) scale(1,1.06)" font-size="66.8" text-anchor="start">m</text>
</svg></body></html>
